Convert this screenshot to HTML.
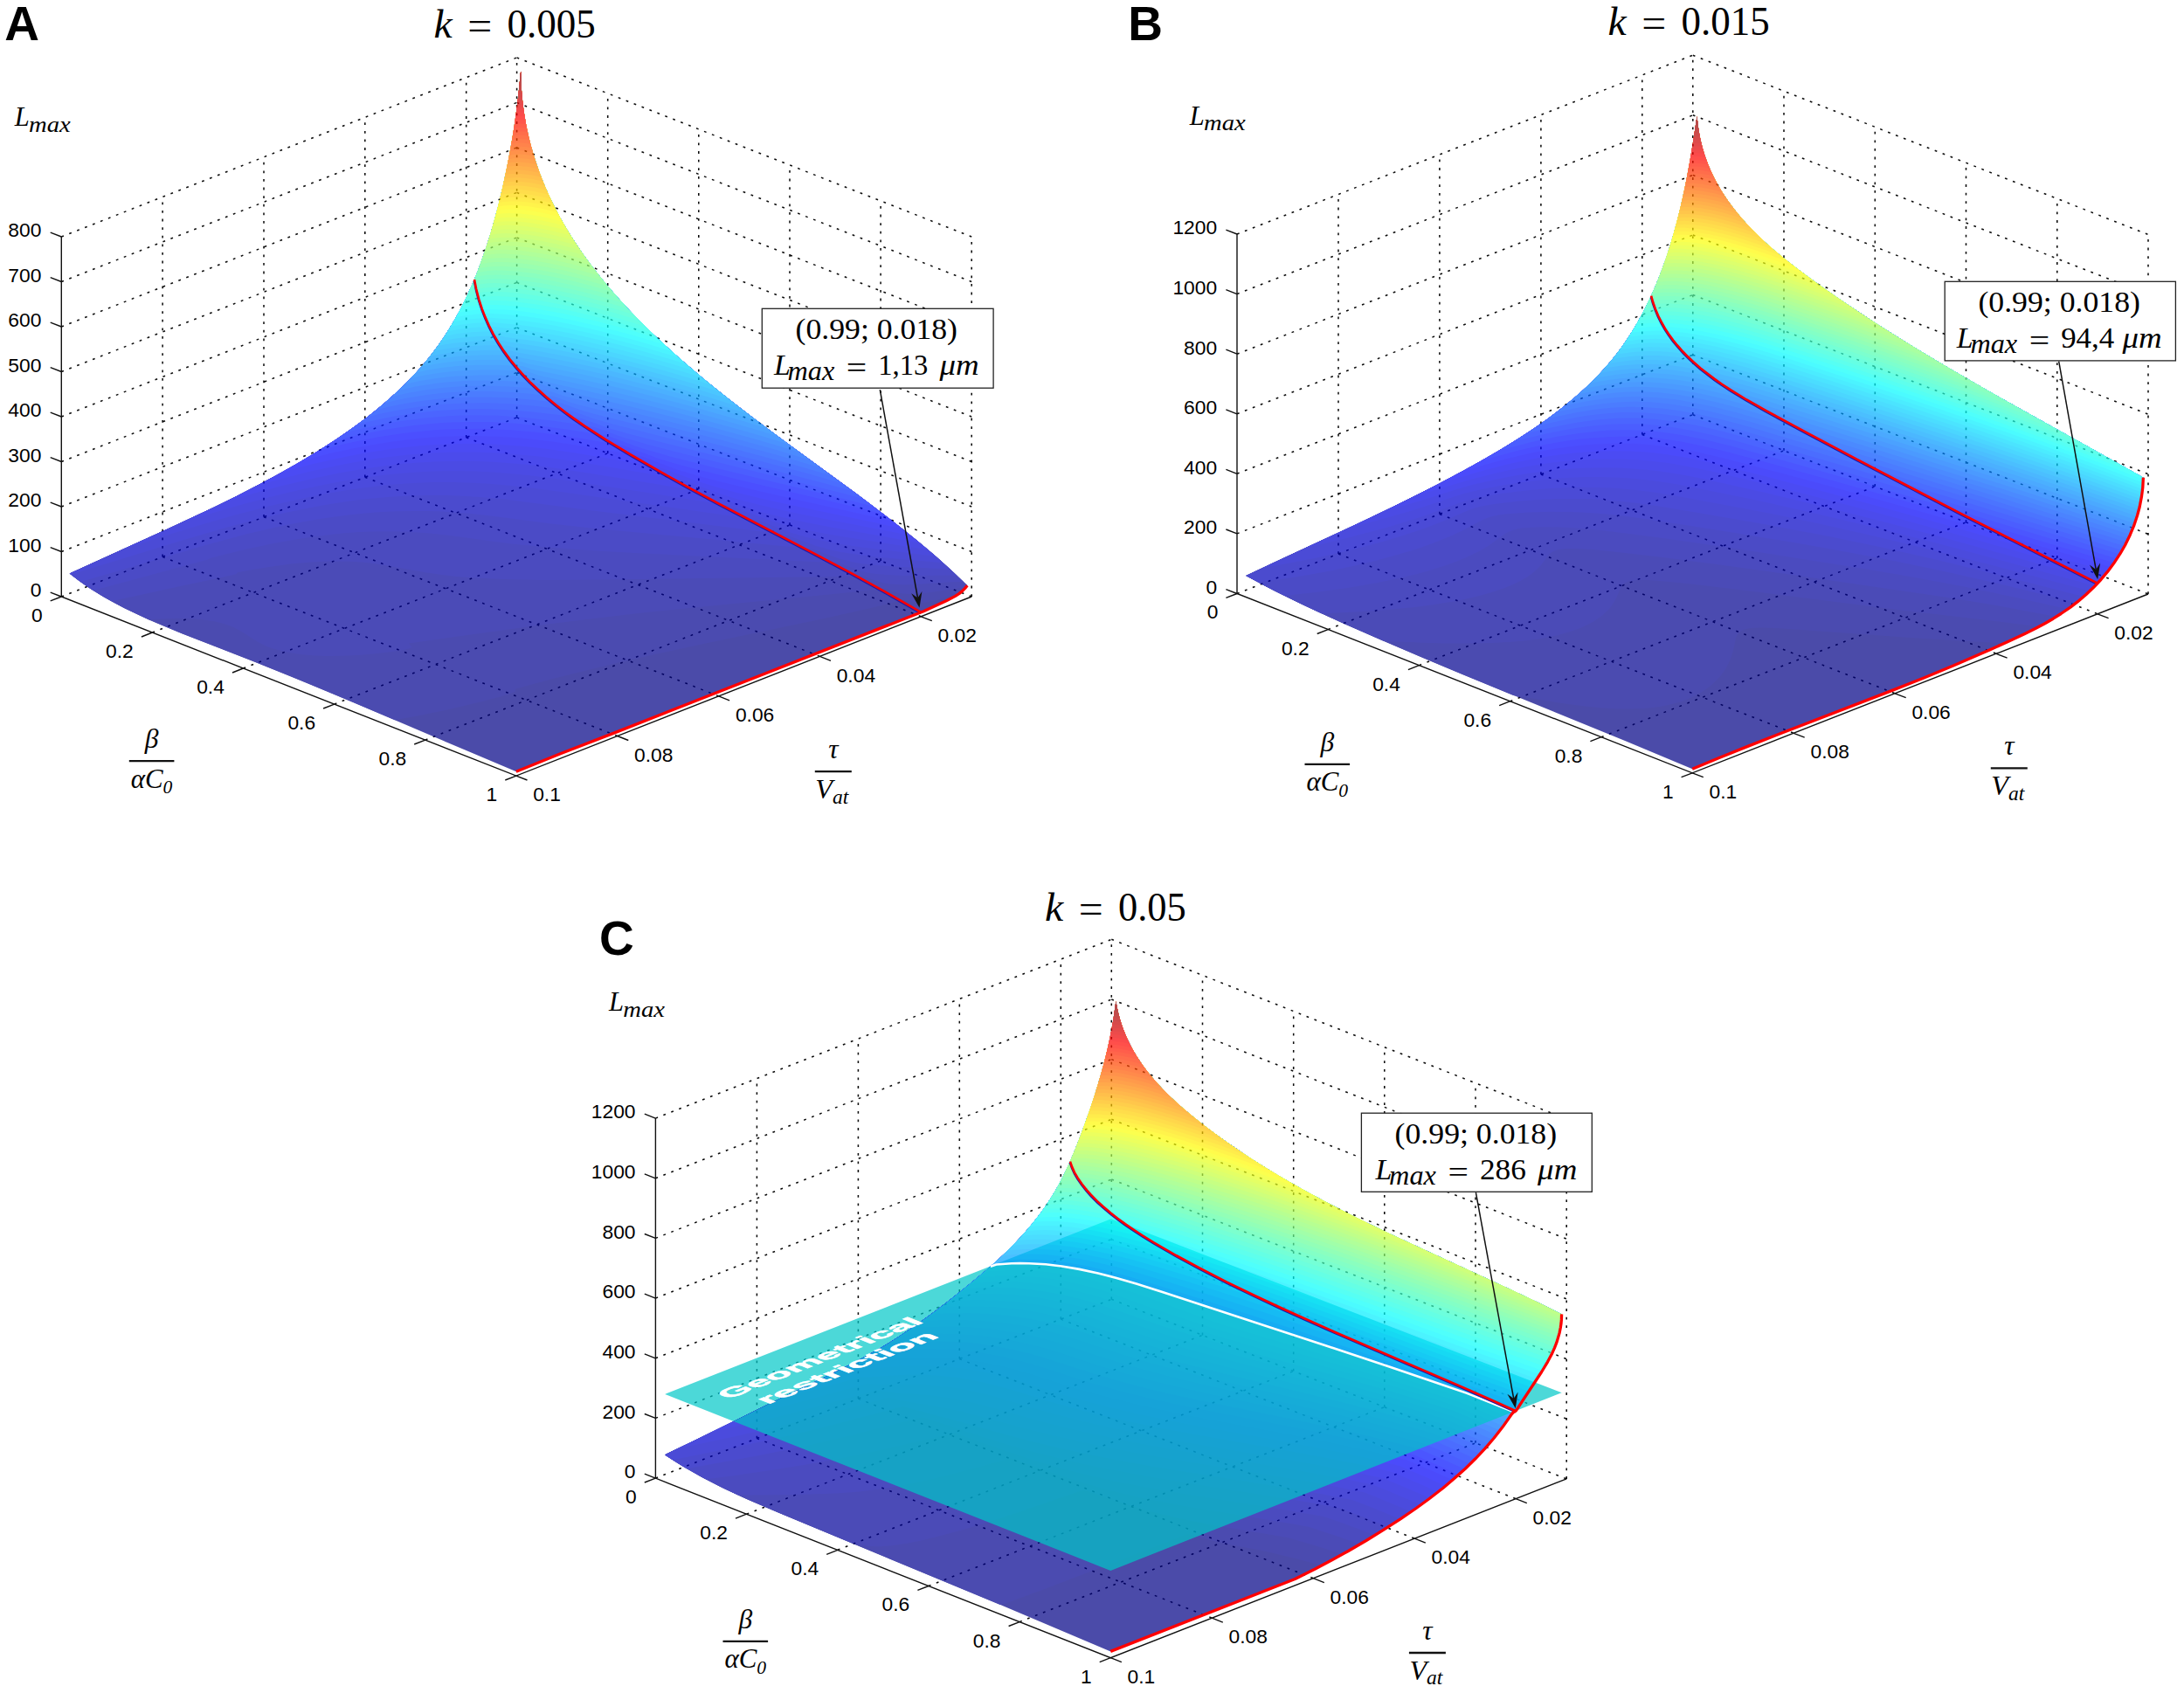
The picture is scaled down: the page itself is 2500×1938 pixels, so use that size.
<!DOCTYPE html>
<html><head><meta charset="utf-8"><title>Figure</title><style>html,body{margin:0;padding:0;background:#fff}svg{display:block}</style></head><body>
<svg width="2500" height="1938" viewBox="0 0 2500 1938">
<rect width="2500" height="1938" fill="#fff"/>
<path d="M186.1 637.4L186.1 225.4M302 591.8L302 179.8M417.8 546.3L417.8 134.3M533.7 500.7L533.7 88.7M591.6 477.9L591.6 65.9M695.7 518.9L695.7 106.9M799.8 559.9L799.8 147.9M904 601L904 189M1008.1 642L1008.1 230M1112.2 683L1112.2 271M70.3 683L591.6 477.9M591.6 477.9L1112.2 683M70.3 631.5L591.6 426.4M591.6 426.4L1112.2 631.5M70.3 580L591.6 374.9M591.6 374.9L1112.2 580M70.3 528.5L591.6 323.4M591.6 323.4L1112.2 528.5M70.3 477L591.6 271.9M591.6 271.9L1112.2 477M70.3 425.5L591.6 220.4M591.6 220.4L1112.2 425.5M70.3 374L591.6 168.9M591.6 168.9L1112.2 374M70.3 322.5L591.6 117.4M591.6 117.4L1112.2 322.5M70.3 271L591.6 65.9M591.6 65.9L1112.2 271M174.4 724L695.7 518.9M278.5 765L799.8 559.9M382.7 806.1L904 601M486.8 847.1L1008.1 642M186.1 637.4L706.7 842.5M302 591.8L822.6 796.9M417.8 546.3L938.4 751.4M533.7 500.7L1054.3 705.8" fill="none" stroke="#000" stroke-opacity="0.95" stroke-width="1.55" stroke-dasharray="2.8 6.8"/>

<g opacity="0.70">
<path fill="#000085" d="M79.7 656.4L88.9 663.6L98.4 670.4L108.1 676.8L119 683.4L130.8 690L143 696.4L156.7 703L171.7 709.9L208.3 725.2L291.7 757.7L353.3 782.7L404.4 804.1L532.4 858.6L590.9 883.2L642.4 862.5L705.2 838.2L1057.9 699.5L1084.2 687.3L1093.4 682.5L1097.5 679.8L1101.2 676.9L1104.5 673.7L1107.3 670.2L1091.3 654.9L1071.7 637.3L1048.8 618L1026.4 600.2L1004.7 583.5L980.2 565.1L899.2 506L866.8 482L833.8 456.6L805.6 433.9L774.7 407.5L748.6 383.5L734.4 369.6L722.8 357.7L711.8 345.9L701.3 334.2L689.7 320.5L677.4 304.8L666.1 289.2L655.6 273.6L646.1 258.1L637.5 242.5L629.7 226.9L622.8 211.3L616.8 195.8L611 178.5L606.7 163.2L602.8 146.3L599.9 129.7L597.8 113.6L596.6 98.2L596.1 81.8L593.7 106.5L590.4 133.5L586.3 159.8L581 188.6L575.1 216L569 240.9L562.1 265.8L555.3 287.1L546.7 311L540.8 325.1L532.1 344.2L522.6 362.4L512.4 379.6L503.1 393.5L491.5 408.9L479.2 423.5L466.2 437.3L452.3 450.6L437.8 463.5L420.2 477.7L403.9 489.7L384.4 503.2L363.9 516.4L342.3 529.4L319.7 542.3L296 555L271.2 567.8L245.4 580.5L194 604.6Z"/>
<path fill="#00008f" d="M79.7 656.4L88.5 663.3L97.7 669.9L107.3 676.3L118.1 682.8L128.6 688.8L140.5 695.1L167.1 707.8L186.6 716.3L208.3 725.2L284.3 754.8L333.6 774.6L385.8 796.3L452 824.3L479.6 819.3L500.4 815.1L525.1 809.6L553.1 802.8L575.1 796.9L587 793.1L590.2 791.6L589.9 788.7L631.2 777.6L671.3 767.5L710.2 758.1L751.5 748.8L801 738.1L941.4 708.4L995 696.4L1035.8 686.6L1046.6 690L1049.6 690.3L1057.3 689.9L1068.6 687.9L1088.8 681.9L1097.6 679.7L1102.9 675.3L1107.3 670.2L1091.3 654.9L1071.7 637.3L1048.8 618L1026.4 600.2L1004.7 583.5L980.2 565.1L899.2 506L866.8 482L833.8 456.6L805.6 433.9L774.7 407.5L748.6 383.5L734.4 369.6L722.8 357.7L711.8 345.9L701.3 334.2L689.7 320.5L677.4 304.8L666.1 289.2L655.6 273.6L646.1 258.1L637.5 242.5L629.7 226.9L622.8 211.3L616.8 195.8L611 178.5L606.7 163.2L602.8 146.3L599.9 129.7L597.8 113.6L596.6 98.2L596.1 81.8L593.7 106.5L590.4 133.5L586.3 159.8L581 188.6L575.1 216L569 240.9L562.1 265.8L555.3 287.1L546.7 311L540.8 325.1L532.1 344.2L522.6 362.4L512.4 379.6L503.1 393.5L491.5 408.9L479.2 423.5L466.2 437.3L452.3 450.6L437.8 463.5L420.2 477.7L403.9 489.7L384.4 503.2L363.9 516.4L342.3 529.4L319.7 542.3L296 555L271.2 567.8L245.4 580.5L194 604.6Z"/>
<path fill="#00009a" d="M79.7 656.4L88.9 663.6L98.4 670.4L108.1 676.8L119 683.4L130.8 690L143 696.4L170.7 709.4L177.5 708.8L191.9 708.2L212.6 708.1L222.3 708.5L231.3 709.2L245.1 711.2L257.1 714.2L267.4 718.1L276.4 722.9L291.5 732.6L297.1 735.9L305.7 740L313.4 742.7L322 745.1L328.4 746.6L342.9 748.9L359.9 750.5L374.7 751L391.4 750.8L410.4 749.9L432.1 748.1L448.7 746L464.2 743.4L468.5 742.3L471.7 740.8L467.7 736.4L609.4 716.7L667.6 709.4L730.7 702.1L796.8 695.2L954.3 680L985.2 676.7L1012.8 673.4L1028.5 678.7L1035.5 679.8L1044.4 679.9L1053 679.4L1061.8 678.5L1093.8 673.9L1099.9 672.8L1105.6 672.4L1107.3 670.2L1091.3 654.9L1071.7 637.3L1048.8 618L1026.4 600.2L1004.7 583.5L980.2 565.1L899.2 506L866.8 482L833.8 456.6L805.6 433.9L774.7 407.5L748.6 383.5L734.4 369.6L722.8 357.7L711.8 345.9L701.3 334.2L689.7 320.5L677.4 304.8L666.1 289.2L655.6 273.6L646.1 258.1L637.5 242.5L629.7 226.9L622.8 211.3L616.8 195.8L611 178.5L606.7 163.2L602.8 146.3L599.9 129.7L597.8 113.6L596.6 98.2L596.1 81.8L593.7 106.5L590.4 133.5L586.3 159.8L581 188.6L575.1 216L569 240.9L562.1 265.8L555.3 287.1L546.7 311L540.8 325.1L532.1 344.2L522.6 362.4L512.4 379.6L503.1 393.5L491.5 408.9L479.2 423.5L466.2 437.3L452.3 450.6L437.8 463.5L420.2 477.7L403.9 489.7L384.4 503.2L363.9 516.4L342.3 529.4L319.7 542.3L296 555L271.2 567.8L245.4 580.5L194 604.6Z"/>
<path fill="#0000a5" d="M79.7 656.4L90.3 664.7L101.8 672.7L114.2 680.6L127.7 688.3L204 671.4L265.8 658.3L270 657.2L272.1 655.2L284.8 652.7L311.1 648.4L334.9 645.3L356.4 643.4L376 642.5L387.7 642.4L400.9 642.8L414.1 643.6L423.6 644.5L443.9 647.4L487.1 655.2L507.9 658.2L523.2 659.9L539.8 661.2L576.8 663.1L618.6 663.9L670.7 663.8L942.2 660.3L987.3 659.3L1007.9 666.5L1016.7 668.2L1025 669L1035.8 669.2L1048.1 668.9L1088.7 666.3L1102.9 665.9L1087.4 651.3L1067.9 634L1048.8 618L1026.4 600.2L1004.7 583.5L980.2 565.1L899.2 506L866.8 482L833.8 456.6L805.6 433.9L774.7 407.5L748.6 383.5L734.4 369.6L722.8 357.7L711.8 345.9L701.3 334.2L689.7 320.5L677.4 304.8L666.1 289.2L655.6 273.6L646.1 258.1L637.5 242.5L629.7 226.9L622.8 211.3L616.8 195.8L611 178.5L606.7 163.2L602.8 146.3L599.9 129.7L597.8 113.6L596.6 98.2L596.1 81.8L593.7 106.5L590.4 133.5L586.3 159.8L581 188.6L575.1 216L569 240.9L562.1 265.8L555.3 287.1L546.7 311L540.8 325.1L532.1 344.2L522.6 362.4L512.4 379.6L503.1 393.5L491.5 408.9L479.2 423.5L466.2 437.3L452.3 450.6L437.8 463.5L420.2 477.7L403.9 489.7L384.4 503.2L363.9 516.4L342.3 529.4L319.7 542.3L296 555L271.2 567.8L245.4 580.5L194 604.6Z"/>
<path fill="#0000af" d="M79.7 656.4L92.4 666.2L106.7 675.9L229.6 642.7L237.9 640.4L241.1 638.8L276.2 630.1L309.5 622.7L326.9 619.4L344.7 616.4L361.4 613.9L378.2 611.9L394.3 610.3L411 609.1L428 608.4L443 608.2L469.2 608.8L495.1 610.7L517.2 613.2L566 620L587.7 622.7L619.3 625.8L654.1 628.6L686.9 630.7L727 632.9L920.2 642.5L959.5 644.2L985.3 653.4L995.8 655.9L1002.8 656.9L1012.1 657.8L1025.1 658.6L1036.5 658.9L1082 658.6L1095.5 658.9L1079.5 644.2L1064 630.7L1045 615L1022.8 597.4L980.2 565.1L899.2 506L866.8 482L836.5 458.7L808.1 435.9L777 409.5L761.4 395.5L748.6 383.5L734.4 369.6L722.8 357.7L711.8 345.9L701.3 334.2L689.7 320.5L677.4 304.8L666.1 289.2L655.6 273.6L646.1 258.1L637.5 242.5L629.7 226.9L622.8 211.3L616.8 195.8L611 178.5L606.7 163.2L602.8 146.3L599.9 129.7L597.8 113.6L596.6 98.2L596.1 81.8L593.7 106.5L590.4 133.5L586.3 159.8L581 188.6L575.1 216L569 240.9L562.1 265.8L555.3 287.1L546.7 311L540.8 325.1L532.1 344.2L522.6 362.4L512.4 379.6L503.1 393.5L491.5 408.9L479.2 423.5L466.2 437.3L452.3 450.6L437.8 463.5L420.2 477.7L403.9 489.7L384.4 503.2L363.9 516.4L342.3 529.4L319.7 542.3L296 555L271.2 567.8L245.4 580.5L194 604.6Z"/>
<path fill="#0000ba" d="M79.7 656.4L92.2 666.1L138.1 652.8L215.2 630.1L222.8 627.5L239.2 622.9L283.7 611.1L320.3 602.6L340.8 598.5L361.6 594.8L379.5 592L399.1 589.5L417.9 587.5L436.1 586.1L455.1 585.2L474 584.9L490.5 585L506.7 585.6L537 587.8L563.7 590.8L631.2 599.5L673.9 604.3L929.5 628.2L960.6 639.6L973.2 642.8L984.9 644.9L999.8 646.8L1018.2 648.3L1075.8 650.9L1087.8 651.7L1071.7 637.3L1056.4 624.3L1037.5 608.9L1019.1 594.5L976.7 562.6L899.2 506L866.8 482L836.5 458.7L808.1 435.9L777 409.5L761.4 395.5L748.6 383.5L734.4 369.6L722.8 357.7L710 344L699.6 332.2L688.1 318.5L676 302.9L664.7 287.3L654.4 271.7L646.1 258.1L637.5 242.5L629.7 226.9L622.8 211.3L616.8 195.8L611 178.5L606.7 163.2L602.8 146.3L599.9 129.7L597.8 113.6L596.6 98.2L596.1 81.8L593.7 106.5L590.4 133.5L586.3 159.8L581 188.6L575.1 216L569 240.9L562.1 265.8L555.3 287.1L546.7 311L540.8 325.1L532.1 344.2L522.6 362.4L512.4 379.6L503.1 393.5L491.5 408.9L479.2 423.5L466.2 437.3L452.3 450.6L437.8 463.5L420.2 477.7L403.9 489.7L384.4 503.2L363.9 516.4L342.3 529.4L319.7 542.3L296 555L271.2 567.8L245.4 580.5L194 604.6Z"/>
<path fill="#0000c5" d="M79.7 656.4L81 657.5L121.8 645.3L209.8 618.2L253.5 605.5L292.6 595.1L327.7 586.8L351.2 581.9L371 578.3L391 575L412 572.1L432 569.9L450.3 568.4L470.3 567.4L489.5 566.9L512.1 567.1L534 567.9L555.7 569.5L577.4 571.6L602.5 574.7L678 584.6L788.7 598L898.1 611.7L934.4 625.1L948.9 629.1L962.5 631.9L982.2 635L1004.7 637.7L1065.3 642.9L1079.7 644.4L1064 630.7L1048.8 618L1015.5 591.7L976.7 562.6L899.2 506L869.7 484.1L836.5 458.7L808.1 435.9L777 409.5L761.4 395.5L748.6 383.5L734.4 369.6L722.8 357.7L710 344L699.6 332.2L688.1 318.5L676 302.9L664.7 287.3L654.4 271.7L646.1 258.1L637.5 242.5L629.7 226.9L622.8 211.3L616.8 195.8L611 178.5L606.7 163.2L602.8 146.3L599.9 129.7L597.8 113.6L596.6 98.2L596.1 81.8L593.7 106.5L590.4 133.5L586.3 159.8L581 188.6L575.1 216L569 240.9L562.1 265.8L555.3 287.1L546.7 311L540.8 325.1L532.1 344.2L522.6 362.4L512.4 379.6L503.1 393.5L491.5 408.9L479.2 423.5L466.2 437.3L452.3 450.6L437.8 463.5L420.2 477.7L403.9 489.7L384.4 503.2L363.9 516.4L342.3 529.4L319.7 542.3L296 555L271.2 567.8L245.4 580.5L194 604.6Z"/>
<path fill="#0000cf" d="M215 594.9L138.4 629.7L191.7 612.6L231.2 600.6L262 591.6L284.9 585.4L307.6 579.6L330.3 574.2L352.9 569.3L375.6 564.8L398 561L417.8 558.2L437.5 555.8L454.6 554.2L474.1 552.9L495.4 552.1L514 552L536.4 552.5L559.5 553.8L581.8 555.7L608.1 558.6L637.9 562.5L758 579.4L866.6 595.1L906.9 610.2L923.4 614.9L941.4 619L961.6 622.7L986.3 626.4L1071.2 636.9L1045 615L1011.9 589L973.3 560.1L899.2 506L869.7 484.1L836.5 458.7L808.1 435.9L791 421.7L774.7 407.5L759.2 393.5L746.5 381.5L732.4 367.6L720.9 355.8L708.2 342L697.9 330.2L686.6 316.5L674.5 300.9L663.4 285.3L653.2 269.7L645 256.1L636.4 240.5L628.8 224.9L622 209.4L616.1 193.9L611 178.5L606.7 163.2L602.8 146.3L599.9 129.7L597.8 113.6L596.6 98.2L596.1 81.8L593.7 106.5L590.7 131L586.7 157.1L582.1 182.6L576.5 209.8L570.6 234.7L563.9 259.6L557.3 281.1L551.1 299L543.2 319.5L534.6 338.8L526.7 354.7L516.8 372.3L507.8 386.6L498.2 400.2L486.3 415.2L475.6 427.5L462.3 441.2L448.3 454.3L433.5 467.1L417.9 479.4L399.2 493.1L381.9 504.9L361.3 518L339.5 531L316.8 543.9L292.9 556.6L268 569.4L242.1 582.1Z"/>
<path fill="#0000da" d="M238.7 583.7L207 598.6L229.6 591.4L257.3 583.1L283.4 575.7L306 569.7L328.1 564.2L350.5 559.1L371.4 554.7L393.3 550.6L414.8 547.1L433.6 544.5L452.2 542.5L470.4 540.9L488.5 539.8L508.9 539.2L526.9 539.2L544.5 539.6L565 540.6L585.7 542.2L606.2 544.3L632.2 547.6L664.7 552.3L731.6 562.5L836 579L879 595L897.2 600.4L917.7 605.4L940 610L968.9 615.1L1062.3 629.2L1037.5 608.9L1008.3 586.2L973.3 560.1L899.2 506L869.7 484.1L836.5 458.7L808.1 435.9L791 421.7L774.7 407.5L759.2 393.5L746.5 381.5L732.4 367.6L720.9 355.8L708.2 342L697.9 330.2L686.6 316.5L674.5 300.9L663.4 285.3L653.2 269.7L645 256.1L636.4 240.5L628.8 224.9L622 209.4L616.1 193.9L611 178.5L606.7 163.2L602.8 146.3L599.9 129.7L597.8 113.6L596.6 98.2L596.1 81.8L593.9 104.6L591 128.6L587.6 151.6L583.3 176.8L578.5 200.6L572.9 225.3L567.4 247.2L561.2 268.9L554.3 290.1L546.7 311L539.6 327.9L533.4 341.5L525.4 357.3L516.8 372.3L507.8 386.6L498.2 400.2L488.1 413.2L477.4 425.5L466.2 437.3L452.3 450.6L439.9 461.7L424.7 474.2L408.7 486.3L391.9 498.2L374.3 509.8L353.2 522.9L333.9 534.2L310.9 547.1L289.9 558.2L264.9 571Z"/>
<path fill="#0000e4" d="M283.7 561.4L257.3 574.7L276.5 568.8L301.5 561.8L323.1 556.1L346.8 550.4L366.4 546L386.9 541.8L407 538.2L426 535.2L444 532.8L462.3 530.8L479.6 529.4L496.7 528.4L513.7 527.9L532 527.8L548.7 528.1L567.5 529L584.5 530.2L604.5 532L622.3 534.1L645.5 537.2L714.2 548.1L807.3 563.5L851.2 579.9L870.6 585.9L894.3 591.8L920.4 597.6L949.5 603.3L1052.9 621.4L1026.4 600.2L994.1 575.5L893.2 501.5L861.2 477.7L833.8 456.6L808.1 435.9L791 421.7L774.7 407.5L759.2 393.5L746.5 381.5L732.4 367.6L719.1 353.8L706.5 340L696.2 328.3L685 314.6L673.1 299L663.4 285.3L653.2 269.7L645 256.1L636.4 240.5L628.8 224.9L622 209.4L616.1 193.9L611 178.5L606.7 163.2L602.8 146.3L599.9 129.7L597.8 113.6L596.6 98.2L596.1 81.8L593.9 104.6L591.4 126.2L588.1 149L584.3 171.1L579.8 194.5L574.4 219.1L569 240.9L563 262.7L557.3 281.1L551.1 299L545.5 313.9L537.2 333.4L529.4 349.5L521.2 364.9L512.4 379.6L504.7 391.3L496.5 402.4L486.3 415.2L475.6 427.5L464.2 439.3L452.3 450.6L439.9 461.7L426.9 472.4L411 484.6L396.8 494.8L379.4 506.5L363.9 516.4L345.1 527.8L325.4 539L305 550.3Z"/>
<path fill="#0000ef" d="M316.8 543.9L293.6 556.3L310.7 551.2L334.1 544.9L357 539.3L378.8 534.5L397.1 530.8L415.7 527.5L433.8 524.6L450.9 522.4L467.2 520.6L483.6 519.2L499.9 518.2L516.6 517.6L535.2 517.4L551.6 517.7L568.4 518.4L585.5 519.5L617 522.6L652 527.3L695.6 534.3L781 549L824.3 565.2L844.4 571.4L869.5 577.9L897.5 584.4L927.3 590.7L1023.4 609.3L1043.1 613.4L1019.1 594.5L990.6 572.9L893.2 501.5L861.2 477.7L831.2 454.5L805.6 433.9L788.6 419.6L772.5 405.5L757 391.5L744.4 379.5L730.5 365.6L717.2 351.8L704.7 338.1L694.6 326.3L683.5 312.6L671.6 297L662 283.4L651.9 267.8L643.9 254.2L635.4 238.6L627.9 223L621.3 207.4L615.4 192L610.4 176.6L606.2 161.3L602.4 144.4L599.9 129.7L597.8 113.6L596.6 98.2L596.1 81.8L594.1 102.7L591.7 123.8L588.5 146.3L584.8 168.2L580.4 191.5L575.8 212.9L570.6 234.7L565.7 253.4L560.2 271.9L554.3 290.1L546.7 311L542 322.3L534.6 338.8L528.1 352.1L519.7 367.4L512.4 379.6L503.1 393.5L494.9 404.6L486.3 415.2L475.6 427.5L466.2 437.3L454.4 448.8L442 459.8L429.1 470.6L415.6 481.2L401.6 491.4L386.9 501.5L371.7 511.5L355.9 521.3L336.7 532.6Z"/>
<path fill="#0000fa" d="M342.3 529.4L321.9 541L336.4 536.8L356.5 531.6L376.2 526.9L396.2 522.7L415.2 519L432.3 516.2L449.1 513.8L466.1 511.7L483.4 510.1L497.4 509.1L514.6 508.2L530.3 507.9L548.6 508L564.4 508.5L580.7 509.4L597.4 510.7L623.8 513.6L656.7 518.2L694.5 524.4L756.9 535.4L798.7 551L819.1 557.3L841.8 563.4L870.8 570.4L903.7 577.8L1009.8 600.1L1032.8 605.2L1011.9 589L983.6 567.7L896.2 503.7L864 479.8L833.8 456.6L805.6 433.9L788.6 419.6L772.5 405.5L757 391.5L742.4 377.5L728.5 363.7L715.4 349.9L703 336.1L693 324.4L681.9 310.7L670.2 295.1L660.7 281.4L650.7 265.8L642.8 252.2L634.5 236.6L627.9 223L621.3 207.4L615.4 192L610.4 176.6L606.2 161.3L602.4 144.4L599.9 129.7L597.8 113.6L596.6 98.2L596.1 81.8L594.1 102.7L591.7 123.8L588.9 143.7L585.3 165.4L581 188.6L576.5 209.8L571.4 231.6L566.5 250.3L561.2 268.9L556.3 284.1L551.1 299L544.4 316.7L537.2 333.4L530.8 346.9L524 359.8L516.8 372.3L509.3 384.3L501.5 395.8L493.2 406.8L484.6 417.3L475.6 427.5L464.2 439.3L454.4 448.8L442 459.8L431.3 468.9L417.9 479.4L403.9 489.7L389.4 499.9L374.3 509.8L358.6 519.7Z"/>
<path fill="#0005ff" d="M345.1 527.8L358.8 523.9L376.9 519.3L394.1 515.4L412.3 511.7L444.8 506.2L461.2 503.9L477.8 502.1L492.4 500.8L508.3 499.8L524.8 499.2L540.2 499L555 499.2L572.8 499.9L589.8 501.1L606.4 502.6L632 505.6L658.9 509.4L690.9 514.7L735 522.6L774.8 537.4L794.9 543.6L815.5 549.2L843.1 556.1L877.4 564.2L993.8 590.2L1022.2 596.9L980.2 565.1L899.2 506L866.8 482L833.8 456.6L803.1 431.9L786.3 417.6L770.2 403.5L754.9 389.5L740.4 375.5L726.6 361.7L713.6 347.9L701.3 334.2L691.3 322.4L680.4 308.7L668.8 293.1L659.4 279.5L649.6 263.9L641.7 250.3L633.5 234.7L627 221.1L620.5 205.5L614.8 190L609.9 174.7L605.8 159.4L602.4 144.4L599.9 129.7L597.8 113.6L596.6 98.2L596.1 81.8L594.3 100.9L592 121.5L589.3 141.1L585.8 162.6L582.1 182.6L577.9 203.6L572.9 225.3L568.2 244.1L563 262.7L558.3 278L553.2 293.1L546.7 311L540.8 325.1L534.6 338.8L528.1 352.1L521.2 364.9L515.4 374.7L507.8 386.6L499.8 398L491.5 408.9L482.8 419.4L473.7 429.5L464.2 439.3L452.3 450.6L442 459.8L429.1 470.6L417.9 479.4L403.9 489.7L391.9 498.2L376.9 508.2L361.3 518Z"/>
<path fill="#0010ff" d="M381.9 504.9L364.6 515.9L379 512L397.6 507.5L416.4 503.5L434.7 500.1L465.2 495.6L495.2 492.5L509.5 491.6L526.2 490.9L554.4 490.8L584.2 492.2L616 495.1L636.8 497.7L659.8 501.1L684.6 505.2L714.9 510.6L752.5 524.5L772.2 530.6L792.8 536.1L848.9 550L974.9 579.5L1011.2 588.4L976.7 562.6L899.2 506L864 479.8L831.2 454.5L800.7 429.8L783.9 415.6L768 401.5L752.8 387.5L738.4 373.6L724.7 359.7L711.8 345.9L699.6 332.2L689.7 320.5L678.9 306.8L668.8 293.1L659.4 279.5L649.6 263.9L641.7 250.3L633.5 234.7L627 221.1L620.5 205.5L614.8 190L609.9 174.7L605.8 159.4L602.4 144.4L599.9 129.7L597.8 113.6L596.6 98.2L596.1 81.8L594.3 100.9L592 121.5L589.3 141.1L586.3 159.8L582.7 179.7L578.5 200.6L574.4 219.1L569.8 237.8L564.8 256.5L559.3 275L553.2 293.1L546.7 311L537.2 333.4L526.7 354.7L519.7 367.4L512.4 379.6L504.7 391.3L498.2 400.2L491.5 408.9L482.8 419.4L473.7 429.5L464.2 439.3L454.4 448.8L444.1 458L433.5 467.1L420.2 477.7L408.7 486.3L394.3 496.5Z"/>
<path fill="#001bff" d="M396.8 494.8L381.4 505.2L394.9 501.6L411.8 497.6L427 494.4L442.4 491.6L457.7 489.2L473.2 487.1L488.9 485.4L504 484.2L517.8 483.4L533.8 482.9L561.9 483.1L591.2 484.7L622.7 487.9L658.8 492.9L696.8 499.3L731.8 512.3L742.7 515.6L765.1 521.9L818.5 535.4L958.7 569.3L999.9 579.8L966.5 555.1L893.2 501.5L864 479.8L828.5 452.4L798.2 427.8L781.6 413.6L765.8 399.5L750.7 385.5L736.4 371.6L722.8 357.7L710 344L697.9 330.2L688.1 318.5L677.4 304.8L667.4 291.2L658.1 277.5L648.4 261.9L640.6 248.3L632.5 232.7L626.2 219.1L619.7 203.6L614.1 188.1L609.3 172.7L605.3 157.6L602.1 142.6L599.6 127.9L597.6 111.8L596.5 96.5L596.1 81.8L594.5 99.2L592.5 117L590 136L587.2 154.4L583.8 173.9L579.8 194.5L575.8 212.9L571.4 231.6L566.5 250.3L562.1 265.8L557.3 281.1L552.2 296.1L546.7 311L542 322.3L535.9 336.1L529.4 349.5L524 359.8L516.8 372.3L509.3 384.3L503.1 393.5L496.5 402.4L488.1 413.2L481 421.4L471.8 431.5L462.3 441.2L452.3 450.6L442 459.8L431.3 468.9L420.2 477.7L408.7 486.3Z"/>
<path fill="#0025ff" d="M420.2 477.7L396.1 495.3L408 492.1L422.9 488.7L438.5 485.5L455.6 482.6L470.6 480.4L485.8 478.5L513.9 476.2L529.2 475.5L542.6 475.3L569.9 475.8L598.6 477.7L631.9 481.4L656.6 484.9L680.7 488.9L712.8 500.6L738.5 508.1L780.5 518.9L924.2 554.4L962.1 564L988.2 571.1L896.2 503.7L864 479.8L828.5 452.4L795.8 425.7L779.3 411.5L763.6 397.5L748.6 383.5L734.4 369.6L720.9 355.8L708.2 342L696.2 328.3L686.6 316.5L676 302.9L666.1 289.2L656.9 275.6L647.2 260L639.5 246.4L632.5 232.7L626.2 219.1L619.7 203.6L614.1 188.1L609.3 172.7L605.3 157.6L602.1 142.6L599.6 127.9L597.6 111.8L596.5 96.5L596.1 81.8L594.5 99.2L592.5 117L587.6 151.6L581 188.6L572.9 225.3L564.8 256.5L560.2 271.9L555.3 287.1L545.5 313.9L539.6 327.9L533.4 341.5L526.7 354.7L521.2 364.9L515.4 374.7L507.8 386.6L501.5 395.8L494.9 404.6L488.1 413.2L479.2 423.5L471.8 431.5L462.3 441.2L452.3 450.6L442 459.8L431.3 468.9Z"/>
<path fill="#0030ff" d="M422.4 475.9L409 486.1L422.5 482.6L439 479L454.8 476.1L471.6 473.4L498.3 470.3L525.8 468.5L551.3 468.1L579.2 469L609.1 471.4L639.8 475.1L666.6 479.2L695.6 489.7L720.1 496.8L751.5 504.8L893.5 540.2L942.7 553L976.3 562.3L896.2 503.7L858.4 475.5L823.3 448.3L791 421.7L774.7 407.5L759.2 393.5L744.4 379.5L732.4 367.6L719.1 353.8L706.5 340L696.2 328.3L685 314.6L674.5 300.9L664.7 287.3L655.6 273.6L646.1 258.1L638.5 244.4L631.6 230.8L625.3 217.2L619 201.6L614.1 188.1L609.3 172.7L605.3 157.6L602.1 142.6L599.6 127.9L597.6 111.8L596.5 96.5L596.1 81.8L594.5 99.2L592.5 117L587.6 151.6L581.6 185.6L573.7 222.2L565.7 253.4L557.3 281.1L546.7 311L537.2 333.4L530.8 346.9L525.4 357.3L519.7 367.4L513.9 377.2L507.8 386.6L501.5 395.8L494.9 404.6L486.3 415.2L479.2 423.5L470 433.4L462.3 441.2L452.3 450.6L433.5 467.1Z"/>
<path fill="#003aff" d="M433.5 467.1L420.5 477.4L433.6 474.1L449.6 470.7L464.8 468L481.5 465.5L507.7 462.7L531.8 461.4L556.8 461.2L583.3 462.3L612.6 464.7L643.5 468.6L654.3 470.2L680.2 479.5L703.3 486L867.3 527.1L924.3 542.1L964.2 553.4L893.2 501.5L855.6 473.4L818.2 444.2L786.3 417.6L770.2 403.5L754.9 389.5L740.4 375.5L728.5 363.7L715.4 349.9L703 336.1L693 324.4L681.9 310.7L671.6 297L662 283.4L653.2 269.7L645 256.1L637.5 242.5L630.6 228.8L624.5 215.2L618.2 199.7L613.5 186.2L608.8 170.8L604.9 155.7L601.7 140.7L599.3 126.1L597.6 111.8L596.5 96.5L596.1 81.8L592.8 114.8L588.1 149L582.1 182.6L575.1 216L567.4 247.2L559.3 275L553.2 293.1L546.7 311L539.6 327.9L529.4 349.5L518.3 369.8L512.4 379.6L506.2 389L499.8 398L493.2 406.8L479.2 423.5L471.8 431.5L462.3 441.2L444.1 458Z"/>
<path fill="#0045ff" d="M450.3 452.5L430.8 469.2L442.5 466.3L457.7 463.1L481.9 459.1L506.6 456.3L531.9 454.7L557.5 454.5L584.8 455.6L613.4 458L643.4 461.7L666.4 470L681.7 474.2L797.2 502.9L847.8 515.8L907.7 531.8L952 544.4L890.2 499.3L850 469.2L815.6 442.1L783.9 415.6L768 401.5L752.8 387.5L738.4 373.6L726.6 361.7L713.6 347.9L701.3 334.2L691.3 322.4L680.4 308.7L670.2 295.1L660.7 281.4L651.9 267.8L643.9 254.2L636.4 240.5L629.7 226.9L623.7 213.3L617.5 197.8L612.8 184.2L608.2 168.9L604.9 155.7L601.7 140.7L599.3 126.1L597.6 111.8L596.5 96.5L596.1 81.8L592.8 114.8L588.5 146.3L582.7 179.7L575.8 212.9L568.2 244.1L560.2 271.9L552.2 296.1L546.7 311L542 322.3L532.1 344.2L521.2 364.9L515.4 374.7L509.3 384.3L503.1 393.5L496.5 402.4L482.8 419.4L468.1 435.4L460.3 443.1Z"/>
<path fill="#0050ff" d="M458.4 445L440.2 461.4L450.1 459L462.4 456.3L486.6 452.3L510.2 449.6L535.4 448.1L559.3 448L581.7 448.8L606.9 450.7L633.7 453.8L654.3 461L662 463.2L768.4 489.3L825 503.6L888.4 520.6L939.6 535.4L884.2 494.9L844.6 465L808.1 435.9L777 409.5L761.4 395.5L746.5 381.5L732.4 367.6L720.9 355.8L708.2 342L697.9 330.2L688.1 318.5L677.4 304.8L667.4 291.2L658.1 277.5L649.6 263.9L641.7 250.3L634.5 236.6L627.9 223L622 209.4L616.8 195.8L612.2 182.3L607.7 167L604.4 153.8L601.4 138.9L599.1 124.3L597.5 110.1L596.5 96.5L596.1 81.8L593 112.7L588.9 143.7L583.3 176.8L576.5 209.8L569.8 237.8L562.1 265.8L554.3 290.1L544.4 316.7L534.6 338.8L524 359.8L518.3 369.8L512.4 379.6L501.5 395.8L494.9 404.6L488.1 413.2L473.7 429.5Z"/>
<path fill="#005aff" d="M466.2 437.3L448.7 453.9L468.4 449.5L490.8 445.7L513.7 443.2L536.1 441.8L556.9 441.6L578.6 442.2L601.3 443.8L625.1 446.3L643.4 452.6L650.5 454.5L749.1 478.2L790.9 488.7L828.1 498.3L882 513.1L927.2 526.4L875.5 488.4L836.5 458.7L803.1 431.9L772.5 405.5L757 391.5L742.4 377.5L728.5 363.7L717.2 351.8L704.7 338.1L694.6 326.3L685 314.6L674.5 300.9L666.1 289.2L656.9 275.6L648.4 261.9L640.6 248.3L633.5 234.7L627 221.1L621.3 207.4L616.1 193.9L611.6 180.4L607.7 167L604.4 153.8L601.4 138.9L599.1 124.3L597.5 110.1L596.5 96.5L596.1 81.8L593.3 110.6L589.3 141.1L584.3 171.1L577.9 203.6L571.4 231.6L563.9 259.6L556.3 284.1L546.7 311L537.2 333.4L528.1 352.1L516.8 372.3L506.2 389L494.9 404.6L481 421.4Z"/>
<path fill="#0065ff" d="M473.7 429.5L456.5 446.7L475.3 442.5L496.1 439.2L516.2 436.9L537.1 435.7L556.4 435.4L575.4 435.9L595.7 437.1L617.4 439.1L633.7 444.7L640.3 446.4L722.5 465.5L764.7 475.9L806.8 486.7L865.8 502.9L914.9 517.4L866.8 482L828.5 452.4L795.8 425.7L779.3 411.5L765.8 399.5L750.7 385.5L738.4 373.6L724.7 359.7L713.6 347.9L701.3 334.2L691.3 322.4L681.9 310.7L671.6 297L663.4 285.3L654.4 271.7L646.1 258.1L638.5 244.4L632.5 232.7L626.2 219.1L620.5 205.5L615.4 192L611 178.5L607.2 165.1L604 151.9L601.1 137L599.1 124.3L597.5 110.1L596.5 96.5L596.1 81.8L593.3 110.6L589.3 141.1L584.3 171.1L577.9 203.6L571.4 231.6L563.9 259.6L556.3 284.1L546.7 311L538.4 330.7L529.4 349.5L519.7 367.4L509.3 384.3L498.2 400.2L486.3 415.2Z"/>
<path fill="#0070ff" d="M477.4 425.5L463.7 439.8L481 436L499.5 433L516.9 431L533.2 429.9L552.1 429.4L570.4 429.6L589.6 430.5L610.4 432.2L625 437.1L631.1 438.6L674.1 448.1L705.2 455.2L747.2 465.4L786 475.3L849.9 492.7L877.6 500.8L902.6 508.4L858.4 475.5L823.3 448.3L791 421.7L774.7 407.5L761.4 395.5L746.5 381.5L734.4 369.6L720.9 355.8L710 344L699.6 332.2L689.7 320.5L680.4 308.7L670.2 295.1L662 283.4L653.2 269.7L646.1 258.1L638.5 244.4L632.5 232.7L626.2 219.1L620.5 205.5L615.4 192L611 178.5L607.2 165.1L604 151.9L601.1 137L599.1 124.3L597.5 110.1L596.5 96.5L596.1 81.8L593.3 110.6L589.3 141.1L584.3 171.1L577.9 203.6L571.4 231.6L563.9 259.6L556.3 284.1L546.7 311L538.4 330.7L529.4 349.5L519.7 367.4L510.9 381.9L501.5 395.8L489.8 411Z"/>
<path fill="#007aff" d="M484.6 417.3L470.3 433L486.1 429.6L502.5 426.9L519.4 425L537.1 423.9L553.2 423.4L569.8 423.6L586.8 424.3L604.2 425.6L617.2 429.9L667.2 440.6L693 446.4L726.5 454.4L765.7 464.2L800.9 473.5L831.4 481.9L863 491.1L890.5 499.5L847.3 467.1L813.1 440.1L781.6 413.6L754.9 389.5L740.4 375.5L728.5 363.7L717.2 351.8L706.5 340L696.2 328.3L686.6 316.5L677.4 304.8L667.4 291.2L659.4 279.5L650.7 265.8L643.9 254.2L636.4 240.5L630.6 228.8L624.5 215.2L619.7 203.6L614.8 190L610.4 176.6L606.7 163.2L603.6 150L601.1 137L599.1 124.3L597.5 110.1L596.5 96.5L596.1 81.8L593.3 110.6L589.6 138.5L585.3 165.4L579.8 194.5L573.7 222.2L567.4 247.2L560.2 271.9L552.2 296.1L545.5 313.9L535.9 336.1L526.7 354.7L516.8 372.3L507.8 386.6L496.5 402.4Z"/>
<path fill="#0085ff" d="M489.8 411L476.5 426.5L489.9 423.5L505.4 421L520.8 419.3L536.1 418.2L550.8 417.7L566.2 417.7L581.7 418.2L598.5 419.3L610 422.9L653.6 431.8L682.2 438L714.9 445.6L749.8 454.3L785.1 463.6L819 472.9L850.7 482.1L878.5 490.7L841.9 462.9L808.1 435.9L777 409.5L750.7 385.5L736.4 371.6L724.7 359.7L713.6 347.9L703 336.1L693 324.4L683.5 312.6L674.5 300.9L664.7 287.3L656.9 275.6L648.4 261.9L641.7 250.3L634.5 236.6L628.8 224.9L622.8 211.3L618.2 199.7L613.5 186.2L609.9 174.7L606.2 161.3L603.2 148.2L600.7 135.2L598.8 122.5L597.3 108.3L596.4 94.9L596.1 81.8L593.7 106.5L590.4 133.5L586.3 159.8L581 188.6L575.1 216L568.2 244.1L561.2 268.9L554.3 290.1L546.7 311L539.6 327.9L530.8 346.9L521.2 364.9L510.9 381.9L501.5 395.8Z"/>
<path fill="#008fff" d="M494.9 404.6L482.2 420.1L494.2 417.5L508 415.3L521.9 413.6L536.2 412.5L550.1 412L563.7 411.9L577.1 412.2L593.3 413.1L603.6 416.3L644 424L668.4 429.1L700.1 436.3L734.6 444.7L770 453.9L804.1 463.2L836.6 472.7L866.9 482L831.2 454.5L798.2 427.8L770.2 403.5L744.4 379.5L730.5 365.6L719.1 353.8L708.2 342L697.9 330.2L688.1 318.5L678.9 306.8L670.2 295.1L662 283.4L654.4 271.7L647.2 260L640.6 248.3L633.5 234.7L627.9 223L622 209.4L617.5 197.8L612.8 184.2L609.3 172.7L605.8 159.4L602.8 146.3L600.4 133.4L598.6 120.7L597.3 108.3L596.4 94.9L596.1 81.8L593.7 106.5L590.4 133.5L586.3 159.8L581.6 185.6L575.8 212.9L569.8 237.8L563 262.7L556.3 284.1L546.7 311L542 322.3L533.4 341.5L524 359.8L513.9 377.2L504.7 391.3Z"/>
<path fill="#009aff" d="M498.2 400.2L487.4 413.9L498.5 411.5L510.8 409.5L523.7 408L537.2 406.9L549.7 406.4L562.4 406.3L575.4 406.5L588.5 407.1L597.7 409.8L636.8 416.9L667.2 423.1L693.9 429.1L720.1 435.4L755.4 444.5L792.7 454.6L825.1 464L855.5 473.4L820.7 446.2L791 421.7L763.6 397.5L738.4 373.6L726.6 361.7L715.4 349.9L704.7 338.1L694.6 326.3L685 314.6L676 302.9L667.4 291.2L659.4 279.5L651.9 267.8L645 256.1L638.5 244.4L631.6 230.8L626.2 219.1L621.3 207.4L616.8 195.8L612.2 182.3L608.8 170.8L605.3 157.6L602.4 144.4L600.1 131.5L598.4 118.9L597.2 106.6L596.4 94.9L596.1 81.8L593.7 106.5L590.7 131L586.7 157.1L582.1 182.6L576.5 209.8L570.6 234.7L563.9 259.6L557.3 281.1L551.1 299L543.2 319.5L534.6 338.8L526.7 354.7L516.8 372.3L507.8 386.6Z"/>
<path fill="#00a5ff" d="M503.1 393.5L492.4 407.8L502.4 405.7L514.8 403.7L526.6 402.4L539.2 401.4L561.3 400.7L584.2 401.2L592.4 403.6L627.9 409.6L655.4 414.9L681.1 420.5L710.1 427.3L744.8 436.1L781.7 446.1L814 455.4L844.4 464.9L813.1 440.1L783.9 415.6L757 391.5L732.4 367.6L720.9 355.8L710 344L691.3 322.4L681.9 310.7L673.1 299L664.7 287.3L656.9 275.6L649.6 263.9L642.8 252.2L636.4 240.5L630.6 228.8L625.3 217.2L620.5 205.5L616.1 193.9L611.6 180.4L608.2 168.9L604.9 155.7L602.4 144.4L600.1 131.5L598.4 118.9L597.2 106.6L596.4 94.9L596.1 81.8L593.7 106.5L590.7 131L587.2 154.4L582.7 179.7L577.2 206.7L571.4 231.6L565.7 253.4L559.3 275L553.2 293.1L546.7 311L538.4 330.7L530.8 346.9L521.2 364.9L512.4 379.6Z"/>
<path fill="#00afff" d="M507.8 386.6L497 401.9L505.9 400L515.7 398.4L535.6 396.3L558 395.3L580.3 395.5L587.5 397.5L619.5 402.6L647.2 407.7L672.5 413L700.7 419.5L734.7 428L769.1 437.3L803.2 447.1L833.7 456.5L803.1 431.9L774.7 407.5L748.6 383.5L726.6 361.7L715.4 349.9L704.7 338.1L686.6 316.5L670.2 295.1L662 283.4L654.4 271.7L647.2 260L640.6 248.3L634.5 236.6L628.8 224.9L623.7 213.3L619 201.6L614.8 190L611 178.5L607.7 167L604.4 153.8L602.1 142.6L599.9 129.7L598.4 118.9L597.2 106.6L596.4 94.9L596.1 81.8L593.9 104.6L591 128.6L587.6 151.6L583.3 176.8L578.5 200.6L572.9 225.3L567.4 247.2L561.2 268.9L554.3 290.1L546.7 311L539.6 327.9L533.4 341.5L525.4 357.3L516.8 372.3Z"/>
<path fill="#00baff" d="M510.9 381.9L501.3 396.1L509.9 394.3L519.7 392.7L536.6 390.9L555.6 389.9L576.6 390L583 391.6L613.2 396L638.5 400.4L664.3 405.7L691.9 411.9L725.2 420.1L758.3 429L793 438.9L823.3 448.3L793.4 423.7L768 401.5L742.4 377.5L720.9 355.8L701.3 334.2L683.5 312.6L667.4 291.2L659.4 279.5L651.9 267.8L646.1 258.1L639.5 246.4L633.5 234.7L627.9 223L622.8 211.3L618.2 199.7L614.1 188.1L610.4 176.6L607.2 165.1L604.4 153.8L602.1 142.6L599.9 129.7L598.4 118.9L597.2 106.6L596.4 94.9L596.1 81.8L593.9 104.6L591.4 126.2L588.1 149L583.8 173.9L579.1 197.5L573.7 222.2L568.2 244.1L562.1 265.8L555.3 287.1L546.7 311L540.8 325.1L535.9 336.1L528.1 352.1L519.7 367.4Z"/>
<path fill="#00c5ff" d="M513.9 377.2L505.3 390.3L519.6 387.7L536.4 385.7L554.5 384.7L573.3 384.5L578.9 385.9L602.4 388.9L620.4 391.7L640.8 395.4L663.6 400L687 405.3L710.3 411L737.4 418L764.5 425.5L789.1 432.7L813.3 440.2L783.9 415.6L759.2 393.5L736.4 371.6L715.4 349.9L696.2 328.3L678.9 306.8L663.4 285.3L649.6 263.9L643.9 254.2L637.5 242.5L631.6 230.8L626.2 219.1L617.5 197.8L613.5 186.2L609.9 174.7L606.7 163.2L604 151.9L601.7 140.7L599.6 127.9L598.2 117.1L597 104.9L596.3 93.3L596.1 81.8L593.9 104.6L591.4 126.2L588.1 149L584.3 171.1L579.8 194.5L574.4 219.1L569 240.9L563 262.7L557.3 281.1L551.1 299L545.5 313.9L538.4 330.7L530.8 346.9L522.6 362.4Z"/>
<path fill="#00cfff" d="M516.8 372.3L509.1 384.7L523.7 382.1L539.7 380.3L554.3 379.4L570.2 379.2L575.2 380.3L598.4 383L617.9 385.9L637.5 389.3L659.8 393.8L682.5 398.9L704.6 404.2L728.6 410.4L755.4 417.7L779.6 424.8L803.6 432.2L777 409.5L752.8 387.5L730.5 365.6L710 344L693 324.4L676 302.9L660.7 281.4L647.2 260L641.7 250.3L635.4 238.6L630.6 228.8L625.3 217.2L616.8 195.8L612.8 184.2L609.3 172.7L606.2 161.3L603.6 150L601.4 138.9L599.6 127.9L598.2 117.1L597 104.9L596.3 93.3L596.1 81.8L594.1 102.7L591.7 123.8L588.5 146.3L584.8 168.2L580.4 191.5L575.1 216L569.8 237.8L564.8 256.5L559.3 275L553.2 293.1L546.7 311L540.8 325.1L533.4 341.5L525.4 357.3Z"/>
<path fill="#00daff" d="M521.2 364.9L512.6 379.2L524.7 377L538.3 375.3L552.6 374.3L567.4 374L571.8 374.8L600.6 377.9L621.8 381.1L640.5 384.5L659.4 388.3L680.9 393.2L702.6 398.4L725.6 404.4L748.9 410.8L772.3 417.6L794.3 424.4L770.2 403.5L746.5 381.5L724.7 359.7L706.5 340L689.7 320.5L673.1 299L658.1 277.5L651.9 267.8L645 256.1L639.5 246.4L633.5 234.7L628.8 224.9L623.7 213.3L615.4 192L608.8 170.8L605.8 159.4L603.2 148.2L601.1 137L599.3 126.1L598 115.3L596.9 103.2L596.1 81.8L594.1 102.7L591.7 123.8L588.5 146.3L584.8 168.2L580.4 191.5L575.8 212.9L570.6 234.7L565.7 253.4L560.2 271.9L555.3 287.1L546.7 311L543.2 319.5L535.9 336.1L529.4 349.5Z"/>
<path fill="#00e4ff" d="M524 359.8L516 373.7L526.9 371.7L539.2 370.2L551.7 369.3L564.8 368.8L568.6 369.4L595.4 371.9L619.5 375.4L637.6 378.6L655.9 382.3L676.5 386.9L697.9 392L720.2 397.8L742.8 404L765.2 410.5L785.3 416.8L761.4 395.5L740.4 375.5L719.1 353.8L701.3 334.2L685 314.6L670.2 295.1L656.9 275.6L650.7 265.8L643.9 254.2L638.5 244.4L632.5 232.7L627.9 223L622.8 211.3L614.8 190L608.2 168.9L603.2 148.2L601.1 137L599.3 126.1L598 115.3L596.9 103.2L596.1 81.8L594.1 102.7L591.7 123.8L588.9 143.7L585.3 165.4L581 188.6L576.5 209.8L571.4 231.6L566.5 250.3L561.2 268.9L556.3 284.1L551.1 299L544.4 316.7L537.2 333.4L530.8 346.9Z"/>
<path fill="#00efff" d="M526.7 354.7L519.2 368.3L529.4 366.5L539.6 365.2L550.9 364.3L562.5 363.7L591.8 366.2L617.8 369.8L635 372.8L652.8 376.4L673.4 380.9L693.4 385.7L735.5 396.9L776.7 409.2L752.8 387.5L732.4 367.6L713.6 347.9L696.2 328.3L680.4 308.7L666.1 289.2L653.2 269.7L641.7 250.3L631.6 230.8L627 221.1L622 209.4L614.1 188.1L607.7 167L602.8 146.3L600.7 135.2L599.1 124.3L596.9 103.2L596.1 81.8L594.3 100.9L592 121.5L589.3 141.1L585.8 162.6L582.1 182.6L577.9 203.6L572.9 225.3L568.2 244.1L563 262.7L558.3 278L553.2 293.1L546.7 311L539.6 327.9L533.4 341.5Z"/>
<path fill="#00faff" d="M528.1 352.1L522.2 363L530.2 361.5L540 360.2L550 359.3L560.3 358.8L576.6 359.7L588.4 360.7L602.7 362.3L618.2 364.6L635.4 367.7L652.7 371.1L689.2 379.5L729.1 390.1L768.4 401.8L746.5 381.5L726.6 361.7L708.2 342L693 324.4L677.4 304.8L663.4 285.3L650.7 265.8L639.5 246.4L629.7 226.9L620.5 205.5L613.5 186.2L607.2 165.1L602.4 144.4L599.1 124.3L596.9 103.2L596.1 81.8L594.3 100.9L592 121.5L589.3 141.1L586.3 159.8L582.7 179.7L578.5 200.6L573.7 222.2L569 240.9L563.9 259.6L559.3 275L553.2 293.1L546.7 311L540.8 325.1L534.6 338.8Z"/>
<path fill="#05fffa" d="M535.9 336.1L525.1 357.7L532.9 356.3L541.6 355.2L551.6 354.2L559.3 353.9L572.7 354.3L586.5 355.3L600.4 356.8L616.5 359.2L633.1 362L649 365.2L685.2 373.4L723.7 383.6L760.4 394.6L740.4 375.5L720.9 355.8L703 336.1L688.1 318.5L674.5 300.9L660.7 281.4L648.4 261.9L637.5 242.5L627.9 223L619.7 203.6L612.8 184.2L606.7 163.2L602.1 142.6L598.8 122.5L596.8 101.5L596.1 81.8L594.3 100.9L592 121.5L589.3 141.1L586.3 159.8L582.7 179.7L578.5 200.6L574.4 219.1L569.8 237.8L564.8 256.5L559.3 275L553.2 293.1L546.7 311L540.8 325.1Z"/>
<path fill="#10ffef" d="M534.6 338.8L527.9 352.5L539.2 350.6L550.6 349.4L557.3 348.9L565.7 348.9L576.8 349.4L588.6 350.4L601.7 351.9L614.8 353.7L630.9 356.5L647.1 359.6L681 367.3L716.6 376.6L752.7 387.4L732.4 367.6L715.4 349.9L697.9 330.2L683.5 312.6L670.2 295.1L656.9 275.6L646.1 258.1L635.4 238.6L626.2 219.1L618.2 199.7L611.6 180.4L606.2 161.3L602.1 142.6L598.8 122.5L596.8 101.5L596.1 81.8L594.3 100.9L592.2 119.2L589.6 138.5L586.7 157.1L583.3 176.8L579.1 197.5L575.1 216L570.6 234.7L565.7 253.4L561.2 268.9L556.3 284.1L551.1 299L546.7 311L540.8 325.1Z"/>
<path fill="#1bffe4" d="M537.2 333.4L530.5 347.4L542.4 345.4L556.5 344L567.9 344L578.6 344.4L590.6 345.4L615.9 348.8L645.3 354.1L677.8 361.5L711.8 370.4L745.3 380.4L726.6 361.7L710 344L694.6 326.3L678.9 306.8L666.1 289.2L654.4 271.7L643.9 254.2L633.5 234.7L625.3 217.2L617.5 197.8L611 178.5L605.8 159.4L601.7 140.7L598.6 120.7L596.8 101.5L596.1 81.8L594.5 99.2L592.5 117L590 136L587.2 154.4L583.8 173.9L579.8 194.5L575.8 212.9L571.4 231.6L563 262.7L558.3 278L553.2 293.1L546.7 311L543.2 319.5Z"/>
<path fill="#25ffda" d="M539.6 327.9L533 342.2L542.3 340.7L554.9 339.2L569.3 339L578.9 339.4L589.9 340.3L614.7 343.5L643.4 348.7L674.1 355.5L706 363.9L738.2 373.4L720.9 355.8L704.7 338.1L689.7 320.5L676 302.9L663.4 285.3L651.9 267.8L641.7 250.3L632.5 232.7L624.5 215.2L616.8 195.8L610.4 176.6L605.3 157.6L601.4 138.9L598.6 120.7L596.8 101.5L596.1 81.8L594.5 99.2L592.5 117L587.6 151.6L581 188.6L572.9 225.3L564.8 256.5L560.2 271.9L555.3 287.1L545.5 313.9Z"/>
<path fill="#30ffcf" d="M540.8 325.1L535.4 337.1L554.6 334.3L562.9 334L571.3 334.1L580.9 334.5L591.7 335.4L614.9 338.5L642.5 343.4L671.1 349.9L700.9 357.6L731.4 366.6L715.4 349.9L699.6 332.2L685 314.6L671.6 297L660.7 281.4L649.6 263.9L639.5 246.4L630.6 228.8L622.8 211.3L615.4 192L609.9 174.7L604.9 155.7L601.1 137L598.4 118.9L596.7 99.8L596.1 81.8L594.5 99.2L592.5 117L587.6 151.6L581.6 185.6L573.7 222.2L565.7 253.4L561.2 268.9L556.3 284.1L546.7 311Z"/>
<path fill="#3affc5" d="M546.7 311L537.8 332.1L555.1 329.4L564 329.1L573.9 329.2L593 330.6L615.1 333.5L640.3 338L668 344.2L696.7 351.6L724.9 359.9L710 344L694.6 326.3L681.9 310.7L668.8 293.1L658.1 277.5L647.2 260L637.5 242.5L628.8 224.9L621.3 207.4L614.8 190L609.3 172.7L604.4 153.8L600.7 135.2L598.2 117.1L596.7 99.8L596.1 81.8L592.8 114.8L588.1 149L582.1 182.6L574.4 219.1L566.5 250.3L558.3 278L553.2 293.1Z"/>
<path fill="#45ffba" d="M546.7 311L540 327.1L549.6 325.6L550.7 325.2L556.5 324.5L566 324.1L576.8 324.4L594.6 325.7L615.3 328.5L639.6 332.9L665.1 338.5L691.1 345.2L718.6 353.3L703 336.1L689.7 320.5L677.4 304.8L664.7 287.3L654.4 271.7L643.9 254.2L635.4 238.6L627 221.1L619.7 203.6L613.5 186.2L608.2 168.9L604 151.9L600.7 135.2L598.2 117.1L596.7 99.8L596.1 81.8L592.8 114.8L588.1 149L582.1 182.6L575.1 216L567.4 247.2L559.3 275L551.1 299Z"/>
<path fill="#50ffaf" d="M546.7 311L542.1 322.1L548.6 321.1L550.6 320.5L556.2 319.8L564.3 319.3L573 319.3L582.9 319.8L593.2 320.6L616.8 323.7L639.3 327.9L662.7 333.1L687.1 339.3L712.5 346.8L697.9 330.2L685 314.6L673.1 299L662 283.4L651.9 267.8L642.8 252.2L634.5 236.6L626.2 219.1L619.7 203.6L613.5 186.2L608.2 168.9L604 151.9L600.7 135.2L598.2 117.1L596.7 99.8L596.1 81.8L593 112.7L588.9 143.7L583.3 176.8L576.5 209.8L569 240.9L561.2 268.9L553.2 293.1Z"/>
<path fill="#5affa5" d="M554.3 290.1L544.2 317.2L550.9 315.7L558.4 314.8L572.4 314.4L590.2 315.4L610 317.8L632.3 321.5L655.5 326.5L681.7 333.1L706.7 340.4L693 324.4L680.4 308.7L668.8 293.1L658.1 277.5L648.4 261.9L639.5 246.4L631.6 230.8L624.5 215.2L618.2 199.7L612.2 182.3L607.7 167L603.6 150L600.4 133.4L598 115.3L596.6 98.2L596.1 81.8L593 112.7L588.9 143.7L583.3 176.8L576.5 209.8L569.8 237.8L562.1 265.8Z"/>
<path fill="#65ff9a" d="M556.3 284.1L546.2 312.3L552.5 310.9L559.4 310L567.5 309.6L576.9 309.7L592.9 310.8L611.6 313.1L632.7 316.7L654.8 321.5L678.4 327.4L701.2 334L688.1 318.5L676 302.9L666.1 289.2L655.6 273.6L646.1 258.1L637.5 242.5L629.7 226.9L622.8 211.3L616.8 195.8L611 178.5L606.7 163.2L602.8 146.3L599.9 129.7L597.8 113.6L596.6 98.2L596.1 81.8L593.3 110.6L589.3 141.1L584.3 171.1L577.9 203.6L571.4 231.6L563.9 259.6Z"/>
<path fill="#70ff8f" d="M557.3 281.1L548 307.4L552.9 306.2L559.4 305.3L566.4 304.9L575 304.8L593.3 305.9L614.7 308.7L634 312.1L654.3 316.5L675 321.8L695.8 327.8L683.5 312.6L673.1 299L663.4 285.3L653.2 269.7L645 256.1L636.4 240.5L628.8 224.9L622 209.4L616.1 193.9L611 178.5L606.7 163.2L602.8 146.3L599.9 129.7L597.8 113.6L596.6 98.2L596.1 81.8L593.3 110.6L589.3 141.1L584.3 171.1L578.5 200.6L572.2 228.4L564.8 256.5Z"/>
<path fill="#7aff85" d="M558.3 278L549.8 302.6L554.3 301.5L560.3 300.6L567.3 300.1L575.1 300L590.4 300.8L607.8 302.8L627.5 306L647.3 310.1L668.8 315.4L690.7 321.6L678.9 306.8L668.8 293.1L659.4 279.5L649.6 263.9L641.7 250.3L633.5 234.7L627 221.1L620.5 205.5L614.8 190L609.9 174.7L605.8 159.4L602.4 144.4L599.9 129.7L597.8 113.6L596.6 98.2L596.1 81.8L593.3 110.6L589.6 138.5L584.8 168.2L579.1 197.5L572.9 225.3L565.7 253.4Z"/>
<path fill="#85ff7a" d="M560.2 271.9L551.6 297.7L556.1 296.6L562 295.8L568.2 295.4L575.4 295.3L591.8 296.1L610.7 298.3L627.9 301.2L646.8 305.2L666.1 310L685.8 315.6L674.5 300.9L664.7 287.3L655.6 273.6L647.2 260L639.5 246.4L631.6 230.8L625.3 217.2L619 201.6L614.1 188.1L609.3 172.7L605.3 157.6L602.1 142.6L599.6 127.9L597.6 111.8L596.5 96.5L596.1 81.8L593.3 110.6L589.6 138.5L585.3 165.4L579.8 194.5L573.7 222.2L567.4 247.2Z"/>
<path fill="#8fff70" d="M561.2 268.9L553.3 292.9L557.3 291.9L563.1 291.1L569.8 290.6L577 290.5L594.3 291.5L613.5 293.9L630.1 296.8L645.9 300.2L663.6 304.6L681.1 309.6L670.2 295.1L660.7 281.4L651.9 267.8L643.9 254.2L636.4 240.5L629.7 226.9L623.7 213.3L618.2 199.7L613.5 186.2L608.8 170.8L604.9 155.7L601.7 140.7L599.3 126.1L597.6 111.8L596.5 96.5L596.1 81.8L593.7 106.5L590.4 133.5L586.3 159.8L581 188.6L575.1 216L568.2 244.1Z"/>
<path fill="#9aff65" d="M562.1 265.8L554.9 288.1L559.4 287L565.3 286.2L572.1 285.8L579.3 285.8L592.5 286.6L607.1 288.2L623.3 290.8L640.6 294.3L658.9 298.7L676.6 303.7L667.4 291.2L658.1 277.5L649.6 263.9L641.7 250.3L634.5 236.6L627.9 223L622 209.4L616.8 195.8L612.2 182.3L607.7 167L604.4 153.8L601.4 138.9L599.1 124.3L597.5 110.1L596.5 96.5L596.1 81.8L593.7 106.5L590.4 133.5L586.3 159.8L581 188.6L575.1 216L569 240.9Z"/>
<path fill="#a5ff5a" d="M563.9 259.6L556.5 283.4L560.6 282.3L565.7 281.6L578.2 281.1L592.8 281.8L610.5 283.9L625.5 286.4L640.3 289.5L656.2 293.4L672.2 297.8L663.4 285.3L654.4 271.7L647.2 260L639.5 246.4L632.5 232.7L626.2 219.1L620.5 205.5L615.4 192L611 178.5L607.2 165.1L604 151.9L601.1 137L599.1 124.3L597.5 110.1L596.5 96.5L596.1 81.8L593.7 106.5L590.7 131L586.7 157.1L582.1 182.6L576.5 209.8L570.6 234.7Z"/>
<path fill="#afff50" d="M564.8 256.5L558.1 278.6L561.7 277.7L566.6 277L578.8 276.4L591.1 276.9L604.7 278.3L619.2 280.5L635.4 283.7L651.2 287.4L668.1 292.1L659.4 279.5L651.9 267.8L645 256.1L637.5 242.5L631.6 230.8L625.3 217.2L619.7 203.6L614.8 190L610.4 176.6L606.7 163.2L603.6 150L601.1 137L599.1 124.3L597.5 110.1L596.5 96.5L596.1 81.8L593.7 106.5L590.7 131L586.7 157.1L582.1 182.6L576.5 209.8L570.6 234.7Z"/>
<path fill="#baff45" d="M566.5 250.3L559.6 273.9L563.2 273L567.6 272.3L579.3 271.7L592.4 272.3L608.1 274L621.3 276.2L635.2 278.9L649.8 282.4L664.1 286.3L655.6 273.6L648.4 261.9L641.7 250.3L634.5 236.6L628.8 224.9L622.8 211.3L618.2 199.7L613.5 186.2L609.9 174.7L606.2 161.3L603.2 148.2L600.7 135.2L598.8 122.5L597.3 108.3L596.4 94.9L596.1 81.8L593.9 104.6L591 128.6L587.6 151.6L583.3 176.8L577.9 203.6L572.2 228.4Z"/>
<path fill="#c5ff3a" d="M567.4 247.2L561.1 269.2L564.7 268.3L569.5 267.6L579.2 267.1L590.2 267.5L602.9 268.6L616.2 270.5L630.7 273.3L645.4 276.7L660.3 280.7L651.9 267.8L645 256.1L638.5 244.4L632.5 232.7L627 221.1L622 209.4L617.5 197.8L612.8 184.2L609.3 172.7L605.8 159.4L602.8 146.3L600.4 133.4L598.6 120.7L597.3 108.3L596.4 94.9L596.1 81.8L593.9 104.6L591 128.6L587.6 151.6L583.3 176.8L578.5 200.6L572.9 225.3Z"/>
<path fill="#cfff30" d="M569 240.9L562.5 264.5L565.7 263.7L570.1 263L580.4 262.5L592.9 263L607 264.4L618.4 266.2L630.8 268.6L643.2 271.5L656.6 275.1L649.6 263.9L642.8 252.2L636.4 240.5L630.6 228.8L625.3 217.2L620.5 205.5L616.1 193.9L611.6 180.4L608.2 168.9L604.9 155.7L602.4 144.4L600.1 131.5L598.4 118.9L597.2 106.6L596.4 94.9L596.1 81.8L593.9 104.6L591.4 126.2L588.1 149L584.3 171.1L579.8 194.5L574.4 219.1Z"/>
<path fill="#daff25" d="M569 240.9L563.8 259.8L567 259L571.1 258.4L579.9 257.8L590 258.1L601.8 259.1L613.7 260.7L626.4 263.1L639.4 266L653.1 269.6L640.6 248.3L634.5 236.6L628.8 224.9L623.7 213.3L619 201.6L614.8 190L611 178.5L607.7 167L604.4 153.8L602.1 142.6L599.9 129.7L598.4 118.9L597.2 106.6L596.4 94.9L596.1 81.8L593.9 104.6L591.4 126.2L588.1 149L584.3 171.1L579.8 194.5L574.4 219.1Z"/>
<path fill="#e4ff1b" d="M570.6 234.7L565.2 255.2L571.8 253.8L581.5 253.2L592.5 253.6L604.9 254.8L615.6 256.4L626.4 258.4L638 261.1L649.7 264.2L643.9 254.2L637.5 242.5L632.5 232.7L627 221.1L622 209.4L617.5 197.8L613.5 186.2L609.9 174.7L606.7 163.2L604 151.9L601.7 140.7L599.6 127.9L598.2 117.1L597 104.9L596.3 93.3L596.1 81.8L594.1 102.7L591.7 123.8L588.5 146.3L584.8 168.2L580.4 191.5L575.8 212.9Z"/>
<path fill="#efff10" d="M571.4 231.6L566.5 250.5L573.1 249.2L580.6 248.7L589.8 248.8L600 249.6L611.1 251L622.5 253L634.4 255.6L646.5 258.8L635.4 238.6L630.6 228.8L625.3 217.2L616.8 195.8L612.8 184.2L609.3 172.7L606.2 161.3L603.6 150L601.4 138.9L599.6 127.9L598.2 117.1L597 104.9L596.3 93.3L596.1 81.8L594.1 102.7L591.7 123.8L588.9 143.7L585.3 165.4L581 188.6L576.5 209.8Z"/>
<path fill="#faff05" d="M572.9 225.3L567.7 245.9L573.8 244.6L582.4 244.1L593 244.3L604.6 245.5L613.8 246.8L623.7 248.7L643.4 253.4L632.5 232.7L627.9 223L622.8 211.3L614.8 190L608.2 168.9L603.2 148.2L601.1 137L599.3 126.1L598 115.3L596.9 103.2L596.1 81.8L594.3 100.9L592 121.5L589.3 141.1L585.8 162.6L582.1 182.6L577.9 203.6Z"/>
<path fill="#fffa00" d="M573.7 222.2L568.9 241.3L575 240L582.9 239.5L591.1 239.6L600.2 240.3L609.2 241.5L619.3 243.2L629.7 245.4L640.5 248.1L630.6 228.8L626.2 219.1L621.3 207.4L614.1 188.1L607.7 167L602.8 146.3L600.7 135.2L599.1 124.3L596.9 103.2L596.1 81.8L594.3 100.9L592 121.5L589.3 141.1L586.3 159.8L582.7 179.7L578.5 200.6Z"/>
<path fill="#ffef00" d="M575.1 216L570.1 236.7L575.7 235.5L584 234.9L593.4 235.2L603.9 236.1L620.1 238.8L637.7 242.9L627.9 223L619.7 203.6L612.8 184.2L606.7 163.2L602.1 142.6L598.8 122.5L596.8 101.5L596.1 81.8L594.3 100.9L592.2 119.2L589.6 138.5L586.7 157.1L583.3 176.8L579.1 197.5Z"/>
<path fill="#ffe400" d="M575.8 212.9L571.3 232.1L576.8 230.9L584.4 230.4L591.3 230.5L599.4 231L607.8 232L616.6 233.5L635 237.7L626.2 219.1L618.2 199.7L611.6 180.4L606.2 161.3L602.1 142.6L598.8 122.5L596.8 101.5L596.1 81.8L594.5 99.2L592.5 117L590 136L587.2 154.4L583.8 173.9L579.8 194.5Z"/>
<path fill="#ffda00" d="M581 188.6L572.4 227.5L577 226.5L583 225.9L590.2 225.9L597.8 226.3L606.1 227.2L614.3 228.5L623.4 230.4L632.4 232.5L624.5 215.2L616.8 195.8L610.4 176.6L605.3 157.6L601.4 138.9L598.6 120.7L596.8 101.5L596.1 81.8L594.5 99.2L592.5 117L587.6 151.6Z"/>
<path fill="#ffcf00" d="M581.6 185.6L573.5 223L578.1 221.9L584.1 221.4L591.1 221.3L598.8 221.8L613.9 223.9L630 227.5L622 209.4L615.4 192L609.9 174.7L604.9 155.7L601.1 137L598.4 118.9L596.7 99.8L596.1 81.8L594.5 99.2L592.5 117L587.6 151.6Z"/>
<path fill="#ffc500" d="M582.1 182.6L574.6 218.4L578.3 217.5L583.6 216.9L589.9 216.8L596.5 217.1L611 218.9L627.6 222.4L620.5 205.5L614.1 188.1L608.8 170.8L604.4 153.8L600.7 135.2L598.2 117.1L596.7 99.8L596.1 81.8L592.8 114.8L588.1 149Z"/>
<path fill="#ffba00" d="M582.7 179.7L575.6 213.9L579.7 212.9L585.5 212.4L592 212.3L599.3 212.8L612.1 214.5L625.4 217.4L619 201.6L612.8 184.2L607.7 167L603.6 150L600.4 133.4L598 115.3L596.6 98.2L596.1 81.8L592.8 114.8L588.5 146.3Z"/>
<path fill="#ffaf00" d="M583.8 173.9L576.6 209.3L580 208.5L584.9 207.9L590 207.8L596 208L609.5 209.6L623.3 212.4L616.8 195.8L611.6 180.4L607.2 165.1L603.2 148.2L600.1 131.5L598 115.3L596.6 98.2L596.1 81.8L593 112.7L588.9 143.7Z"/>
<path fill="#ffa500" d="M584.3 171.1L577.6 204.8L581.3 203.9L586.3 203.4L592.1 203.3L599 203.7L609.6 205.1L621.3 207.5L615.4 192L610.4 176.6L606.2 161.3L602.4 144.4L599.9 129.7L597.8 113.6L596.6 98.2L596.1 81.8L593.3 110.6L589.3 141.1Z"/>
<path fill="#ff9a00" d="M584.8 168.2L578.6 200.3L581.5 199.5L585.7 199L595.7 199L607.2 200.2L619.3 202.6L614.1 188.1L609.3 172.7L605.3 157.6L602.1 142.6L599.6 127.9L597.6 111.8L596.5 96.5L596.1 81.8L593.3 110.6L589.6 138.5Z"/>
<path fill="#ff8f00" d="M585.3 165.4L579.5 195.8L582.8 195L587.6 194.5L593.1 194.4L599 194.7L608 195.9L617.5 197.7L612.8 184.2L608.2 168.9L604.9 155.7L601.7 140.7L599.3 126.1L597.6 111.8L596.5 96.5L596.1 81.8L593.3 110.6L589.6 138.5Z"/>
<path fill="#ff8500" d="M586.3 159.8L580.4 191.3L583 190.6L586.6 190.1L595.2 190L605.2 190.9L615.8 192.9L611 178.5L607.2 165.1L604 151.9L601.1 137L599.1 124.3L597.5 110.1L596.5 96.5L596.1 81.8L593.7 106.5L590.4 133.5Z"/>
<path fill="#ff7a00" d="M586.3 159.8L581.3 186.8L583.9 186.1L587.4 185.7L595.3 185.5L604.6 186.4L614.1 188.1L609.9 174.7L606.2 161.3L603.2 148.2L600.7 135.2L598.8 122.5L597.3 108.3L596.4 94.9L596.1 81.8L593.7 106.5L590.4 133.5Z"/>
<path fill="#ff7000" d="M587.2 154.4L582.2 182.4L587.6 181.3L594.8 181.1L603.3 181.8L612.5 183.4L608.8 170.8L605.3 157.6L602.8 146.3L600.4 133.4L598.6 120.7L597.3 108.3L596.4 94.9L596.1 81.8L593.7 106.5L590.7 131Z"/>
<path fill="#ff6500" d="M587.6 151.6L583.1 177.9L588.2 176.8L595 176.6L602.8 177.3L611.1 178.7L607.7 167L604.4 153.8L602.1 142.6L599.9 129.7L598.4 118.9L597.2 106.6L596.4 94.9L596.1 81.8L593.9 104.6L591 128.6Z"/>
<path fill="#ff5a00" d="M588.1 149L583.9 173.4L588.6 172.4L594.6 172.2L601.7 172.7L609.7 174L606.7 163.2L604 151.9L601.7 140.7L599.6 127.9L598.2 117.1L597 104.9L596.3 93.3L596.1 81.8L593.9 104.6L591.4 126.2Z"/>
<path fill="#ff5000" d="M588.5 146.3L584.7 169L589.7 168L596.3 167.8L602.2 168.3L608.3 169.3L603.2 148.2L601.1 137L599.3 126.1L598 115.3L596.9 103.2L596.1 81.8L594.1 102.7L591.7 123.8Z"/>
<path fill="#ff4500" d="M589.3 141.1L585.5 164.5L589.7 163.6L594.9 163.4L600.8 163.8L607.1 164.7L602.4 144.4L599.1 124.3L596.9 103.2L596.1 81.8L594.3 100.9L592 121.5Z"/>
<path fill="#ff3a00" d="M589.3 141.1L586.2 160.1L590.4 159.2L595.5 159L600.4 159.3L605.9 160.1L601.7 140.7L598.6 120.7L596.8 101.5L596.1 81.8L594.3 100.9L592 121.5Z"/>
<path fill="#ff3000" d="M590 136L587 155.7L590.4 154.9L594.7 154.6L599.6 154.8L604.8 155.5L601.1 137L598.4 118.9L596.7 99.8L596.1 81.8L594.5 99.2L592.5 117Z"/>
<path fill="#ff2500" d="M592.8 114.8L587.7 151.3L590.7 150.6L594.4 150.3L598.8 150.4L603.8 151L600.4 133.4L598.2 117.1L596.7 99.8L596.1 81.8Z"/>
<path fill="#ff1b00" d="M592.8 114.8L588.4 146.8L591 146.2L594.6 145.9L602.9 146.5L599.9 129.7L597.8 113.6L596.6 98.2L596.1 81.8Z"/>
<path fill="#ff1000" d="M593.3 110.6L589.1 142.5L591.7 141.8L594.7 141.6L602 142L599.3 126.1L597.6 111.8L596.5 96.5L596.1 81.8Z"/>
<path fill="#ff0500" d="M593.5 108.5L589.7 138.1L594.6 137.2L601.1 137.6L599.1 124.3L597.5 110.1L596.5 96.5L596.1 81.8Z"/>
<path fill="#fa0000" d="M593.7 106.5L590.3 133.7L595.1 132.9L600.4 133.1L598.6 120.7L597.3 108.3L596.4 94.9L596.1 81.8Z"/>
<path fill="#ef0000" d="M593.9 104.6L590.9 129.3L594.7 128.6L599.7 128.7L598.2 117.1L597 104.9L596.3 93.3L596.1 81.8Z"/>
<path fill="#e40000" d="M594.1 102.7L591.5 125L594.8 124.3L599.1 124.3L596.9 103.2L596.1 81.8Z"/>
<path fill="#da0000" d="M594.3 100.9L592.1 120.6L595 120L598.5 120L596.8 101.5L596.1 81.8Z"/>
<path fill="#cf0000" d="M596.1 81.8L592.6 116.3L595.1 115.7L598 115.7L596.6 98.2Z"/>
<path fill="#c50000" d="M596.1 81.8L593.1 111.9L595.1 111.5L597.6 111.4L596.5 96.5Z"/>
<path fill="#ba0000" d="M596.1 81.8L593.6 107.6L597.2 107.1L596.4 94.9Z"/>
<path fill="#af0000" d="M596.1 81.8L594.1 103.3L596.9 102.8Z"/>
<path fill="#a50000" d="M596.1 81.8L594.5 99L596.6 98.6Z"/>
<path fill="#9a0000" d="M596.1 81.8L594.9 94.7L596.4 94.4Z"/>
<path fill="#8f0000" d="M595.4 90.2L596.2 90.2L596.1 81.8L595.7 86Z"/>
<path fill="#850000" d="M595.7 86L596.1 86L596.1 81.8L595.9 83.7Z"/>
</g>

<path d="M543 319.9L545.2 331L548.2 342.6L551.8 353.6L555.5 363.1L559.8 372.8L564.7 382.4L570.4 392.1L576.6 401.6L583.5 411.1L591.1 420.4L597.6 427.7L606.3 436.9L615.7 445.8L625.7 454.7L636.3 463.5L647.6 472.2L657.1 479.1L669.6 487.8L693.6 503.3L722.8 520.9L757.9 541.1L788.9 558.3L822 576.1L933.9 634.6L975.4 656.6L1014 677.9L1054.3 700.9" transform="translate(-0.6,1.4)" fill="none" stroke="#1a1ab0" stroke-width="1.6"/>
<path d="M543 319.9L545.2 331L548.2 342.6L551.8 353.6L555.5 363.1L559.8 372.8L564.7 382.4L570.4 392.1L576.6 401.6L583.5 411.1L591.1 420.4L597.6 427.7L606.3 436.9L615.7 445.8L625.7 454.7L636.3 463.5L647.6 472.2L657.1 479.1L669.6 487.8L693.6 503.3L722.8 520.9L757.9 541.1L788.9 558.3L822 576.1L933.9 634.6L975.4 656.6L1014 677.9L1054.3 700.9" fill="none" stroke="#ff0000" stroke-width="2.6" stroke-linecap="butt"/>
<path d="M590.9 883.2L641.5 862.8L707.9 837.1L1057.2 699.7L1083.2 687.8L1093.1 682.6L1097.8 679.6L1101.5 676.6L1104.7 673.4L1107.3 670.2" fill="none" stroke="#ff0000" stroke-width="3.3" stroke-linejoin="round"/>
<path d="M70.3 271L70.3 683L590.9 888.1L1112.2 683" fill="none" stroke="#111" stroke-width="1.4" stroke-linejoin="miter"/>
<path d="M70.3 683L57.7 678.1M70.3 631.5L57.7 626.6M70.3 580L57.7 575.1M70.3 528.5L57.7 523.6M70.3 477L57.7 472.1M70.3 425.5L57.7 420.6M70.3 374L57.7 369.1M70.3 322.5L57.7 317.6M70.3 271L57.7 266.1M174.4 724L161.9 729M278.5 765L266 770M382.7 806.1L370.1 811M486.8 847.1L474.2 852M590.9 888.1L578.3 893M590.9 888.1L603.5 893M706.7 842.5L719.3 847.5M822.6 796.9L835.1 801.9M938.4 751.4L951 756.3M1054.3 705.8L1066.8 710.7M70.3 683L57.7 687.9" fill="none" stroke="#111" stroke-width="1.4"/>
<text x="47.4" y="683.3" text-anchor="end" font-family="Liberation Sans, Arial, sans-serif" font-size="22.8">0</text>
<text x="47.4" y="631.8" text-anchor="end" font-family="Liberation Sans, Arial, sans-serif" font-size="22.8">100</text>
<text x="47.4" y="580.3" text-anchor="end" font-family="Liberation Sans, Arial, sans-serif" font-size="22.8">200</text>
<text x="47.4" y="528.8" text-anchor="end" font-family="Liberation Sans, Arial, sans-serif" font-size="22.8">300</text>
<text x="47.4" y="477.3" text-anchor="end" font-family="Liberation Sans, Arial, sans-serif" font-size="22.8">400</text>
<text x="47.4" y="425.8" text-anchor="end" font-family="Liberation Sans, Arial, sans-serif" font-size="22.8">500</text>
<text x="47.4" y="374.3" text-anchor="end" font-family="Liberation Sans, Arial, sans-serif" font-size="22.8">600</text>
<text x="47.4" y="322.8" text-anchor="end" font-family="Liberation Sans, Arial, sans-serif" font-size="22.8">700</text>
<text x="47.4" y="271.3" text-anchor="end" font-family="Liberation Sans, Arial, sans-serif" font-size="22.8">800</text>
<text x="48.7" y="711.9" text-anchor="end" font-family="Liberation Sans, Arial, sans-serif" font-size="22.8">0</text>
<text x="152.8" y="752.9" text-anchor="end" font-family="Liberation Sans, Arial, sans-serif" font-size="22.8">0.2</text>
<text x="256.9" y="793.9" text-anchor="end" font-family="Liberation Sans, Arial, sans-serif" font-size="22.8">0.4</text>
<text x="361.1" y="835" text-anchor="end" font-family="Liberation Sans, Arial, sans-serif" font-size="22.8">0.6</text>
<text x="465.2" y="876" text-anchor="end" font-family="Liberation Sans, Arial, sans-serif" font-size="22.8">0.8</text>
<text x="569.3" y="917" text-anchor="end" font-family="Liberation Sans, Arial, sans-serif" font-size="22.8">1</text>
<text x="610.2" y="917.2" font-family="Liberation Sans, Arial, sans-serif" font-size="22.8">0.1</text>
<text x="726" y="871.6" font-family="Liberation Sans, Arial, sans-serif" font-size="22.8">0.08</text>
<text x="841.9" y="826" font-family="Liberation Sans, Arial, sans-serif" font-size="22.8">0.06</text>
<text x="957.7" y="780.5" font-family="Liberation Sans, Arial, sans-serif" font-size="22.8">0.04</text>
<text x="1073.6" y="734.9" font-family="Liberation Sans, Arial, sans-serif" font-size="22.8">0.02</text>
<text x="5.3" y="45.8" font-family="Liberation Sans, Arial, sans-serif" font-weight="bold" font-size="55">A</text>
<text x="496.4" y="43.1" font-family="Liberation Serif, Times New Roman, serif" font-size="46" font-style="italic" textLength="21.2" lengthAdjust="spacingAndGlyphs">k</text><text x="535.2" y="45.4" font-family="Liberation Serif, Times New Roman, serif" font-size="46" textLength="28" lengthAdjust="spacingAndGlyphs">=</text><text x="580.5" y="43.1" font-family="Liberation Serif, Times New Roman, serif" font-size="46" textLength="101.3" lengthAdjust="spacingAndGlyphs">0.005</text>
<text x="16.8" y="144.3" font-family="Liberation Serif, Times New Roman, serif" font-size="30.5" font-style="italic">L</text><text x="33.1" y="151.1" font-family="Liberation Serif, Times New Roman, serif" font-size="25" font-style="italic" textLength="47.7" lengthAdjust="spacingAndGlyphs">max</text>
<text x="173.6" y="856.2" font-family="Liberation Serif, Times New Roman, serif" font-size="31.5" font-style="italic" text-anchor="middle">β</text><path d="M147.8 871.2H199.4" stroke="#111" stroke-width="2.3"/><text x="149.8" y="901.7" font-family="Liberation Serif, Times New Roman, serif" font-size="31.5" font-style="italic" textLength="47.6" lengthAdjust="spacingAndGlyphs">αC<tspan font-size="22" dy="6.4">0</tspan></text>
<text x="953.8" y="868.1" font-family="Liberation Serif, Times New Roman, serif" font-size="31.5" font-style="italic" text-anchor="middle">τ</text><path d="M932.8 883.1H974.8" stroke="#111" stroke-width="2.3"/><text x="933.3" y="913.6" font-family="Liberation Serif, Times New Roman, serif" font-size="31.5" font-style="italic" textLength="38" lengthAdjust="spacingAndGlyphs">V<tspan font-size="23" dy="5.9">at</tspan></text>
<path d="M1007.3 446.2L1050.5 684.5" stroke="#111" stroke-width="1.5" fill="none"/>
<path d="M1052.5 695.8L1043.2 679.2L1050.5 684.5L1055.4 677Z" fill="#111"/>
<rect x="872.3" y="353.3" width="264.8" height="90.9" fill="#fff" stroke="#222" stroke-width="1.3"/>
<text x="910.5" y="388.2" font-family="Liberation Serif, Times New Roman, serif" font-size="34" textLength="185.5" lengthAdjust="spacingAndGlyphs">(0.99; 0.018)</text>
<text x="885.9" y="428.8" font-family="Liberation Serif, Times New Roman, serif" font-size="34" font-style="italic">L</text>
<text x="901.5" y="434.8" font-family="Liberation Serif, Times New Roman, serif" font-size="31" font-style="italic" textLength="53.8" lengthAdjust="spacingAndGlyphs">max</text>
<text x="968.8" y="432.4" font-family="Liberation Serif, Times New Roman, serif" font-size="34" textLength="23.5" lengthAdjust="spacingAndGlyphs">=</text>
<text x="1005.3" y="428.8" font-family="Liberation Serif, Times New Roman, serif" font-size="34" textLength="57" lengthAdjust="spacingAndGlyphs">1,13</text>
<text x="1075.5" y="428.8" font-family="Liberation Serif, Times New Roman, serif" font-size="34" font-style="italic" textLength="45.2" lengthAdjust="spacingAndGlyphs">μm</text>
<path d="M1532 634L1532 222.5M1647.9 588.5L1647.9 177M1763.9 543L1763.9 131.5M1879.8 497.5L1879.8 86M1937.8 474.7L1937.8 63.2M2042 515.8L2042 104.3M2146.3 556.8L2146.3 145.3M2250.5 597.9L2250.5 186.4M2354.8 638.9L2354.8 227.4M2459 680L2459 268.5M1416 679.5L1937.8 474.7M1937.8 474.7L2459 680M1416 610.9L1937.8 406.1M1937.8 406.1L2459 611.4M1416 542.3L1937.8 337.5M1937.8 337.5L2459 542.8M1416 473.8L1937.8 269M1937.8 269L2459 474.2M1416 405.2L1937.8 200.4M1937.8 200.4L2459 405.7M1416 336.6L1937.8 131.8M1937.8 131.8L2459 337.1M1416 268L1937.8 63.2M1937.8 63.2L2459 268.5M1520.2 720.6L2042 515.8M1624.5 761.6L2146.3 556.8M1728.7 802.7L2250.5 597.9M1833 843.7L2354.8 638.9M1532 634L2053.2 839.3M1647.9 588.5L2169.1 793.8M1763.9 543L2285.1 748.3M1879.8 497.5L2401 702.8" fill="none" stroke="#000" stroke-opacity="0.95" stroke-width="1.55" stroke-dasharray="2.8 6.8"/>

<g opacity="0.70">
<path fill="#000085" d="M1426.3 659L1458.1 675.9L1493.6 693.3L1533.2 711.5L1580.8 732.5L1625.9 751.8L1674.6 772.2L1860.1 848.1L1937.2 880.2L1969.2 866.9L2003.9 853L2165.4 790.6L2202.5 775.8L2236.8 761.7L2277.6 744L2315.8 726.4L2329.2 719.7L2340.2 713.9L2350.6 707.9L2358.8 702.8L2368.2 696.4L2378.5 688.5L2388.1 680.4L2397 671.9L2405.2 663.2L2413.7 653L2420.4 643.9L2427.2 633.4L2433.2 622.8L2438.3 612.2L2442.7 601.7L2446.2 591.2L2449.3 579.7L2451.5 568.4L2452.8 557.7L2453.4 546.7L2279.8 449.7L2233.5 423.1L2193.6 399.2L2149.4 371.6L2109.9 345.4L2090.8 332.2L2071.1 318L2056.4 307.1L2042.6 296.3L2029.9 285.7L2019.5 276.4L2008.5 265.9L1999.6 256.7L1991.4 247.4L1983.9 238.1L1977.1 228.8L1970.1 218.1L1964.7 208.8L1959.3 198L1955.2 188.6L1951.3 177.9L1948.2 167.3L1945.5 155.7L1943.8 145.1L1942.5 133.5L1938.1 162.9L1933.7 189.2L1929.2 212.6L1924.3 234.7L1918.7 257.4L1913 277.3L1906.7 296.9L1899.7 316L1892 334.5L1884.9 349.7L1875.9 366.7L1867.7 380.6L1857.4 396L1848 408.5L1838 420.4L1825.7 433.5L1814.6 444.4L1800.9 456.5L1786.4 468.3L1771.2 479.7L1755.2 490.9L1735.9 503.5L1715.7 515.9L1694.4 528.2L1672 540.6L1648.6 553L1624.1 565.6L1598.5 578.2L1554.7 599.2L1466.2 640.3Z"/>
<path fill="#00008f" d="M1426.3 659L1450.7 672.1L1477.5 685.5L1506.2 699.2L1538.4 713.9L1578.7 731.6L1623.5 750.8L1671.9 771.1L1732.2 795.9L1787.6 805L1811.7 808.2L1831.3 810.2L1851.1 811.4L1867.1 811.6L1881 811L1893.3 809.9L1904.2 808.2L1913.8 806.1L1922.5 803.7L1930.3 801L1937.3 798L1946.5 793.2L1951.9 789.7L1959.1 784.3L1965.3 778.6L1970.5 772.6L1974.9 766.4L1978.1 760.6L1980.4 755.7L1982.2 751L1984.1 744.5L1987 731L1988.6 726.8L1989.8 724.9L1991.5 723.2L1993.8 721.8L1996.6 720.6L2000.3 719.7L2004.5 719L2015 718.6L2027.1 718.8L2040.1 719.5L2186.3 729.9L2245.8 733.7L2294.5 736.4L2307.7 730.3L2327.3 720.7L2343.7 711.9L2357.2 703.8L2369.8 695.3L2381.4 686.2L2393.3 675.6L2402.9 665.7L2412.6 654.3L2422.1 641.3L2430.3 628.1L2437.1 614.9L2442.7 601.7L2447 588.6L2450.4 574.6L2452.5 561.2L2453.4 546.7L2279.8 449.7L2233.5 423.1L2193.6 399.2L2149.4 371.6L2109.9 345.4L2090.8 332.2L2071.1 318L2056.4 307.1L2042.6 296.3L2029.9 285.7L2019.5 276.4L2008.5 265.9L1999.6 256.7L1991.4 247.4L1983.9 238.1L1977.1 228.8L1970.1 218.1L1964.7 208.8L1959.3 198L1955.2 188.6L1951.3 177.9L1948.2 167.3L1945.5 155.7L1943.8 145.1L1942.5 133.5L1938.1 162.9L1933.7 189.2L1929.2 212.6L1924.3 234.7L1918.7 257.4L1913 277.3L1906.7 296.9L1899.7 316L1892 334.5L1884.9 349.7L1875.9 366.7L1867.7 380.6L1857.4 396L1848 408.5L1838 420.4L1825.7 433.5L1814.6 444.4L1800.9 456.5L1786.4 468.3L1771.2 479.7L1755.2 490.9L1735.9 503.5L1715.7 515.9L1694.4 528.2L1672 540.6L1648.6 553L1624.1 565.6L1598.5 578.2L1554.7 599.2L1466.2 640.3Z"/>
<path fill="#00009a" d="M1426.3 659L1458.1 675.9L1493.6 693.3L1533.2 711.5L1584.4 734.1L1629 735.8L1654.3 736.5L1685.8 736.6L1707.5 736.1L1727.5 735L1745.7 733.4L1762.2 731.2L1772.2 729.5L1781.5 727.5L1794.2 724.1L1801.9 721.6L1808.9 718.9L1818.4 714.5L1824.1 711.4L1829.2 708.1L1833.8 704.7L1837.9 701.1L1841.6 697.4L1844.7 693.6L1848.6 687.6L1850.7 683.5L1855.1 673.1L1857.6 669.3L1859.5 667.7L1862.1 666.3L1865.2 665.2L1874.1 664.1L1885.8 664.1L1899.5 665L1921.8 667.1L1952.7 670.5L2014.6 678L2176.4 698.6L2291.9 712L2333.7 717.4L2347.2 710L2360.4 701.7L2372.7 693L2382.7 685.1L2393.3 675.6L2402.9 665.7L2411.6 655.5L2420.4 643.9L2428 632.1L2434.5 620.2L2440.1 608.3L2444.5 596.4L2448.1 584.8L2450.9 572.1L2452.7 558.9L2453.4 546.7L2279.8 449.7L2233.5 423.1L2193.6 399.2L2149.4 371.6L2109.9 345.4L2090.8 332.2L2071.1 318L2056.4 307.1L2042.6 296.3L2029.9 285.7L2019.5 276.4L2008.5 265.9L1999.6 256.7L1991.4 247.4L1983.9 238.1L1977.1 228.8L1970.1 218.1L1964.7 208.8L1959.3 198L1955.2 188.6L1951.3 177.9L1948.2 167.3L1945.5 155.7L1943.8 145.1L1942.5 133.5L1938.1 162.9L1933.7 189.2L1929.2 212.6L1924.3 234.7L1918.7 257.4L1913 277.3L1906.7 296.9L1899.7 316L1892 334.5L1884.9 349.7L1875.9 366.7L1867.7 380.6L1857.4 396L1848 408.5L1838 420.4L1825.7 433.5L1814.6 444.4L1800.9 456.5L1786.4 468.3L1771.2 479.7L1755.2 490.9L1735.9 503.5L1715.7 515.9L1694.4 528.2L1672 540.6L1648.6 553L1624.1 565.6L1598.5 578.2L1554.7 599.2L1466.2 640.3Z"/>
<path fill="#0000a5" d="M1426.3 659L1445.7 669.4L1466.7 680.2L1489.6 691.4L1513.2 702.4L1555.9 700.3L1582.6 698.5L1619.6 694.9L1636.7 692.8L1652.8 690.3L1667.9 687.7L1682.1 684.7L1695.3 681.5L1707.5 678.1L1722.3 673L1732.2 669L1741.1 664.6L1749 659.9L1753.6 656.6L1759.6 651.4L1764.6 646L1773.1 634.8L1774.9 633.1L1777.1 631.6L1783 629.3L1791.6 628.1L1797 627.9L1809.3 628.2L1823.1 629.1L1845.4 631.2L1899.5 637.5L1969.1 646.4L2044.7 656.9L2204.4 680.2L2242.7 686L2294.5 694.7L2353.8 705.9L2365.2 698.5L2375.7 690.8L2385.5 682.7L2394.5 674.4L2402.9 665.7L2411.6 655.5L2418.5 646.5L2425.6 636L2431.8 625.5L2437.1 614.9L2441.7 604.3L2445.8 592.5L2449 580.9L2451.3 569.7L2452.8 557.7L2453.4 546.7L2279.8 449.7L2233.5 423.1L2193.6 399.2L2149.4 371.6L2109.9 345.4L2090.8 332.2L2071.1 318L2056.4 307.1L2042.6 296.3L2029.9 285.7L2019.5 276.4L2008.5 265.9L1999.6 256.7L1991.4 247.4L1983.9 238.1L1977.1 228.8L1970.1 218.1L1964.7 208.8L1959.3 198L1955.2 188.6L1951.3 177.9L1948.2 167.3L1945.5 155.7L1943.8 145.1L1942.5 133.5L1938.1 162.9L1933.7 189.2L1929.2 212.6L1924.3 234.7L1918.7 257.4L1913 277.3L1906.7 296.9L1899.7 316L1892 334.5L1884.9 349.7L1875.9 366.7L1867.7 380.6L1857.4 396L1848 408.5L1838 420.4L1825.7 433.5L1814.6 444.4L1800.9 456.5L1786.4 468.3L1771.2 479.7L1755.2 490.9L1735.9 503.5L1715.7 515.9L1694.4 528.2L1672 540.6L1648.6 553L1624.1 565.6L1598.5 578.2L1554.7 599.2L1466.2 640.3Z"/>
<path fill="#0000af" d="M1426.3 659L1447.7 670.5L1470.4 682L1507.9 677.8L1542.6 673L1574.4 667.6L1603.5 661.6L1621.3 657.2L1633.9 653.8L1657.1 646.5L1667.7 642.6L1677.5 638.6L1692.3 631.4L1705 623.9L1720.2 612.8L1724.8 609.8L1727.4 608.5L1733.5 606.2L1741.1 604.6L1755.5 603.4L1772 603.2L1789.1 603.6L1810.2 604.9L1834.1 607.2L1861 610.4L1907.5 616.6L2006.7 631L2136.6 651.5L2191.7 660.9L2248.3 671.6L2306.5 683.7L2367.1 697.2L2377.1 689.7L2385.5 682.7L2393.3 675.6L2401.8 666.9L2409.5 658.1L2416.6 649.1L2423 640L2429.5 629.4L2434.5 620.2L2439.5 609.6L2443.6 599L2447 588.6L2449.6 578.4L2451.7 567.2L2452.9 556.6L2453.4 546.7L2279.8 449.7L2233.5 423.1L2193.6 399.2L2149.4 371.6L2109.9 345.4L2090.8 332.2L2071.1 318L2056.4 307.1L2042.6 296.3L2029.9 285.7L2019.5 276.4L2008.5 265.9L1999.6 256.7L1991.4 247.4L1983.9 238.1L1977.1 228.8L1970.1 218.1L1964.7 208.8L1959.3 198L1955.2 188.6L1951.3 177.9L1948.2 167.3L1945.5 155.7L1943.8 145.1L1942.5 133.5L1938.1 162.9L1933.7 189.2L1929.2 212.6L1924.3 234.7L1918.7 257.4L1913 277.3L1906.7 296.9L1899.7 316L1892 334.5L1884.9 349.7L1875.9 366.7L1867.7 380.6L1857.4 396L1848 408.5L1838 420.4L1825.7 433.5L1814.6 444.4L1800.9 456.5L1786.4 468.3L1771.2 479.7L1755.2 490.9L1735.9 503.5L1715.7 515.9L1694.4 528.2L1672 540.6L1648.6 553L1624.1 565.6L1598.5 578.2L1554.7 599.2L1466.2 640.3Z"/>
<path fill="#0000ba" d="M1426.3 659L1440.4 666.6L1481.5 660.8L1503.5 657.1L1524.2 653.2L1548.8 648L1576.2 641.5L1601.4 634.6L1624.6 627.4L1642.4 621.1L1658.6 614.6L1673.2 607.8L1696.8 595.2L1702.7 592.8L1709.5 590.8L1717.3 589.3L1723.1 588.5L1745.4 586.7L1772.4 585.8L1798.8 586L1819.1 587L1839.2 588.6L1861.8 591.1L1884.5 594.2L1938.7 602.5L1992.2 611L2058.9 622.1L2109.3 630.9L2167.8 642L2228.6 654.7L2291.2 668.9L2377.1 689.7L2385.5 682.7L2393.3 675.6L2400.6 668.2L2408.5 659.4L2414.7 651.7L2421.3 642.6L2427.2 633.4L2432.5 624.1L2437.1 614.9L2441.1 605.6L2444.5 596.4L2447.7 586.1L2450.1 575.9L2451.9 566L2452.9 556.6L2453.4 546.7L2279.8 449.7L2233.5 423.1L2193.6 399.2L2149.4 371.6L2109.9 345.4L2090.8 332.2L2071.1 318L2056.4 307.1L2042.6 296.3L2029.9 285.7L2019.5 276.4L2008.5 265.9L1999.6 256.7L1991.4 247.4L1983.9 238.1L1977.1 228.8L1970.1 218.1L1964.7 208.8L1959.3 198L1955.2 188.6L1951.3 177.9L1948.2 167.3L1945.5 155.7L1943.8 145.1L1942.5 133.5L1938.1 162.9L1933.7 189.2L1929.2 212.6L1924.3 234.7L1918.7 257.4L1913 277.3L1906.7 296.9L1899.7 316L1892 334.5L1884.9 349.7L1875.9 366.7L1867.7 380.6L1857.4 396L1848 408.5L1838 420.4L1825.7 433.5L1814.6 444.4L1800.9 456.5L1786.4 468.3L1771.2 479.7L1755.2 490.9L1735.9 503.5L1715.7 515.9L1694.4 528.2L1672 540.6L1648.6 553L1624.1 565.6L1598.5 578.2L1554.7 599.2L1466.2 640.3Z"/>
<path fill="#0000c5" d="M1554.7 599.2L1444.8 650.3L1479.6 644.1L1509.8 638L1547.1 629.4L1581.3 620.4L1608.6 612.2L1630.2 605L1653 596.2L1682.3 583.6L1688.7 581.4L1695.8 579.6L1707.7 577.4L1720.4 575.7L1738 573.8L1757.8 572.3L1774.8 571.4L1789.8 571L1804.6 570.9L1820.6 571.3L1837.7 572.2L1857 573.9L1876.4 576.2L1898.4 579.4L1945 587.2L2006.2 597.8L2051 605.9L2088.5 613.1L2150.3 625.8L2214.6 640.3L2289 658.4L2385.3 682.9L2393.3 675.6L2400.6 668.2L2407.4 660.7L2413.7 653L2419.4 645.2L2425.6 636L2430.3 628.1L2435.2 618.8L2438.9 610.9L2442.7 601.7L2445.8 592.5L2448.4 583.5L2450.4 574.6L2452 564.8L2453 555.5L2453.4 546.7L2279.8 449.7L2233.5 423.1L2193.6 399.2L2149.4 371.6L2109.9 345.4L2090.8 332.2L2071.1 318L2056.4 307.1L2042.6 296.3L2029.9 285.7L2019.5 276.4L2008.5 265.9L1999.6 256.7L1991.4 247.4L1983.9 238.1L1977.1 228.8L1970.1 218.1L1964.7 208.8L1959.3 198L1955.2 188.6L1951.3 177.9L1948.2 167.3L1945.5 155.7L1943.8 145.1L1942.5 133.5L1938.1 162.9L1933.7 189.2L1929.2 212.6L1924.3 234.7L1918.7 257.4L1913 277.3L1906.7 296.9L1900.7 313.3L1893.2 331.9L1886.1 347.2L1877.2 364.3L1869.1 378.4L1860.4 391.7L1851.2 404.4L1841.4 416.5L1829.3 429.8L1818.3 440.8L1804.9 453.1L1790.6 465L1775.6 476.5L1759.8 487.8L1743.3 498.8L1723.4 511.2L1702.5 523.6L1680.5 535.9L1657.5 548.3L1630.3 562.4L1605 575Z"/>
<path fill="#0000cf" d="M1575.3 589.4L1493 627.8L1545.5 615.1L1588.8 603.5L1611.5 596.6L1629.3 590.9L1642.7 586.1L1674.1 574.4L1684.3 571.5L1695.5 569L1712.1 566.1L1732.4 563.2L1752.5 560.9L1772.4 559.2L1791.4 558.2L1808.8 557.8L1825.3 557.9L1844.2 558.6L1862.9 560L1878.8 561.7L1897.4 564.3L1917.2 567.5L2002.6 583.3L2041.5 591L2081.1 599.2L2146.4 613.9L2214.1 630.2L2291.4 649.9L2392.2 676.6L2398.2 670.7L2405.2 663.2L2411.6 655.5L2417.6 647.8L2423 640L2428 632.1L2432.5 624.1L2437.1 614.9L2440.6 606.9L2444.1 597.7L2446.6 589.9L2449 580.9L2450.9 572.1L2452.2 563.6L2453 555.5L2453.4 546.7L2279.8 449.7L2233.5 423.1L2193.6 399.2L2149.4 371.6L2109.9 345.4L2090.8 332.2L2071.1 318L2056.4 307.1L2042.6 296.3L2029.9 285.7L2019.5 276.4L2008.5 265.9L1999.6 256.7L1991.4 247.4L1983.9 238.1L1977.1 228.8L1970.1 218.1L1964.7 208.8L1959.3 198L1955.2 188.6L1951.3 177.9L1948.2 167.3L1945.5 155.7L1943.8 145.1L1942.5 133.5L1938.4 161L1934.1 186.8L1929.7 209.9L1925 231.9L1920.2 251.7L1914.7 271.7L1908.6 291.4L1902.8 307.9L1895.4 326.6L1888.5 342.1L1881.1 357.1L1873.2 371.4L1864.8 385.1L1855.8 398.2L1846.3 410.5L1836.3 422.3L1825.7 433.5L1812.7 446.1L1800.9 456.5L1786.4 468.3L1771.2 479.7L1755.2 490.9L1738.4 501.9L1720.8 512.8L1699.8 525.1L1677.7 537.5L1651.6 551.4L1627.2 564Z"/>
<path fill="#0000da" d="M1605 575L1543.3 604.5L1573.7 596.6L1608.5 586.7L1630.1 580.1L1663.1 568.9L1676.5 564.8L1696.5 560.1L1719.8 555.6L1739.7 552.4L1759.1 549.9L1778.7 547.9L1796 546.7L1813.9 546.1L1831.7 546L1848.2 546.4L1866.3 547.6L1884.3 549.3L1899.7 551.3L1917.4 554.1L1936.1 557.4L2004.5 571.3L2079.1 587.9L2147.7 604.2L2218.1 622.1L2297.5 643.2L2398.2 670.7L2404 664.4L2410.6 656.8L2415.6 650.4L2421.3 642.6L2425.6 636L2430.3 628.1L2434.5 620.2L2438.3 612.2L2441.7 604.3L2444.5 596.4L2447 588.6L2449.3 579.7L2450.9 572.1L2452.2 563.6L2453 555.5L2453.4 546.7L2279.8 449.7L2233.5 423.1L2193.6 399.2L2149.4 371.6L2109.9 345.4L2090.8 332.2L2071.1 318L2056.4 307.1L2042.6 296.3L2029.9 285.7L2019.5 276.4L2008.5 265.9L1999.6 256.7L1991.4 247.4L1983.9 238.1L1977.1 228.8L1970.1 218.1L1964.7 208.8L1959.3 198L1955.2 188.6L1951.3 177.9L1948.2 167.3L1945.5 155.7L1943.8 145.1L1942.5 133.5L1938.4 161L1934.5 184.4L1930.3 207.2L1925.6 229.1L1920.9 248.9L1915.5 268.8L1910.4 285.8L1904.8 302.4L1898.6 318.7L1892 334.5L1884.9 349.7L1877.2 364.3L1869.1 378.4L1860.4 391.7L1852.7 402.4L1843 414.5L1832.8 426.1L1822.1 437.2L1810.7 447.9L1798.9 458.2L1786.4 468.3L1771.2 479.7L1755.2 490.9L1738.4 501.9L1720.8 512.8L1699.8 525.1L1677.7 537.5L1654.5 549.9L1630.3 562.4Z"/>
<path fill="#0000e4" d="M1636.5 559.3L1587.6 583.5L1595.2 581.9L1615.6 576.2L1634 570.7L1667.5 560L1685.3 555.1L1700.2 551.5L1717.4 547.8L1734.2 544.5L1750.8 541.8L1767.1 539.5L1785.7 537.5L1802.2 536.2L1819.6 535.4L1835.9 535.2L1852.8 535.5L1869.1 536.4L1884.9 537.7L1900.3 539.5L1915.2 541.7L1930.1 544.3L1950.3 548.3L2020.7 564.1L2090.7 580.8L2153.3 596.6L2225.8 615.8L2306.4 637.8L2403.5 665L2414.7 651.7L2419.4 645.2L2424.7 637.3L2433.2 622.8L2440.1 608.3L2443.2 600.4L2445.8 592.5L2448.1 584.8L2449.9 577.1L2452.3 562.4L2453.1 554.4L2453.4 546.7L2279.8 449.7L2233.5 423.1L2193.6 399.2L2149.4 371.6L2109.9 345.4L2090.8 332.2L2071.1 318L2056.4 307.1L2042.6 296.3L2029.9 285.7L2019.5 276.4L2008.5 265.9L1999.6 256.7L1991.4 247.4L1983.9 238.1L1977.1 228.8L1970.1 218.1L1964.7 208.8L1959.3 198L1955.2 188.6L1951.3 177.9L1948.2 167.3L1945.5 155.7L1943.8 145.1L1942.5 133.5L1938.7 159.2L1934.9 182L1930.8 204.5L1926.9 223.5L1922.3 243.2L1917.1 263.1L1912.1 280.1L1906.7 296.9L1900.7 313.3L1894.3 329.3L1887.3 344.7L1881.1 357.1L1873.2 371.4L1866.2 382.9L1857.4 396L1849.6 406.5L1841.4 416.5L1831.1 428L1820.2 439L1808.8 449.6L1796.8 459.9L1784.3 470L1771.2 479.7L1755.2 490.9L1740.9 500.4L1723.4 511.2L1705.1 522L1683.3 534.4L1660.4 546.8Z"/>
<path fill="#0000ef" d="M1669.1 542.1L1623.1 566.3L1626.9 565.6L1636 563.1L1683.2 549L1711.6 541.7L1728.1 538L1744.1 534.8L1758 532.4L1773.1 530.1L1790.4 528L1805.5 526.7L1821.2 525.8L1837.4 525.4L1853.3 525.4L1868.3 526L1883 527L1899 528.7L1911.2 530.3L1925.5 532.7L1956.9 539.1L2016 553.1L2088.7 571.3L2153.2 588.2L2227.1 608.3L2308.6 631.1L2408.3 659.6L2418.5 646.5L2427.2 633.4L2434.5 620.2L2441.1 605.6L2446.2 591.2L2448.4 583.5L2450.1 575.9L2452.5 561.2L2453.4 546.7L2279.8 449.7L2233.5 423.1L2193.6 399.2L2149.4 371.6L2109.9 345.4L2090.8 332.2L2071.1 318L2056.4 307.1L2042.6 296.3L2029.9 285.7L2019.5 276.4L2008.5 265.9L1999.6 256.7L1991.4 247.4L1983.9 238.1L1977.1 228.8L1970.1 218.1L1964.7 208.8L1959.3 198L1955.2 188.6L1951.3 177.9L1948.2 167.3L1945.5 155.7L1943.8 145.1L1942.5 133.5L1935.3 179.7L1931.3 201.9L1927.5 220.8L1923 240.4L1918.7 257.4L1913.9 274.5L1908.6 291.4L1902.8 307.9L1897.6 321.3L1890.9 337L1884.9 349.7L1877.2 364.3L1870.5 376.1L1861.9 389.6L1854.3 400.3L1846.3 410.5L1836.3 422.3L1827.5 431.7L1816.5 442.6L1806.8 451.4L1794.8 461.6L1782.2 471.6L1769 481.4L1755.2 490.9L1740.9 500.4L1725.9 509.7L1707.8 520.5L1688.9 531.3Z"/>
<path fill="#0000fa" d="M1691.6 529.7L1651 551.9L1652.5 551.7L1657.4 550.5L1701 537.8L1729.8 530.5L1745.3 527.2L1760.5 524.3L1774.6 521.9L1788.4 520L1802.7 518.5L1817.3 517.3L1832.5 516.5L1848.4 516.2L1864.6 516.4L1878.7 517.1L1892.5 518.3L1906.3 520L1931.5 524.1L1961.8 530.6L2024 546.1L2089.7 563.2L2155.6 581L2230.5 601.8L2312.4 625.2L2412.6 654.3L2421.3 642.6L2429.5 629.4L2436.5 616.2L2442.7 601.7L2447 588.6L2450.4 574.6L2452.5 561.2L2453.4 546.7L2279.8 449.7L2233.5 423.1L2193.6 399.2L2149.4 371.6L2109.9 345.4L2090.8 332.2L2071.1 318L2056.4 307.1L2042.6 296.3L2029.9 285.7L2019.5 276.4L2008.5 265.9L1999.6 256.7L1991.4 247.4L1983.9 238.1L1977.1 228.8L1970.1 218.1L1964.7 208.8L1959.3 198L1955.2 188.6L1951.3 177.9L1948.2 167.3L1945.5 155.7L1943.8 145.1L1942.5 133.5L1935.3 179.7L1931.8 199.3L1928 218L1923.7 237.5L1919.4 254.6L1914.7 271.7L1910.4 285.8L1904.8 302.4L1899.7 316L1893.2 331.9L1887.3 344.7L1879.9 359.5L1873.2 371.4L1866.2 382.9L1858.9 393.9L1851.2 404.4L1843 414.5L1834.6 424.2L1825.7 433.5L1816.5 442.6L1804.9 453.1L1794.8 461.6L1782.2 471.6L1769 481.4L1755.2 490.9L1740.9 500.4L1725.9 509.7Z"/>
<path fill="#0005ff" d="M1713.1 517.4L1676.5 538.3L1681 537.4L1723.4 525.6L1750.8 519.1L1777.7 514.1L1791.3 512L1805.3 510.3L1819.2 509.1L1833.1 508.2L1846.9 507.7L1860.5 507.7L1872.6 508.1L1886.2 509L1900.7 510.4L1913.9 512.2L1938.3 516.5L1968.8 523.4L2025.9 538.2L2093.2 556.3L2160.2 574.8L2235.7 596.2L2317.5 620L2416.5 649.2L2424.7 637.3L2432.5 624.1L2438.3 612.2L2443.6 599L2447.7 586.1L2450.6 573.4L2452.6 560.1L2453.4 546.7L2279.8 449.7L2233.5 423.1L2193.6 399.2L2149.4 371.6L2109.9 345.4L2090.8 332.2L2071.1 318L2056.4 307.1L2042.6 296.3L2029.9 285.7L2019.5 276.4L2008.5 265.9L1999.6 256.7L1991.4 247.4L1983.9 238.1L1977.1 228.8L1970.1 218.1L1964.7 208.8L1959.3 198L1955.2 188.6L1951.3 177.9L1948.2 167.3L1945.5 155.7L1943.8 145.1L1942.5 133.5L1935.7 177.4L1928.6 215.3L1925 231.9L1920.9 248.9L1916.3 266L1912.1 280.1L1906.7 296.9L1901.8 310.6L1896.5 324L1890.9 337L1884.9 349.7L1878.6 361.9L1871.9 373.8L1864.8 385.1L1857.4 396L1849.6 406.5L1841.4 416.5L1832.8 426.1L1823.9 435.4L1814.6 444.4L1804.9 453.1L1792.7 463.3L1782.2 471.6L1769 481.4L1757.5 489.3L1743.3 498.8L1728.5 508.1Z"/>
<path fill="#0010ff" d="M1731 506.6L1698.8 525.9L1703.6 524.9L1742.6 514.6L1769.3 508.8L1794.2 504.5L1807.3 502.8L1820.7 501.4L1845.3 499.9L1858.2 499.7L1871.2 500L1881.9 500.5L1894.9 501.6L1907.5 503.1L1921.4 505.1L1947.8 510.2L1975.1 516.7L2030.5 531.5L2098.9 550.4L2166.5 569.5L2242.2 591.4L2420.1 644.2L2427.2 633.4L2433.9 621.5L2439.5 609.6L2444.1 597.7L2447.7 586.1L2450.6 573.4L2452.5 561.2L2453.4 548.5L2453.4 546.7L2276.6 447.9L2227.6 419.6L2185.5 394.2L2144.6 368.4L2105.6 342.4L2069.2 316.6L2054.6 305.7L2041 295L2028.3 284.4L2018 275.1L2008.5 265.9L1999.6 256.7L1991.4 247.4L1983.9 238.1L1977.1 228.8L1970.1 218.1L1964.7 208.8L1959.3 198L1955.2 188.6L1951.3 177.9L1948.2 167.3L1945.5 155.7L1943.8 145.1L1942.5 133.5L1936.1 175.2L1929.2 212.6L1925.6 229.1L1921.6 246L1917.1 263.1L1913 277.3L1908.6 291.4L1903.8 305.2L1898.6 318.7L1893.2 331.9L1887.3 344.7L1881.1 357.1L1874.6 369.1L1869.1 378.4L1861.9 389.6L1855.8 398.2L1849.6 406.5L1841.4 416.5L1832.8 426.1L1823.9 435.4L1814.6 444.4L1804.9 453.1L1794.8 461.6L1782.2 471.6L1771.2 479.7L1757.5 489.3Z"/>
<path fill="#001bff" d="M1745.7 497.2L1717.8 514.7L1722 514L1758.4 504.8L1782.5 499.8L1807.4 495.9L1832.3 493.3L1843.7 492.6L1855.4 492.3L1865.8 492.3L1878.2 492.7L1890.6 493.6L1902.9 494.8L1915.2 496.4L1927.6 498.5L1952.9 503.6L1981.5 510.6L2037.3 525.9L2106.4 545.4L2174.2 564.9L2249.7 587.1L2423.4 639.4L2429.5 629.4L2435.2 618.8L2440.1 608.3L2444.5 596.4L2448.1 584.8L2450.6 573.4L2452.3 562.4L2453.3 551.2L2453.4 546.7L2312.7 468.3L2270.2 444.3L2218.9 414.4L2174.8 387.7L2135 362.2L2099.1 338L2065.4 313.9L2051.1 303L2039.4 293.6L2026.8 283L2016.6 273.8L2007.2 264.6L1998.4 255.3L1990.3 246.1L1982.9 236.8L1976.2 227.5L1969.3 216.8L1964 207.4L1958.7 196.7L1954.7 187.2L1950.9 176.5L1947.8 166L1945.5 155.7L1943.8 145.1L1942.5 133.5L1936.1 175.2L1929.7 209.9L1922.3 243.2L1914.7 271.7L1910.4 285.8L1905.7 299.7L1900.7 313.3L1895.4 326.6L1889.7 339.6L1883.7 352.2L1877.2 364.3L1871.9 373.8L1864.8 385.1L1858.9 393.9L1852.7 402.4L1846.3 410.5L1839.7 418.4L1831.1 428L1822.1 437.2L1812.7 446.1L1802.9 454.8L1792.7 463.3L1782.2 471.6L1771.2 479.7L1759.8 487.8Z"/>
<path fill="#0025ff" d="M1759.8 487.8L1734.3 504.6L1737.9 504.1L1774.3 495.4L1799 490.7L1822.1 487.5L1843 485.7L1864.4 485.2L1875.5 485.4L1887.8 486.1L1910.9 488.6L1934.2 492.4L1959 497.7L1987.2 504.8L2045.9 521.3L2115.3 541.2L2183.1 561L2258.1 583.3L2426.5 634.6L2431.8 625.5L2437.1 614.9L2441.1 605.6L2445 595.1L2448.1 584.8L2450.4 574.6L2452 564.8L2453.1 554.4L2453.4 546.7L2312.7 468.3L2263.9 440.7L2210.3 409.3L2164.5 381.2L2127.9 357.5L2092.9 333.6L2061.8 311.1L2037.7 292.3L2025.3 281.7L2015.2 272.5L2005.9 263.3L1997.2 254L1989.2 244.8L1981.9 235.5L1975.3 226.2L1969.3 216.8L1964 207.4L1958.7 196.7L1954.7 187.2L1950.9 176.5L1947.8 166L1945.5 155.7L1943.8 145.1L1942.5 133.5L1936.5 173L1930.3 207.2L1923 240.4L1915.5 268.8L1911.3 283L1906.7 296.9L1897.6 321.3L1892 334.5L1887.3 344.7L1881.1 357.1L1875.9 366.7L1869.1 378.4L1863.3 387.4L1857.4 396L1851.2 404.4L1844.7 412.5L1836.3 422.3L1829.3 429.8L1820.2 439L1802.9 454.8L1792.7 463.3L1782.2 471.6Z"/>
<path fill="#0030ff" d="M1773.4 478.1L1748.6 495.4L1752.4 494.8L1784.8 487.4L1806.3 483.4L1830 480.2L1851.2 478.7L1872.2 478.5L1894.4 479.8L1916.3 482.4L1940 486.5L1964.5 492L1992.4 499.2L2115.6 534.7L2183.4 554.7L2258.1 577.2L2429.2 629.9L2433.9 621.5L2438.3 612.2L2442.2 603L2445.4 593.8L2448.1 584.8L2450.1 575.9L2451.7 567.2L2452.8 557.7L2453.4 546.7L2276.6 447.9L2230.5 421.3L2188.2 395.9L2144.6 368.4L2103.4 340.9L2082.7 326.4L2065.4 313.9L2049.4 301.7L2036.1 291L2023.8 280.4L2013.9 271.2L2004.6 261.9L1996 252.7L1988.1 243.4L1980.9 234.2L1974.4 224.8L1968.5 215.5L1963.3 206.1L1958.7 196.7L1954.7 187.2L1950.9 176.5L1947.8 166L1945.5 155.7L1943.8 145.1L1942.5 133.5L1936.8 170.9L1930.8 204.5L1924.3 234.7L1917.1 263.1L1913 277.3L1908.6 291.4L1899.7 316L1894.3 329.3L1889.7 339.6L1879.9 359.5L1869.1 378.4L1857.4 396L1851.2 404.4L1844.7 412.5L1838 420.4L1829.3 429.8L1822.1 437.2L1812.7 446.1L1794.8 461.6L1784.3 470Z"/>
<path fill="#003aff" d="M1784.3 470L1761.2 486.8L1764.5 486.4L1795.7 479.5L1816.8 475.8L1836.9 473.4L1856.4 472.1L1877.4 472.2L1897.6 473.5L1920.1 476.3L1943.3 480.5L1969.4 486.4L1997 493.8L2126.7 531.6L2267.8 574.2L2431.8 625.3L2435.9 617.5L2439.5 609.6L2442.7 601.7L2445.4 593.8L2447.7 586.1L2449.9 577.1L2451.5 568.4L2452.6 560.1L2453.4 546.7L2276.6 447.9L2230.5 421.3L2188.2 395.9L2142.1 366.9L2101.3 339.5L2080.7 325L2063.6 312.5L2047.7 300.3L2034.6 289.7L2023.8 280.4L2013.9 271.2L2004.6 261.9L1996 252.7L1988.1 243.4L1980.9 234.2L1974.4 224.8L1968.5 215.5L1963.3 206.1L1958.7 196.7L1954.7 187.2L1950.9 176.5L1947.8 166L1945.5 155.7L1943.8 145.1L1942.5 133.5L1936.8 170.9L1931.3 201.9L1925 231.9L1917.9 260.3L1910.4 285.8L1901.8 310.6L1896.5 324L1892 334.5L1882.4 354.6L1871.9 373.8L1860.4 391.7L1854.3 400.3L1848 408.5L1834.6 424.2L1820.2 439L1802.9 454.8Z"/>
<path fill="#0045ff" d="M1792.7 463.3L1772.5 478.8L1775.8 478.3L1804.5 472.3L1825.6 468.8L1844.8 466.7L1864.2 465.8L1884.6 466.2L1904.9 467.8L1927.1 471L1950 475.4L1974 481.1L2003.7 489.1L2138.5 529L2277.8 571.6L2434.2 620.8L2440.6 606.9L2445.8 592.5L2449.6 578.4L2452.2 563.6L2453 555.5L2453.4 546.7L2276.6 447.9L2227.6 419.6L2185.5 394.2L2139.7 365.3L2099.1 338L2078.8 323.6L2061.8 311.1L2046 299L2033 288.3L2022.4 279.1L2012.5 269.8L2003.3 260.6L1994.8 251.4L1987 242.1L1979.9 232.8L1973.5 223.5L1967.7 214.1L1962.6 204.7L1958.1 195.3L1954.2 185.9L1950.5 175.2L1947.5 164.7L1945.3 154.5L1943.6 144L1942.5 133.5L1936.8 170.9L1931.3 201.9L1925 231.9L1918.7 257.4L1911.3 283L1902.8 307.9L1894.3 329.3L1884.9 349.7L1874.6 369.1L1863.3 387.4L1852.7 402.4L1846.3 410.5L1839.7 418.4L1825.7 433.5L1810.7 447.9Z"/>
<path fill="#0050ff" d="M1802.9 454.8L1782.6 471.3L1786 470.8L1812.2 465.4L1831.4 462.4L1851.7 460.4L1870.7 459.8L1889.3 460.3L1910.2 462.3L1932.5 465.7L1955.9 470.4L1980.2 476.4L2007.7 484L2141.2 523.8L2279.3 566.4L2436.4 616.4L2441.7 604.3L2446.2 591.2L2449.6 578.4L2451.9 566L2452.9 556.6L2453.4 546.7L2276.6 447.9L2227.6 419.6L2185.5 394.2L2139.7 365.3L2099.1 338L2078.8 323.6L2061.8 311.1L2046 299L2033 288.3L2022.4 279.1L2012.5 269.8L2003.3 260.6L1994.8 251.4L1987 242.1L1979.9 232.8L1973.5 223.5L1967.7 214.1L1962.6 204.7L1958.1 195.3L1954.2 185.9L1950.5 175.2L1947.5 164.7L1945.3 154.5L1943.6 144L1942.5 133.5L1937.5 166.8L1932.3 196.7L1926.2 226.3L1920.2 251.7L1913 277.3L1905.7 299.7L1897.6 321.3L1888.5 342.1L1878.6 361.9L1869.1 378.4L1857.4 396L1846.3 410.5L1832.8 426.1L1818.3 440.8Z"/>
<path fill="#005aff" d="M1808.8 449.6L1791.7 464.1L1820.9 458.6L1840.7 455.7L1859.1 454.2L1876.2 453.9L1896.1 454.9L1916.6 457.1L1936.7 460.4L1960.1 465.3L1986.2 471.8L2015.9 480.2L2154 521.9L2289.8 564.3L2438.4 612.1L2442.7 601.7L2446.6 589.9L2449.3 579.7L2451.5 568.4L2452.8 557.7L2453.4 546.7L2276.6 447.9L2227.6 419.6L2185.5 394.2L2139.7 365.3L2118.8 351.4L2097 336.5L2076.8 322.2L2060 309.8L2044.3 297.6L2031.4 287L2020.9 277.7L2011.1 268.5L2002 259.3L1994.8 251.4L1987 242.1L1979.9 232.8L1973.5 223.5L1967.7 214.1L1962.6 204.7L1958.1 195.3L1954.2 185.9L1950.5 175.2L1947.5 164.7L1945.3 154.5L1943.6 144L1942.5 133.5L1937.5 166.8L1932.3 196.7L1926.9 223.5L1920.9 248.9L1913.9 274.5L1906.7 296.9L1898.6 318.7L1890.9 337L1881.1 357.1L1871.9 373.8L1860.4 391.7L1849.6 406.5L1838 420.4L1823.9 435.4Z"/>
<path fill="#0065ff" d="M1816.5 442.6L1799.9 457.3L1827.5 452.2L1846.3 449.7L1863.5 448.5L1879.8 448.3L1899.1 449.3L1919.2 451.6L1941.2 455.3L1964.2 460.3L1989.8 466.8L2019.4 475.3L2157.7 517.4L2300.4 562.3L2440.3 607.8L2443.6 599L2446.6 589.9L2449 580.9L2451.1 570.9L2452.7 558.9L2453.4 546.7L2276.6 447.9L2227.6 419.6L2185.5 394.2L2161.9 379.6L2137.3 363.7L2116.5 349.9L2094.9 335.1L2074.9 320.8L2058.2 308.4L2042.6 296.3L2029.9 285.7L2019.5 276.4L2009.8 267.2L2000.8 258L1993.7 250.1L1986 240.8L1979 231.5L1972.6 222.2L1966.9 212.8L1961.9 203.4L1957.5 194L1953.7 184.6L1950.1 173.9L1947.5 164.7L1945.3 154.5L1943.6 144L1942.5 133.5L1937.5 166.8L1932.8 194.2L1927.5 220.8L1921.6 246L1915.5 268.8L1908.6 291.4L1900.7 313.3L1893.2 331.9L1883.7 352.2L1874.6 369.1L1864.8 385.1L1854.3 400.3L1843 414.5L1829.3 429.8Z"/>
<path fill="#0070ff" d="M1823.9 435.4L1807.5 450.8L1834.9 446L1853.8 443.7L1870.9 442.8L1887.1 442.9L1905.2 444.2L1926.2 446.9L1946 450.5L1969.7 455.8L1995.2 462.5L2027.1 471.7L2095.8 492.7L2171 516L2310.8 560.4L2442 603.5L2447 588.6L2450.4 574.6L2452.5 561.2L2453.4 546.7L2316.1 470.2L2273.4 446.1L2224.7 417.9L2182.8 392.6L2159.4 378L2135 362.2L2114.3 348.4L2092.9 333.6L2073 319.4L2056.4 307.1L2041 295L2028.3 284.4L2018 275.1L2008.5 265.9L1999.6 256.7L1992.5 248.7L1986 240.8L1979 231.5L1972.6 222.2L1966.9 212.8L1961.9 203.4L1957.5 194L1953.7 184.6L1950.1 173.9L1947.5 164.7L1945.3 154.5L1943.6 144L1942.5 133.5L1937.5 166.8L1932.8 194.2L1927.5 220.8L1922.3 243.2L1916.3 266L1909.5 288.6L1902.8 307.9L1895.4 326.6L1887.3 344.7L1878.6 361.9L1869.1 378.4L1858.9 393.9L1848 408.5L1836.3 422.3Z"/>
<path fill="#007aff" d="M1827.5 431.7L1814.4 444.5L1837.5 440.5L1850.4 438.8L1865.5 437.6L1880.1 437.3L1896.6 438L1913.9 439.6L1931.1 442.1L1949.3 445.5L1975.4 451.5L2006.6 460L2043.2 470.9L2129.2 497.5L2211.3 523.3L2288.5 548.1L2367.4 573.9L2443.5 599.3L2447.4 587.3L2450.1 575.9L2452.5 561.2L2453.4 546.7L2316.1 470.2L2273.4 446.1L2224.7 417.9L2182.8 392.6L2159.4 378L2135 362.2L2114.3 348.4L2092.9 333.6L2073 319.4L2056.4 307.1L2041 295L2028.3 284.4L2018 275.1L2008.5 265.9L1999.6 256.7L1992.5 248.7L1986 240.8L1979 231.5L1972.6 222.2L1966.9 212.8L1961.9 203.4L1957.5 194L1953.7 184.6L1950.1 173.9L1947.5 164.7L1945.3 154.5L1943.6 144L1942.5 133.5L1937.8 164.8L1933.2 191.7L1928 218L1923 240.4L1917.1 263.1L1910.4 285.8L1903.8 305.2L1896.5 324L1888.5 342.1L1879.9 359.5L1870.5 376.1L1860.4 391.7L1851.2 404.4L1839.7 418.4Z"/>
<path fill="#0085ff" d="M1834.6 424.2L1820.8 438.4L1842.5 434.8L1857.9 433L1874.4 432.1L1890 432.2L1906.7 433.4L1923 435.3L1941 438.3L1961.5 442.6L1988.3 449.3L2020 458.3L2078.3 476.2L2152.7 499.4L2232.6 524.9L2307.4 549.2L2376.2 572L2445 595.2L2447.4 587.3L2449.3 579.7L2450.9 572.1L2452.2 563.6L2453 555.5L2453.4 546.7L2316.1 470.2L2273.4 446.1L2224.7 417.9L2182.8 392.6L2159.4 378L2135 362.2L2114.3 348.4L2092.9 333.6L2071.1 318L2054.6 305.7L2039.4 293.6L2026.8 283L2016.6 273.8L2007.2 264.6L1998.4 255.3L1991.4 247.4L1984.9 239.5L1978 230.2L1971.8 220.8L1966.2 211.4L1961.2 202L1956.9 192.6L1953.2 183.2L1950.1 173.9L1947.5 164.7L1945.3 154.5L1943.6 144L1942.5 133.5L1938.1 162.9L1933.7 189.2L1928.6 215.3L1923.7 237.5L1917.9 260.3L1912.1 280.1L1905.7 299.7L1898.6 318.7L1890.9 337L1882.4 354.6L1873.2 371.4L1864.8 385.1L1855.8 398.2L1844.7 412.5Z"/>
<path fill="#008fff" d="M1839.7 418.4L1826.7 432.5L1849.4 428.9L1865.4 427.3L1879.4 426.8L1894.8 427.2L1911.8 428.5L1929 430.8L1947.1 434.1L1968.1 438.7L1994.6 445.5L2027.1 455L2093.8 475.6L2166.8 498.6L2236.4 521L2310 545.1L2384.7 570.1L2446.3 591.1L2449 580.9L2450.9 572.1L2452.2 563.6L2453 555.5L2453.4 546.7L2316.1 470.2L2273.4 446.1L2224.7 417.9L2180.1 390.9L2156.9 376.4L2132.6 360.6L2109.9 345.4L2088.8 330.7L2069.2 316.6L2052.8 304.4L2037.7 292.3L2025.3 281.7L2015.2 272.5L2007.2 264.6L1998.4 255.3L1991.4 247.4L1984.9 239.5L1978 230.2L1971.8 220.8L1966.2 211.4L1961.2 202L1956.9 192.6L1953.2 183.2L1950.1 173.9L1947.5 164.7L1945.3 154.5L1943.6 144L1942.5 133.5L1938.1 162.9L1933.7 189.2L1929.2 212.6L1924.3 234.7L1918.7 257.4L1913 277.3L1906.7 296.9L1900.7 313.3L1893.2 331.9L1886.1 347.2L1877.2 364.3L1869.1 378.4L1858.9 393.9L1849.6 406.5Z"/>
<path fill="#009aff" d="M1844.7 412.5L1832.1 426.8L1853.1 423.6L1870.3 422L1885.3 421.7L1900.6 422.3L1918.2 424L1937.9 427L1957.1 430.8L1980.1 436.2L2006.9 443.6L2038.4 453L2118.3 478L2189.3 500.7L2256.8 522.7L2327.8 546.2L2392.9 568.2L2447.4 587.1L2448.4 583.5L2450.4 574.6L2452 564.8L2453 555.5L2453.4 546.7L2316.1 470.2L2273.4 446.1L2224.7 417.9L2180.1 390.9L2156.9 376.4L2132.6 360.6L2109.9 345.4L2088.8 330.7L2069.2 316.6L2052.8 304.4L2037.7 292.3L2023.8 280.4L2013.9 271.2L2005.9 263.3L1997.2 254L1990.3 246.1L1983.9 238.1L1977.1 228.8L1970.9 219.5L1965.4 210.1L1960.6 200.7L1956.3 191.3L1952.7 181.9L1949.7 172.6L1947.2 163.4L1945.1 153.3L1943.6 144L1942.5 133.5L1938.4 161L1934.1 186.8L1929.7 209.9L1925 231.9L1919.4 254.6L1913.9 274.5L1907.6 294.1L1901.8 310.6L1894.3 329.3L1887.3 344.7L1879.9 359.5L1871.9 373.8L1863.3 387.4L1854.3 400.3Z"/>
<path fill="#00a5ff" d="M1848 408.5L1837.2 421.3L1857.6 418.3L1874.9 416.9L1889.2 416.7L1905.4 417.5L1922.8 419.4L1943.1 422.7L1963.1 426.8L1986.7 432.7L2015.5 440.8L2051.5 451.8L2124.4 474.8L2202.7 500L2268.4 521.6L2329.9 542.2L2394 564L2448.5 583.1L2450.6 573.4L2452 564.8L2453 555.5L2453.4 546.7L2316.1 470.2L2273.4 446.1L2224.7 417.9L2180.1 390.9L2156.9 376.4L2132.6 360.6L2109.9 345.4L2088.8 330.7L2069.2 316.6L2052.8 304.4L2037.7 292.3L2025.3 281.7L2015.2 272.5L2007.2 264.6L1998.4 255.3L1991.4 247.4L1984.9 239.5L1978 230.2L1971.8 220.8L1966.2 211.4L1961.2 202L1956.9 192.6L1953.2 183.2L1950.1 173.9L1947.5 164.7L1945.3 154.5L1943.6 144L1942.5 133.5L1938.4 161L1934.5 184.4L1930.3 207.2L1925.6 229.1L1920.9 248.9L1915.5 268.8L1909.5 288.6L1903.8 305.2L1896.5 324L1889.7 339.6L1882.4 354.6L1874.6 369.1L1866.2 382.9L1857.4 396Z"/>
<path fill="#00afff" d="M1852.7 402.4L1841.9 415.8L1862.9 412.9L1872.3 412.1L1881.1 411.8L1896.4 411.9L1911.3 412.9L1928.8 415.1L1949 418.6L1969.2 423.1L1992.6 429L2023.4 437.9L2068 451.8L2139.3 474.5L2215.6 499.3L2279.5 520.5L2339.3 540.7L2394.9 559.9L2449.4 579.2L2451.1 570.9L2452.3 562.4L2453.1 554.4L2453.4 546.7L2316.1 470.2L2273.4 446.1L2224.7 417.9L2182.8 392.6L2159.4 378L2135 362.2L2114.3 348.4L2092.9 333.6L2071.1 318L2054.6 305.7L2039.4 293.6L2026.8 283L2016.6 273.8L2007.2 264.6L1998.4 255.3L1991.4 247.4L1984.9 239.5L1978 230.2L1971.8 220.8L1966.2 211.4L1961.2 202L1956.9 192.6L1953.2 183.2L1950.1 173.9L1947.5 164.7L1945.3 154.5L1943.6 144L1942.5 133.5L1938.4 161L1934.5 184.4L1930.3 207.2L1925.6 229.1L1920.9 248.9L1915.5 268.8L1910.4 285.8L1904.8 302.4L1898.6 318.7L1892 334.5L1884.9 349.7L1877.2 364.3L1869.1 378.4L1860.4 391.7Z"/>
<path fill="#00baff" d="M1855.8 398.2L1846.3 410.5L1865.8 407.9L1882.2 406.9L1899.2 407.1L1917.1 408.5L1934.5 410.9L1954.9 414.7L1975.2 419.4L1996.9 425.1L2028.4 434.3L2075.3 449L2145.3 471.4L2220 495.9L2282.6 516.8L2341.1 536.8L2395.8 555.8L2450.3 575.3L2452.5 561.2L2453.4 546.7L2316.1 470.2L2273.4 446.1L2224.7 417.9L2182.8 392.6L2159.4 378L2135 362.2L2114.3 348.4L2092.9 333.6L2073 319.4L2056.4 307.1L2041 295L2028.3 284.4L2018 275.1L2008.5 265.9L1999.6 256.7L1992.5 248.7L1986 240.8L1979 231.5L1972.6 222.2L1966.9 212.8L1961.9 203.4L1957.5 194L1953.7 184.6L1950.1 173.9L1947.5 164.7L1945.3 154.5L1943.6 144L1942.5 133.5L1938.7 159.2L1934.9 182L1930.8 204.5L1926.9 223.5L1922.3 243.2L1917.1 263.1L1912.1 280.1L1906.7 296.9L1900.7 313.3L1894.3 329.3L1887.3 344.7L1881.1 357.1L1873.2 371.4L1864.8 385.1Z"/>
<path fill="#00c5ff" d="M1860.4 391.7L1850.4 405.4L1869.9 402.9L1886.7 402L1901.3 402.3L1917.1 403.5L1935.7 406.1L1955.8 409.8L1976.2 414.5L1999.1 420.6L2030.6 429.9L2082.6 446.3L2151.2 468.4L2224.3 492.5L2285.4 513.1L2342.7 532.8L2396.5 551.7L2451 571.4L2452.7 558.9L2453.4 546.7L2276.6 447.9L2227.6 419.6L2185.5 394.2L2161.9 379.6L2137.3 363.7L2116.5 349.9L2094.9 335.1L2074.9 320.8L2058.2 308.4L2042.6 296.3L2029.9 285.7L2019.5 276.4L2009.8 267.2L2000.8 258L1993.7 250.1L1986 240.8L1979 231.5L1972.6 222.2L1966.9 212.8L1961.9 203.4L1957.5 194L1953.7 184.6L1950.1 173.9L1947.5 164.7L1945.3 154.5L1943.6 144L1942.5 133.5L1938.7 159.2L1934.9 182L1930.8 204.5L1926.9 223.5L1922.3 243.2L1917.9 260.3L1913 277.3L1907.6 294.1L1901.8 310.6L1895.4 326.6L1888.5 342.1L1882.4 354.6L1874.6 369.1L1867.7 380.6Z"/>
<path fill="#00cfff" d="M1863.3 387.4L1854.3 400.3L1872.4 398L1888.6 397.2L1906.4 397.7L1923.9 399.4L1941.1 402L1961.3 406L1981.5 410.9L2003.2 416.7L2038.1 427.2L2098.4 446.4L2165.1 468.2L2236.1 491.8L2295.3 511.9L2350.8 531.2L2403.3 549.9L2451.6 567.6L2452.9 556.6L2453.4 546.7L2276.6 447.9L2227.6 419.6L2185.5 394.2L2139.7 365.3L2118.8 351.4L2097 336.5L2076.8 322.2L2060 309.8L2044.3 297.6L2031.4 287L2020.9 277.7L2011.1 268.5L2002 259.3L1994.8 251.4L1987 242.1L1979.9 232.8L1973.5 223.5L1967.7 214.1L1962.6 204.7L1958.1 195.3L1954.2 185.9L1950.5 175.2L1947.5 164.7L1945.3 154.5L1943.6 144L1942.5 133.5L1935.3 179.7L1931.3 201.9L1927.5 220.8L1923 240.4L1918.7 257.4L1913.9 274.5L1909.5 288.6L1903.8 305.2L1898.6 318.7L1892 334.5L1886.1 347.2L1878.6 361.9L1871.9 373.8Z"/>
<path fill="#00daff" d="M1866.2 382.9L1857.9 395.3L1877.1 393L1886.1 392.6L1894.6 392.5L1908.5 393L1924.2 394.6L1942.2 397.3L1962 401.2L1983.6 406.5L2005.2 412.3L2038.7 422.4L2097 441.1L2170.5 465.2L2239.8 488.4L2297.5 508.2L2351.8 527.2L2403.5 545.8L2452.1 563.8L2453 555.5L2453.4 546.7L2276.6 447.9L2227.6 419.6L2185.5 394.2L2139.7 365.3L2099.1 338L2078.8 323.6L2061.8 311.1L2046 299L2033 288.3L2022.4 279.1L2012.5 269.8L2003.3 260.6L1994.8 251.4L1987 242.1L1979.9 232.8L1973.5 223.5L1967.7 214.1L1962.6 204.7L1958.1 195.3L1954.2 185.9L1950.5 175.2L1947.5 164.7L1945.3 154.5L1943.6 144L1942.5 133.5L1935.3 179.7L1931.8 199.3L1928 218L1923.7 237.5L1919.4 254.6L1914.7 271.7L1910.4 285.8L1904.8 302.4L1899.7 316L1893.2 331.9L1887.3 344.7L1879.9 359.5L1873.2 371.4Z"/>
<path fill="#00e4ff" d="M1869.1 378.4L1861.3 390.4L1879.3 388.3L1895.5 387.8L1910.6 388.4L1926.1 390L1944.3 392.8L1964.1 396.8L1984.8 401.8L2008.6 408.4L2044.8 419.5L2103.9 438.5L2175.7 462.2L2243.1 485L2299.3 504.4L2352.4 523.2L2403.3 541.7L2452.6 560.1L2453.4 546.7L2276.6 447.9L2230.5 421.3L2188.2 395.9L2142.1 366.9L2101.3 339.5L2080.7 325L2063.6 312.5L2047.7 300.3L2034.6 289.7L2023.8 280.4L2013.9 271.2L2004.6 261.9L1996 252.7L1988.1 243.4L1980.9 234.2L1974.4 224.8L1968.5 215.5L1963.3 206.1L1958.7 196.7L1954.7 187.2L1950.9 176.5L1947.8 166L1945.5 155.7L1943.8 145.1L1942.5 133.5L1935.7 177.4L1928.6 215.3L1924.3 234.7L1920.2 251.7L1915.5 268.8L1911.3 283L1905.7 299.7L1900.7 313.3L1895.4 326.6L1889.7 339.6L1882.4 354.6L1875.9 366.7Z"/>
<path fill="#00efff" d="M1871.9 373.8L1864.5 385.6L1880.4 383.7L1896 383.2L1910.8 383.7L1927.1 385.3L1945 388.1L1964.6 392.1L1985.9 397.3L2009.3 403.8L2045.4 414.8L2110.7 436L2180.6 459.2L2246.2 481.5L2300.8 500.5L2352.7 519.1L2402.8 537.5L2452.9 556.4L2453.4 546.7L2279.8 449.7L2233.5 423.1L2190.9 397.6L2147 370L2105.6 342.4L2084.7 327.9L2067.3 315.3L2051.1 303L2037.7 292.3L2025.3 281.7L2015.2 272.5L2005.9 263.3L1997.2 254L1989.2 244.8L1981.9 235.5L1975.3 226.2L1969.3 216.8L1964 207.4L1958.7 196.7L1954.7 187.2L1950.9 176.5L1947.8 166L1945.5 155.7L1943.8 145.1L1942.5 133.5L1935.7 177.4L1928.6 215.3L1925 231.9L1920.9 248.9L1916.3 266L1912.1 280.1L1906.7 296.9L1901.8 310.6L1896.5 324L1890.9 337L1884.9 349.7L1878.6 361.9Z"/>
<path fill="#00faff" d="M1867.7 380.6L1884.1 379L1897.5 378.6L1912.2 379.1L1929.3 380.9L1947.1 383.7L1966.5 387.8L1987.2 392.9L2010.8 399.4L2046.1 410.3L2109.3 430.9L2177.8 453.7L2243.6 476.2L2301.9 496.6L2352.5 514.9L2401.8 533.1L2453.2 552.7L2453.4 546.7L2312.7 468.3L2270.2 444.3L2218.9 414.4L2172.2 386L2132.6 360.6L2097 336.5L2065.4 313.9L2051.1 303L2039.4 293.6L2026.8 283L2016.6 273.8L2007.2 264.6L1998.4 255.3L1990.3 246.1L1982.9 236.8L1976.2 227.5L1969.3 216.8L1964 207.4L1958.7 196.7L1954.7 187.2L1950.9 176.5L1947.8 166L1945.5 155.7L1943.8 145.1L1942.5 133.5L1936.1 175.2L1929.2 212.6L1925.6 229.1L1921.6 246L1917.1 263.1L1913 277.3L1908.6 291.4L1903.8 305.2L1898.6 318.7L1893.2 331.9L1887.3 344.7L1881.1 357.1L1874.6 369.1Z"/>
<path fill="#05fffa" d="M1870.5 376.1L1885.1 374.5L1899 374L1914.4 374.6L1931.4 376.5L1949.4 379.4L1969.5 383.7L1991.2 389.2L2014.4 395.7L2053.1 407.8L2123.3 430.9L2189.3 453.1L2251 474.3L2302.4 492.6L2351.8 510.5L2400.2 528.6L2453.4 549L2453.4 546.7L2276.6 447.9L2227.6 419.6L2185.5 394.2L2144.6 368.4L2105.6 342.4L2069.2 316.6L2054.6 305.7L2041 295L2028.3 284.4L2018 275.1L2008.5 265.9L1999.6 256.7L1991.4 247.4L1983.9 238.1L1977.1 228.8L1970.1 218.1L1964.7 208.8L1959.3 198L1955.2 188.6L1951.3 177.9L1948.2 167.3L1945.5 155.7L1943.8 145.1L1942.5 133.5L1936.1 175.2L1929.7 209.9L1922.3 243.2L1917.9 260.3L1913.9 274.5L1909.5 288.6L1904.8 302.4L1899.7 316L1894.3 329.3L1888.5 342.1L1882.4 354.6L1875.9 366.7Z"/>
<path fill="#10ffef" d="M1879.9 359.5L1873.2 371.4L1889.3 369.8L1905.5 369.6L1922.3 370.7L1940.8 373.2L1958.9 376.6L1978.1 381.1L1999.8 386.8L2021.6 393.2L2060.7 405.6L2129.1 428.2L2193.1 449.9L2249.1 469.3L2296.3 486.2L2345.8 504.3L2392 521.6L2446.2 542.6L2279.8 449.7L2233.5 423.1L2190.9 397.6L2147 370L2107.7 343.9L2088.8 330.7L2069.2 316.6L2054.6 305.7L2041 295L2028.3 284.4L2018 275.1L2008.5 265.9L1999.6 256.7L1991.4 247.4L1983.9 238.1L1977.1 228.8L1970.1 218.1L1964.7 208.8L1959.3 198L1955.2 188.6L1951.3 177.9L1948.2 167.3L1945.5 155.7L1943.8 145.1L1942.5 133.5L1936.5 173L1930.3 207.2L1923 240.4L1915.5 268.8L1911.3 283L1906.7 296.9L1901.8 310.6L1896.5 324L1890.9 337L1886.1 347.2Z"/>
<path fill="#1bffe4" d="M1875.9 366.7L1890.2 365.4L1903.7 365.1L1918.6 365.8L1934.2 367.6L1952.8 370.8L1971.9 374.9L1992.9 380.3L2015.7 386.8L2052.8 398.4L2112.9 418.2L2176.2 439.7L2235 460.1L2284 477.5L2331.1 494.8L2377.3 512.2L2425 530.7L2319.5 472.1L2273.4 446.1L2227.6 419.6L2185.5 394.2L2142.1 366.9L2103.4 340.9L2082.7 326.4L2065.4 313.9L2051.1 303L2037.7 292.3L2025.3 281.7L2015.2 272.5L2005.9 263.3L1997.2 254L1989.2 244.8L1981.9 235.5L1975.3 226.2L1969.3 216.8L1964 207.4L1958.7 196.7L1954.7 187.2L1950.9 176.5L1947.8 166L1945.5 155.7L1943.8 145.1L1942.5 133.5L1936.5 173L1930.3 207.2L1923 240.4L1915.5 268.8L1911.3 283L1906.7 296.9L1897.6 321.3L1892 334.5L1887.3 344.7L1881.1 357.1Z"/>
<path fill="#25ffda" d="M1883.7 352.2L1878.4 362.3L1886.8 361.3L1894.8 360.8L1906.8 360.7L1921.1 361.5L1936 363.3L1951.8 366L1970.6 370L1991.1 375.2L2013.9 381.7L2046 391.6L2097.1 408.5L2159.8 429.6L2217.8 449.7L2266 466.9L2311.9 483.7L2356.8 500.6L2403.2 518.5L2316.1 470.2L2267.1 442.5L2221.7 416.1L2180.1 390.9L2137.3 363.7L2099.1 338L2063.6 312.5L2049.4 301.7L2036.1 291L2023.8 280.4L2013.9 271.2L2004.6 261.9L1996 252.7L1988.1 243.4L1980.9 234.2L1974.4 224.8L1968.5 215.5L1963.3 206.1L1958.7 196.7L1954.7 187.2L1950.9 176.5L1947.8 166L1945.5 155.7L1943.8 145.1L1942.5 133.5L1936.5 173L1930.3 207.2L1923.7 237.5L1916.3 266L1908.6 291.4L1899.7 316L1894.3 329.3L1889.7 339.6Z"/>
<path fill="#30ffcf" d="M1890.9 337L1880.8 357.7L1895.2 356.4L1909.9 356.3L1923.3 357.2L1937.9 359L1953.5 361.7L1972.2 365.8L1992.6 371L2014.9 377.4L2047.4 387.5L2096 403.6L2151 422.2L2207.1 441.7L2251.7 457.6L2293 472.6L2336.3 488.9L2381 506.2L2306 464.5L2257.7 437.1L2213.1 411L2172.2 386L2130.3 359.1L2092.9 333.6L2060 309.8L2046 299L2033 288.3L2022.4 279.1L2012.5 269.8L2003.3 260.6L1994.8 251.4L1987 242.1L1979.9 232.8L1973.5 223.5L1967.7 214.1L1962.6 204.7L1958.1 195.3L1954.2 185.9L1950.5 175.2L1947.5 164.7L1945.3 154.5L1943.6 144L1942.5 133.5L1936.8 170.9L1930.8 204.5L1924.3 234.7L1917.1 263.1L1909.5 288.6L1900.7 313.3L1895.4 326.6Z"/>
<path fill="#3affc5" d="M1893.2 331.9L1883.1 353.3L1897.7 352L1906.2 351.8L1913.8 352L1926.6 353L1940.8 354.9L1956.5 357.8L1973.8 361.6L1992.5 366.4L2014.6 372.8L2046.4 382.7L2088 396.5L2141.4 414.6L2196.6 433.7L2239.8 449.1L2279.7 463.7L2316.1 477.4L2358.7 493.9L2292.8 457.1L2245.5 430.1L2201.9 404.2L2161.9 379.6L2121.1 352.9L2082.7 326.4L2052.8 304.4L2039.4 293.6L2028.3 284.4L2018 275.1L2008.5 265.9L1999.6 256.7L1992.5 248.7L1986 240.8L1979 231.5L1972.6 222.2L1966.9 212.8L1961.9 203.4L1957.5 194L1953.7 184.6L1950.1 173.9L1947.5 164.7L1945.3 154.5L1943.6 144L1942.5 133.5L1936.8 170.9L1931.3 201.9L1925 231.9L1918.7 257.4L1911.3 283L1902.8 307.9L1897.6 321.3Z"/>
<path fill="#45ffba" d="M1895.4 326.6L1885.3 348.8L1898.3 347.6L1911.8 347.6L1926.2 348.5L1942.5 350.7L1958.1 353.6L1975.2 357.5L1992.2 361.9L2012.4 367.6L2040.1 376.2L2073.3 387.1L2127 405.3L2180.8 423.9L2222 438.5L2261.4 452.9L2296.2 466L2336.5 481.5L2279.8 449.7L2233.5 423.1L2190.9 397.6L2151.9 373.2L2112.1 346.9L2076.8 322.2L2061.8 311.1L2047.7 300.3L2036.1 291L2025.3 281.7L2015.2 272.5L2007.2 264.6L1998.4 255.3L1991.4 247.4L1984.9 239.5L1978 230.2L1971.8 220.8L1966.2 211.4L1961.2 202L1956.9 192.6L1953.2 183.2L1950.1 173.9L1947.5 164.7L1945.3 154.5L1943.6 144L1942.5 133.5L1937.2 168.8L1931.8 199.3L1925.6 229.1L1919.4 254.6L1912.1 280.1L1903.8 305.2Z"/>
<path fill="#50ffaf" d="M1897.6 321.3L1887.5 344.4L1900.4 343.3L1914.6 343.3L1929.8 344.5L1945.3 346.7L1959.6 349.4L1976.6 353.3L1993.7 357.8L2012.6 363.2L2039.4 371.5L2071.9 382.3L2123.7 399.8L2170.6 416.1L2243.5 442.3L2314.6 469.3L2263.9 440.7L2218.9 414.4L2180.1 390.9L2142.1 366.9L2103.4 340.9L2069.2 316.6L2044.3 297.6L2033 288.3L2022.4 279.1L2012.5 269.8L2004.6 261.9L1996 252.7L1989.2 244.8L1982.9 236.8L1976.2 227.5L1970.9 219.5L1965.4 210.1L1960.6 200.7L1956.3 191.3L1952.7 181.9L1949.7 172.6L1947.2 163.4L1945.1 153.3L1943.6 144L1942.5 133.5L1937.5 166.8L1932.3 196.7L1926.2 226.3L1920.2 251.7L1913 277.3L1905.7 299.7Z"/>
<path fill="#5affa5" d="M1897.6 321.3L1889.5 340L1901.5 339L1914.6 339L1926.9 339.8L1939.7 341.4L1954.5 343.9L1970.7 347.5L1987.1 351.5L2006.4 356.9L2029.3 363.9L2059.1 373.6L2109.2 390.5L2155 406.4L2226.2 431.9L2293.2 457.4L2245.5 430.1L2204.7 405.9L2167.1 382.8L2130.3 359.1L2094.9 335.1L2063.6 312.5L2039.4 293.6L2028.3 284.4L2019.5 276.4L2009.8 267.2L2002 259.3L1994.8 251.4L1988.1 243.4L1981.9 235.5L1975.3 226.2L1970.1 218.1L1964.7 208.8L1960.6 200.7L1956.3 191.3L1952.7 181.9L1949.7 172.6L1947.2 163.4L1945.1 153.3L1943.6 144L1942.5 133.5L1937.5 166.8L1932.3 196.7L1926.2 226.3L1920.2 251.7L1913 277.3L1905.7 299.7Z"/>
<path fill="#65ff9a" d="M1899.7 316L1891.5 335.7L1903.2 334.7L1915.4 334.7L1929 335.6L1942.4 337.4L1956.5 339.9L1972.1 343.4L1988.3 347.5L2005.9 352.4L2028.6 359.3L2055.4 368L2140.6 397.1L2209.5 421.8L2272.6 445.6L2227.6 419.6L2188.2 395.9L2151.9 373.2L2118.8 351.4L2084.7 327.9L2056.4 307.1L2034.6 289.7L2023.8 280.4L2015.2 272.5L2005.9 263.3L1998.4 255.3L1991.4 247.4L1984.9 239.5L1979 231.5L1973.5 223.5L1968.5 215.5L1963.3 206.1L1959.3 198L1955.2 188.6L1952.2 180.5L1949.3 171.2L1946.9 162.1L1945.1 153.3L1943.6 144L1942.5 133.5L1937.5 166.8L1932.8 194.2L1927.5 220.8L1921.6 246L1914.7 271.7L1907.6 294.1Z"/>
<path fill="#70ff8f" d="M1901.8 310.6L1893.4 331.4L1905.2 330.4L1917.6 330.5L1931.2 331.5L1946.2 333.6L1959.9 336.2L1974.7 339.6L1989.6 343.4L2006.2 348.1L2027.9 354.7L2052.5 362.7L2130.8 389.5L2197.6 413.4L2252.7 434.3L2213.1 411L2174.8 387.7L2139.7 365.3L2107.7 343.9L2076.8 322.2L2051.1 303L2029.9 285.7L2012.5 269.8L2004.6 261.9L1997.2 254L1990.3 246.1L1983.9 238.1L1978 230.2L1972.6 222.2L1967.7 214.1L1962.6 204.7L1958.7 196.7L1954.7 187.2L1951.8 179.2L1948.9 169.9L1946.6 160.8L1944.9 152.1L1943.5 143L1942.5 133.5L1937.5 166.8L1932.8 194.2L1927.5 220.8L1922.3 243.2L1916.3 266L1909.5 288.6Z"/>
<path fill="#7aff85" d="M1902.8 307.9L1895.2 327.1L1906 326.2L1917.8 326.2L1928.6 326.9L1940.7 328.4L1953.6 330.6L1966.4 333.3L1981.8 337L1998.8 341.6L2018.4 347.4L2041.9 354.9L2107.2 377.1L2176.2 401.6L2233.7 423.2L2196.3 400.9L2159.4 378L2125.6 356L2094.9 335.1L2067.3 315.3L2044.3 297.6L2025.3 281.7L2008.5 265.9L2000.8 258L1993.7 250.1L1981.9 235.5L1976.2 227.5L1970.9 219.5L1966.2 211.4L1961.9 203.4L1958.1 195.3L1954.7 187.2L1951.8 179.2L1948.9 169.9L1946.6 160.8L1944.9 152.1L1943.5 143L1942.5 133.5L1937.5 166.8L1932.8 194.2L1927.5 220.8L1922.3 243.2L1916.3 266L1909.5 288.6Z"/>
<path fill="#85ff7a" d="M1904.8 302.4L1897 322.8L1907.3 322L1918.5 322L1930.8 322.9L1944.3 324.6L1956.2 326.8L1970.4 329.9L1984.4 333.4L1999.9 337.6L2019.4 343.4L2040.6 350.2L2099 370L2162.7 392.7L2215.6 412.5L2180.1 390.9L2147 370L2114.3 348.4L2084.7 327.9L2060 309.8L2039.4 293.6L2020.9 277.7L2005.9 263.3L1992.5 248.7L1986 240.8L1979.9 232.8L1970.1 218.1L1965.4 210.1L1961.2 202L1957.5 194L1954.2 185.9L1951.3 177.9L1948.5 168.6L1946.3 159.5L1944.6 150.9L1943.4 141.9L1942.5 133.5L1937.8 164.8L1933.2 191.7L1928 218L1923 240.4L1917.1 263.1L1911.3 283Z"/>
<path fill="#8fff70" d="M1906.7 296.9L1898.7 318.6L1909.5 317.7L1921.7 317.9L1934.9 319L1949.1 321.1L1960.8 323.4L1972.9 326.1L2000.7 333.5L2018.7 338.9L2040.1 345.8L2090.8 363L2150.8 384.3L2198.4 402.1L2164.5 381.2L2132.6 360.6L2103.4 340.9L2074.9 320.8L2052.8 304.4L2034.6 289.7L2018 275.1L2003.3 260.6L1990.3 246.1L1983.9 238.1L1978 230.2L1968.5 215.5L1964 207.4L1959.9 199.3L1956.3 191.3L1953.2 183.2L1950.5 175.2L1948.2 167.3L1946.3 159.5L1944.6 150.9L1943.4 141.9L1942.5 133.5L1938.1 162.9L1933.7 189.2L1929.2 212.6L1924.3 234.7L1918.7 257.4L1913 277.3Z"/>
<path fill="#9aff65" d="M1906.7 296.9L1900.3 314.4L1909.2 313.6L1919.9 313.6L1930.5 314.3L1942.5 315.8L1953.8 317.7L1966.1 320.3L1979.5 323.5L1994.4 327.5L2028.3 337.7L2072.3 352.4L2134.4 374.3L2182 392.1L2151.9 373.2L2121.1 352.9L2092.9 333.6L2065.4 313.9L2046 299L2028.3 284.4L2012.5 269.8L1999.6 256.7L1987 242.1L1976.2 227.5L1966.9 212.8L1959.3 198L1955.8 189.9L1952.7 181.9L1950.1 173.9L1947.8 166L1946 158.3L1944.4 149.7L1942.5 133.5L1938.1 162.9L1933.7 189.2L1929.2 212.6L1924.3 234.7L1918.7 257.4L1913 277.3Z"/>
<path fill="#a5ff5a" d="M1908.6 291.4L1901.9 310.2L1912 309.4L1922.9 309.5L1934.6 310.5L1948.2 312.4L1969.9 316.8L1995.4 323.5L2026 332.8L2066.4 346.2L2121 365.5L2166.5 382.4L2137.3 363.7L2109.9 345.4L2082.7 326.4L2058.2 308.4L2039.4 293.6L2023.8 280.4L2009.8 267.2L1997.2 254L1986 240.8L1975.3 226.2L1966.2 211.4L1958.7 196.7L1952.7 181.9L1950.1 173.9L1947.8 166L1946 158.3L1944.4 149.7L1942.5 133.5L1938.4 161L1934.1 186.8L1929.7 209.9L1925 231.9L1920.2 251.7L1914.7 271.7Z"/>
<path fill="#afff50" d="M1909.5 288.6L1903.5 306L1913.5 305.3L1924.5 305.4L1933.1 306.1L1942.9 307.3L1952.7 309L1964.6 311.4L1989.6 317.6L2019.8 326.6L2055.9 338.5L2108.1 356.9L2151.7 373L2123.3 354.5L2097 336.5L2071.1 318L2051.1 303L2034.6 289.7L2019.5 276.4L2005.9 263.3L1993.7 250.1L1982.9 236.8L1972.6 222.2L1964.7 208.8L1957.5 194L1951.8 179.2L1947.5 164.7L1944.4 149.7L1942.5 133.5L1938.4 161L1934.5 184.4L1930.3 207.2L1925.6 229.1L1920.9 248.9L1915.5 268.8Z"/>
<path fill="#baff45" d="M1911.3 283L1905 301.8L1914.3 301.1L1924.6 301.3L1935.3 302.1L1947.4 303.8L1967.2 307.8L1990.5 313.7L2019 322.2L2052.8 333.3L2099.1 349.6L2137.7 363.9L2112.1 346.9L2086.7 329.3L2063.6 312.5L2046 299L2029.9 285.7L2015.2 272.5L2002 259.3L1991.4 247.4L1980.9 234.2L1971.8 220.8L1964 207.4L1956.9 192.6L1951.3 177.9L1947.2 163.4L1944.3 148.5L1942.5 133.5L1938.4 161L1934.5 184.4L1930.3 207.2L1926.2 226.3L1921.6 246L1916.3 266Z"/>
<path fill="#c5ff3a" d="M1912.1 280.1L1906.4 297.7L1914.5 297.1L1923 297.1L1932.3 297.7L1942.3 298.8L1961.9 302.4L1985 308L2011.7 315.7L2043.2 326L2087.1 341.3L2124.3 355.1L2099.1 338L2074.9 320.8L2056.4 307.1L2039.4 293.6L2023.8 280.4L2011.1 268.5L1999.6 256.7L1989.2 244.8L1979 231.5L1970.1 218.1L1962.6 204.7L1956.3 191.3L1951.3 177.9L1947.2 163.4L1944.3 148.5L1942.5 133.5L1938.7 159.2L1934.9 182L1930.8 204.5L1926.9 223.5L1922.3 243.2L1917.1 263.1Z"/>
<path fill="#cfff30" d="M1913.9 274.5L1907.8 293.6L1915 293L1923.3 293L1932.3 293.5L1941.4 294.5L1951.6 296.2L1962.4 298.3L1986.2 304.1L2011 311.3L2041.2 321.2L2078.7 334.3L2111.5 346.5L2088.8 330.7L2067.3 315.3L2049.4 301.7L2034.6 289.7L2019.5 276.4L2007.2 264.6L1996 252.7L1986 240.8L1977.1 228.8L1968.5 215.5L1961.9 203.4L1955.8 189.9L1950.9 176.5L1946.9 162.1L1944.3 148.5L1942.5 133.5L1935.3 179.7L1931.3 201.9L1927.5 220.8L1923 240.4L1918.7 257.4Z"/>
<path fill="#daff25" d="M1913.9 274.5L1909.2 289.5L1916.1 288.9L1924.1 288.9L1932.6 289.4L1941.9 290.4L1959.3 293.4L1980.1 298.3L2004.2 305.1L2032.5 314.2L2067.6 326.4L2099.3 338.1L2076.8 322.2L2058.2 308.4L2042.6 296.3L2028.3 284.4L2015.2 272.5L2003.3 260.6L1993.7 250.1L1983.9 238.1L1975.3 226.2L1967.7 214.1L1961.2 202L1955.2 188.6L1950.5 175.2L1946.9 162.1L1944.3 148.5L1942.5 133.5L1935.3 179.7L1931.3 201.9L1927.5 220.8L1923 240.4L1918.7 257.4Z"/>
<path fill="#e4ff1b" d="M1915.5 268.8L1910.5 285.4L1917.4 284.8L1924.6 284.8L1933 285.3L1941.7 286.3L1960.5 289.5L1982.3 294.8L2004.8 301.2L2030.4 309.4L2060 319.7L2087.7 330L2067.3 315.3L2051.1 303L2036.1 291L2023.8 280.4L2011.1 268.5L1999.6 256.7L1990.3 246.1L1980.9 234.2L1972.6 222.2L1965.4 210.1L1959.3 198L1954.2 185.9L1950.1 173.9L1946.6 160.8L1944.1 147.3L1942.5 133.5L1935.7 177.4L1928.6 215.3L1924.3 234.7L1920.2 251.7Z"/>
<path fill="#efff10" d="M1916.3 266L1911.8 281.3L1918.1 280.8L1925.8 280.8L1934.2 281.3L1943.4 282.4L1959 285.1L1976.7 289.2L1998.3 295.1L2021.1 302.3L2048.5 311.7L2076.6 322L2060 309.8L2044.3 297.6L2029.9 285.7L2018 275.1L2005.9 263.3L1996 252.7L1987 242.1L1978 230.2L1970.9 219.5L1964 207.4L1958.1 195.3L1953.2 183.2L1949.3 171.2L1946.3 159.5L1943.9 146.2L1942.5 133.5L1935.7 177.4L1928.6 215.3L1925 231.9L1920.9 248.9Z"/>
<path fill="#faff05" d="M1917.9 260.3L1913 277.2L1919.3 276.8L1926 276.7L1933.6 277.2L1941.1 278L1958.9 280.9L1978.8 285.6L1997.6 290.9L2018.6 297.4L2043.5 306L2066 314.3L2049.4 301.7L2036.1 291L2023.8 280.4L2012.5 269.8L2002 259.3L1992.5 248.7L1983.9 238.1L1976.2 227.5L1969.3 216.8L1962.6 204.7L1957.5 194L1952.7 181.9L1948.9 169.9L1946 158.3L1943.9 146.2L1942.5 133.5L1936.1 175.2L1929.7 209.9L1922.3 243.2Z"/>
<path fill="#fffa00" d="M1922.3 243.2L1914.2 273.2L1920.5 272.7L1928.1 272.8L1936.2 273.3L1944.8 274.4L1958.1 276.7L1973.4 280.1L1991.4 285L2012 291.3L2035.1 299.1L2056 306.8L2042.6 296.3L2029.9 285.7L2018 275.1L2007.2 264.6L1997.2 254L1989.2 244.8L1980.9 234.2L1973.5 223.5L1966.9 212.8L1961.2 202L1956.3 191.3L1952.2 180.5L1948.5 168.6L1945.8 157L1943.8 145.1L1942.5 133.5L1936.1 175.2L1929.7 209.9Z"/>
<path fill="#ffef00" d="M1923 240.4L1915.4 269.2L1921.1 268.7L1928.1 268.7L1939.7 269.6L1953.4 271.7L1968.4 274.8L1985.5 279.2L2004.7 284.9L2025.3 291.8L2046.7 299.5L2034.6 289.7L2022.4 279.1L2011.1 268.5L2002 259.3L1993.7 250.1L1984.9 239.5L1978 230.2L1970.9 219.5L1965.4 210.1L1959.9 199.3L1955.2 188.6L1951.3 177.9L1948.2 167.3L1945.5 155.7L1943.8 145.1L1942.5 133.5L1936.5 173L1930.3 207.2Z"/>
<path fill="#ffe400" d="M1924.3 234.7L1916.5 265.1L1921.8 264.7L1927.6 264.7L1940.7 265.7L1955.3 267.9L1971.5 271.5L1987.5 275.7L2003.9 280.7L2021.7 286.6L2038.1 292.6L2026.8 283L2016.6 273.8L2007.2 264.6L1998.4 255.3L1990.3 246.1L1982.9 236.8L1976.2 227.5L1969.3 216.8L1964 207.4L1958.7 196.7L1954.7 187.2L1950.9 176.5L1947.8 166L1945.5 155.7L1943.8 145.1L1942.5 133.5L1936.8 170.9L1930.8 204.5Z"/>
<path fill="#ffda00" d="M1925 231.9L1917.7 261.1L1922.9 260.8L1928.6 260.7L1941.6 261.7L1953.2 263.5L1965.5 266L1980.1 269.6L1996.1 274.3L2013.7 280L2030.1 285.9L2020.9 277.7L2011.1 268.5L2002 259.3L1993.7 250.1L1986 240.8L1979 231.5L1972.6 222.2L1966.9 212.8L1961.9 203.4L1957.5 194L1953.7 184.6L1950.1 173.9L1947.5 164.7L1945.3 154.5L1943.6 144L1942.5 133.5L1936.8 170.9L1931.3 201.9Z"/>
<path fill="#ffcf00" d="M1925.6 229.1L1918.7 257.1L1928.9 256.7L1940.6 257.6L1954.1 259.6L1969.2 262.8L1981.8 266.1L1995.4 270L2009.2 274.5L2022.7 279.4L2013.9 271.2L2004.6 261.9L1996 252.7L1989.2 244.8L1982.9 236.8L1976.2 227.5L1970.9 219.5L1965.4 210.1L1960.6 200.7L1956.3 191.3L1952.7 181.9L1949.7 172.6L1947.2 163.4L1945.1 153.3L1943.6 144L1942.5 133.5L1937.2 168.8L1931.8 199.3Z"/>
<path fill="#ffc500" d="M1926.2 226.3L1919.8 253.2L1928.4 252.8L1939 253.4L1951.2 255L1963.9 257.5L1976.4 260.6L1989.8 264.4L2003.6 268.8L2015.9 273.1L2007.2 264.6L1999.6 256.7L1992.5 248.7L1984.9 239.5L1979 231.5L1973.5 223.5L1968.5 215.5L1963.3 206.1L1959.3 198L1955.2 188.6L1952.2 180.5L1949.3 171.2L1946.9 162.1L1945.1 153.3L1943.6 144L1942.5 133.5L1937.5 166.8L1932.3 196.7Z"/>
<path fill="#ffba00" d="M1926.9 223.5L1920.8 249.2L1929.3 248.8L1938.9 249.3L1948.5 250.5L1959.6 252.6L1971.5 255.3L1984.1 258.7L1997.1 262.7L2009.7 267.1L2002 259.3L1994.8 251.4L1988.1 243.4L1981.9 235.5L1976.2 227.5L1970.9 219.5L1966.2 211.4L1961.9 203.4L1958.1 195.3L1954.7 187.2L1951.8 179.2L1948.9 169.9L1946.6 160.8L1944.9 152.1L1943.5 143L1942.5 133.5L1937.5 166.8L1932.3 196.7Z"/>
<path fill="#ffaf00" d="M1927.5 220.8L1921.8 245.2L1930.3 244.9L1940.4 245.5L1951 246.9L1963.3 249.3L1974 251.9L1984.4 254.8L2003.9 261.3L1990.3 246.1L1979 231.5L1969.3 216.8L1964.7 208.8L1960.6 200.7L1956.9 192.6L1953.7 184.6L1950.9 176.5L1948.5 168.6L1946.3 159.5L1944.6 150.9L1943.4 141.9L1942.5 133.5L1937.5 166.8L1932.8 194.2Z"/>
<path fill="#ffa500" d="M1928 218L1922.8 241.3L1930 240.9L1938.5 241.3L1947.6 242.4L1958.2 244.2L1968.5 246.5L1979.1 249.3L1989.2 252.4L1998.6 255.6L1986 240.8L1975.3 226.2L1966.2 211.4L1958.7 196.7L1952.7 181.9L1950.1 173.9L1947.8 166L1946 158.3L1944.4 149.7L1942.5 133.5L1937.8 164.8L1933.2 191.7Z"/>
<path fill="#ff9a00" d="M1929.2 212.6L1923.7 237.3L1930.1 237L1937.4 237.3L1945.5 238.1L1954.3 239.5L1963.7 241.4L1974.1 244L1984.2 246.9L1993.7 250.1L1982.9 236.8L1972.6 222.2L1964.7 208.8L1957.5 194L1951.8 179.2L1947.5 164.7L1944.4 149.7L1942.5 133.5L1938.1 162.9L1933.7 189.2Z"/>
<path fill="#ff8f00" d="M1929.7 209.9L1924.6 233.4L1931.4 233.1L1939.5 233.5L1948.3 234.5L1957.8 236.2L1974 240L1989.2 244.7L1979 231.5L1970.1 218.1L1962.6 204.7L1956.3 191.3L1951.3 177.9L1947.2 163.4L1944.3 148.5L1942.5 133.5L1938.4 161L1934.1 186.8Z"/>
<path fill="#ff8500" d="M1930.3 207.2L1925.5 229.5L1932 229.2L1939.7 229.5L1953.2 231.3L1970 235L1985 239.5L1976.2 227.5L1967.7 214.1L1961.2 202L1955.2 188.6L1950.5 175.2L1946.9 162.1L1944.3 148.5L1942.5 133.5L1938.4 161L1934.5 184.4Z"/>
<path fill="#ff7a00" d="M1930.8 204.5L1926.4 225.6L1931.3 225.3L1937.4 225.4L1950.6 226.9L1966.6 230.2L1981.1 234.4L1972.6 222.2L1965.4 210.1L1959.3 198L1954.2 185.9L1950.1 173.9L1946.6 160.8L1944.1 147.3L1942.5 133.5L1938.7 159.2L1934.9 182Z"/>
<path fill="#ff7000" d="M1931.3 201.9L1927.3 221.7L1932.6 221.4L1938.8 221.6L1945.6 222.2L1952.9 223.3L1966.2 226.1L1977.5 229.4L1970.1 218.1L1963.3 206.1L1958.1 195.3L1953.2 183.2L1949.3 171.2L1946.3 159.5L1943.9 146.2L1942.5 133.5L1935.3 179.7Z"/>
<path fill="#ff6500" d="M1935.7 177.4L1928.1 217.8L1937.3 217.6L1948.9 218.7L1962.2 221.2L1974.2 224.6L1967.7 214.1L1961.9 203.4L1956.9 192.6L1952.2 180.5L1948.5 168.6L1945.8 157L1943.8 145.1L1942.5 133.5Z"/>
<path fill="#ff5a00" d="M1936.1 175.2L1928.9 213.9L1937.5 213.7L1948.2 214.7L1960.2 216.9L1971.1 219.8L1965.4 210.1L1959.9 199.3L1955.2 188.6L1951.3 177.9L1948.2 167.3L1945.5 155.7L1943.8 145.1L1942.5 133.5Z"/>
<path fill="#ff5000" d="M1929.7 209.9L1938.8 209.8L1948.1 210.7L1959 212.7L1968.3 215.1L1962.6 204.7L1958.1 195.3L1954.2 185.9L1950.5 175.2L1947.5 164.7L1945.3 154.5L1943.6 144L1942.5 133.5L1936.1 175.2Z"/>
<path fill="#ff4500" d="M1936.8 170.9L1930.5 206.1L1938 205.9L1946.7 206.6L1957.1 208.3L1965.6 210.5L1961.2 202L1956.9 192.6L1953.2 183.2L1950.1 173.9L1947.5 164.7L1945.3 154.5L1943.6 144L1942.5 133.5Z"/>
<path fill="#ff3a00" d="M1936.8 170.9L1931.2 202.2L1938.7 202.1L1947.4 202.8L1956.1 204.2L1963.2 205.9L1958.7 196.7L1955.2 188.6L1952.2 180.5L1949.3 171.2L1946.9 162.1L1945.1 153.3L1943.6 144L1942.5 133.5Z"/>
<path fill="#ff3000" d="M1937.5 166.8L1932 198.4L1938 198.2L1945.5 198.7L1953.7 199.8L1960.9 201.5L1957.5 194L1954.2 185.9L1951.3 177.9L1948.5 168.6L1946.3 159.5L1944.6 150.9L1943.4 141.9L1942.5 133.5Z"/>
<path fill="#ff2500" d="M1937.5 166.8L1932.7 194.5L1938.7 194.3L1946.2 194.8L1953.3 195.9L1958.9 197.1L1955.8 189.9L1952.7 181.9L1950.1 173.9L1947.8 166L1946 158.3L1944.4 149.7L1942.5 133.5Z"/>
<path fill="#ff1b00" d="M1938.1 162.9L1933.4 190.7L1938.6 190.5L1944.5 190.8L1951.3 191.6L1957 192.8L1951.3 177.9L1947.2 163.4L1944.3 148.5L1942.5 133.5Z"/>
<path fill="#ff1000" d="M1934.1 186.8L1939.2 186.6L1944.5 186.9L1950.4 187.6L1955.2 188.5L1950.5 175.2L1946.9 162.1L1944.3 148.5L1942.5 133.5L1938.4 161Z"/>
<path fill="#ff0500" d="M1938.7 159.2L1934.8 183L1943.6 183L1953.6 184.3L1949.7 172.6L1946.3 159.5L1943.9 146.2L1942.5 133.5Z"/>
<path fill="#fa0000" d="M1942.5 133.5L1935.4 179.2L1943.2 179.1L1952.1 180.1L1948.5 168.6L1945.8 157L1943.8 145.1Z"/>
<path fill="#ef0000" d="M1936.1 175.2L1943.8 175.3L1950.7 176L1947.8 166L1945.5 155.7L1943.8 145.1L1942.5 133.5Z"/>
<path fill="#e40000" d="M1942.5 133.5L1936.7 171.5L1942.6 171.4L1949.5 172L1946.9 162.1L1945.1 153.3L1943.6 144Z"/>
<path fill="#da0000" d="M1942.5 133.5L1937.4 167.7L1942.4 167.5L1948.4 168L1946.3 159.5L1944.6 150.9L1943.4 141.9Z"/>
<path fill="#cf0000" d="M1942.5 133.5L1938 163.9L1942.2 163.7L1947.3 164L1944.3 148.5Z"/>
<path fill="#c50000" d="M1942.5 133.5L1938.6 160.1L1946.4 160.1L1944.1 147.3Z"/>
<path fill="#ba0000" d="M1942.5 133.5L1939.2 156.3L1945.6 156.2L1943.8 145.1Z"/>
<path fill="#af0000" d="M1939.7 152.5L1944.9 152.3L1943.5 143L1942.5 133.5Z"/>
<path fill="#a50000" d="M1942.5 133.5L1940.3 148.7L1944.3 148.5Z"/>
<path fill="#9a0000" d="M1942.5 133.5L1940.9 144.9L1943.7 144.7Z"/>
<path fill="#8f0000" d="M1942.5 133.5L1941.4 141.1L1943.2 141Z"/>
<path fill="#850000" d="M1942.5 133.5L1942 137.3L1942.9 137.2Z"/>
</g>

<path d="M1890.1 338.6L1892.3 346.3L1894.8 353.4L1898.2 361.5L1901.8 368.7L1905.9 376L1909.8 381.9L1915.1 389.3L1919.9 395.2L1926.4 402.5L1932.1 408.3L1938.1 414L1946.3 421.2L1953.4 426.8L1962.7 433.9L1970.7 439.5L1981.2 446.4L1999.3 457.5L2021.7 470.2L2069.8 496.1L2125.3 525.6L2184.3 556.5L2245.6 588.3L2401 667.7" transform="translate(-0.6,1.4)" fill="none" stroke="#1a1ab0" stroke-width="1.6"/>
<path d="M1890.1 338.6L1892.3 346.3L1894.8 353.4L1898.2 361.5L1901.8 368.7L1905.9 376L1909.8 381.9L1915.1 389.3L1919.9 395.2L1926.4 402.5L1932.1 408.3L1938.1 414L1946.3 421.2L1953.4 426.8L1962.7 433.9L1970.7 439.5L1981.2 446.4L1999.3 457.5L2021.7 470.2L2069.8 496.1L2125.3 525.6L2184.3 556.5L2245.6 588.3L2401 667.7" fill="none" stroke="#ff0000" stroke-width="2.6" stroke-linecap="butt"/>
<path d="M1937.2 880.2L1967.9 867.5L2002.4 853.6L2040.4 838.7L2164 791.1L2201.6 776.2L2236.5 761.8L2278 743.8L2298.5 734.5L2317.8 725.4L2330.8 719L2340.7 713.7L2350.2 708.2L2359.2 702.5L2370 695.1L2378.1 688.9L2387.7 680.8L2396.6 672.3L2404.9 663.5L2412.5 654.4L2419.5 645.1L2427 633.7L2432.6 624L2438.3 612.2L2442.5 602.2L2446.5 590.2L2449.2 580.2L2451.5 568.1L2452.8 558.1L2453.4 546.7" fill="none" stroke="#ff0000" stroke-width="3.3" stroke-linejoin="round"/>
<path d="M1416 268L1416 679.5L1937.2 884.8L2459 680" fill="none" stroke="#111" stroke-width="1.4" stroke-linejoin="miter"/>
<path d="M1416 679.5L1403.4 674.6M1416 610.9L1403.4 606M1416 542.3L1403.4 537.4M1416 473.8L1403.4 468.8M1416 405.2L1403.4 400.2M1416 336.6L1403.4 331.6M1416 268L1403.4 263.1M1520.2 720.6L1507.7 725.5M1624.5 761.6L1611.9 766.6M1728.7 802.7L1716.2 807.6M1833 843.7L1820.4 848.7M1937.2 884.8L1924.6 889.7M1937.2 884.8L1949.8 889.7M2053.2 839.3L2065.7 844.2M2169.1 793.8L2181.7 798.7M2285.1 748.3L2297.6 753.2M2401 702.8L2413.6 707.7M1416 679.5L1403.4 684.4" fill="none" stroke="#111" stroke-width="1.4"/>
<text x="1393.1" y="679.8" text-anchor="end" font-family="Liberation Sans, Arial, sans-serif" font-size="22.8">0</text>
<text x="1393.1" y="611.2" text-anchor="end" font-family="Liberation Sans, Arial, sans-serif" font-size="22.8">200</text>
<text x="1393.1" y="542.6" text-anchor="end" font-family="Liberation Sans, Arial, sans-serif" font-size="22.8">400</text>
<text x="1393.1" y="474.1" text-anchor="end" font-family="Liberation Sans, Arial, sans-serif" font-size="22.8">600</text>
<text x="1393.1" y="405.5" text-anchor="end" font-family="Liberation Sans, Arial, sans-serif" font-size="22.8">800</text>
<text x="1393.1" y="336.9" text-anchor="end" font-family="Liberation Sans, Arial, sans-serif" font-size="22.8">1000</text>
<text x="1393.1" y="268.3" text-anchor="end" font-family="Liberation Sans, Arial, sans-serif" font-size="22.8">1200</text>
<text x="1394.4" y="708.4" text-anchor="end" font-family="Liberation Sans, Arial, sans-serif" font-size="22.8">0</text>
<text x="1498.6" y="749.5" text-anchor="end" font-family="Liberation Sans, Arial, sans-serif" font-size="22.8">0.2</text>
<text x="1602.9" y="790.5" text-anchor="end" font-family="Liberation Sans, Arial, sans-serif" font-size="22.8">0.4</text>
<text x="1707.1" y="831.6" text-anchor="end" font-family="Liberation Sans, Arial, sans-serif" font-size="22.8">0.6</text>
<text x="1811.4" y="872.6" text-anchor="end" font-family="Liberation Sans, Arial, sans-serif" font-size="22.8">0.8</text>
<text x="1915.6" y="913.7" text-anchor="end" font-family="Liberation Sans, Arial, sans-serif" font-size="22.8">1</text>
<text x="1956.5" y="913.9" font-family="Liberation Sans, Arial, sans-serif" font-size="22.8">0.1</text>
<text x="2072.5" y="868.4" font-family="Liberation Sans, Arial, sans-serif" font-size="22.8">0.08</text>
<text x="2188.4" y="822.9" font-family="Liberation Sans, Arial, sans-serif" font-size="22.8">0.06</text>
<text x="2304.4" y="777.4" font-family="Liberation Sans, Arial, sans-serif" font-size="22.8">0.04</text>
<text x="2420.3" y="731.9" font-family="Liberation Sans, Arial, sans-serif" font-size="22.8">0.02</text>
<text x="1291.2" y="45.8" font-family="Liberation Sans, Arial, sans-serif" font-weight="bold" font-size="55">B</text>
<text x="1840.4" y="39.7" font-family="Liberation Serif, Times New Roman, serif" font-size="46" font-style="italic" textLength="21.2" lengthAdjust="spacingAndGlyphs">k</text><text x="1879.2" y="42" font-family="Liberation Serif, Times New Roman, serif" font-size="46" textLength="28" lengthAdjust="spacingAndGlyphs">=</text><text x="1924.5" y="39.7" font-family="Liberation Serif, Times New Roman, serif" font-size="46" textLength="101.3" lengthAdjust="spacingAndGlyphs">0.015</text>
<text x="1361.7" y="142.5" font-family="Liberation Serif, Times New Roman, serif" font-size="30.5" font-style="italic">L</text><text x="1378" y="149.3" font-family="Liberation Serif, Times New Roman, serif" font-size="25" font-style="italic" textLength="47.7" lengthAdjust="spacingAndGlyphs">max</text>
<text x="1519.3" y="859.8" font-family="Liberation Serif, Times New Roman, serif" font-size="31.5" font-style="italic" text-anchor="middle">β</text><path d="M1493.5 874.8H1545.1" stroke="#111" stroke-width="2.3"/><text x="1495.5" y="905.3" font-family="Liberation Serif, Times New Roman, serif" font-size="31.5" font-style="italic" textLength="47.6" lengthAdjust="spacingAndGlyphs">αC<tspan font-size="22" dy="6.4">0</tspan></text>
<text x="2299.8" y="864.4" font-family="Liberation Serif, Times New Roman, serif" font-size="31.5" font-style="italic" text-anchor="middle">τ</text><path d="M2278.8 879.4H2320.8" stroke="#111" stroke-width="2.3"/><text x="2279.3" y="909.9" font-family="Liberation Serif, Times New Roman, serif" font-size="31.5" font-style="italic" textLength="38" lengthAdjust="spacingAndGlyphs">V<tspan font-size="23" dy="5.9">at</tspan></text>
<path d="M2356.7 413.6L2399.2 651.9" stroke="#111" stroke-width="1.5" fill="none"/>
<path d="M2401.2 663.2L2391.9 646.6L2399.2 651.9L2404.1 644.4Z" fill="#111"/>
<rect x="2226.2" y="322.3" width="264.2" height="90.6" fill="#fff" stroke="#222" stroke-width="1.3"/>
<text x="2264.4" y="357.2" font-family="Liberation Serif, Times New Roman, serif" font-size="34" textLength="185.5" lengthAdjust="spacingAndGlyphs">(0.99; 0.018)</text>
<text x="2239.8" y="397.8" font-family="Liberation Serif, Times New Roman, serif" font-size="34" font-style="italic">L</text>
<text x="2255.4" y="403.8" font-family="Liberation Serif, Times New Roman, serif" font-size="31" font-style="italic" textLength="53.8" lengthAdjust="spacingAndGlyphs">max</text>
<text x="2322.7" y="401.4" font-family="Liberation Serif, Times New Roman, serif" font-size="34" textLength="23.5" lengthAdjust="spacingAndGlyphs">=</text>
<text x="2359.2" y="397.8" font-family="Liberation Serif, Times New Roman, serif" font-size="34" textLength="61" lengthAdjust="spacingAndGlyphs">94,4</text>
<text x="2429.4" y="397.8" font-family="Liberation Serif, Times New Roman, serif" font-size="34" font-style="italic" textLength="45.2" lengthAdjust="spacingAndGlyphs">μm</text>
<path d="M866.4 1646.6L866.4 1234.6M982.4 1601.1L982.4 1189.1M1098.3 1555.6L1098.3 1143.6M1214.3 1510.1L1214.3 1098.1M1272.3 1487.3L1272.3 1075.3M1376.5 1528.4L1376.5 1116.4M1480.7 1569.5L1480.7 1157.5M1584.8 1610.7L1584.8 1198.7M1689 1651.8L1689 1239.8M1793.2 1692.9L1793.2 1280.9M750.4 1692.1L1272.3 1487.3M1272.3 1487.3L1793.2 1692.9M750.4 1623.4L1272.3 1418.6M1272.3 1418.6L1793.2 1624.2M750.4 1554.8L1272.3 1350M1272.3 1350L1793.2 1555.6M750.4 1486.1L1272.3 1281.3M1272.3 1281.3L1793.2 1486.9M750.4 1417.4L1272.3 1212.6M1272.3 1212.6L1793.2 1418.2M750.4 1348.8L1272.3 1144M1272.3 1144L1793.2 1349.6M750.4 1280.1L1272.3 1075.3M1272.3 1075.3L1793.2 1280.9M854.6 1733.2L1376.5 1528.4M958.8 1774.3L1480.7 1569.5M1062.9 1815.5L1584.8 1610.7M1167.1 1856.6L1689 1651.8M866.4 1646.6L1387.3 1852.2M982.4 1601.1L1503.3 1806.7M1098.3 1555.6L1619.2 1761.2M1214.3 1510.1L1735.2 1715.7" fill="none" stroke="#000" stroke-opacity="0.95" stroke-width="1.55" stroke-dasharray="2.8 6.8"/>
<path d="M839.7 1627L892.9 1601L958.9 1569.3L980.4 1558.4L998.1 1548.7L1012.5 1540.4L1029.2 1529.9L1045.3 1519.1L1063.3 1506.3L1078.1 1495.3L1097 1480.5L1117 1464.1L1133.8 1449.8L1140.4 1447.5L1150.6 1446.6L1159.6 1446.2L1174.4 1446.1L1190.2 1446.8L1205.3 1448.2L1221.4 1450.4L1237 1453.2L1255.2 1457.2L1274.4 1462.1L1293 1467.3L1329.2 1478.7L1480.2 1528.1L1544 1549L1610.3 1571.2L1678.5 1594.6L1732.6 1616L1787.7 1594.3L1271.8 1395.2L761.1 1595.9Z" fill="#00c8c8" fill-opacity="0.7"/>
<g opacity="0.70">
<path fill="#000085" d="M761.1 1665.3L771.7 1672.3L782.5 1679L805.5 1692L830.9 1704.9L859.4 1718L895.2 1733.3L1141 1835.3L1271.3 1890.4L1481.5 1807.9L1484.5 1806.5L1508.4 1794.4L1528.3 1783.7L1547.5 1773L1565.9 1762.3L1583.5 1751.5L1602.6 1739.2L1620.7 1726.8L1635.7 1715.9L1649.9 1704.8L1663.4 1693.6L1676.1 1682.2L1688.1 1670.6L1700.9 1657L1711.3 1644.8L1721 1632.3L1731.2 1617.8L1732.4 1616.5L1734.8 1615.4L1735.9 1614L1765.2 1569.6L1771.9 1558.3L1776.9 1548.7L1781.6 1537.6L1784.8 1526.8L1786.9 1515.7L1787.6 1504.4L1759.9 1490.7L1729.2 1476.2L1592.2 1413L1562.1 1398.6L1533.6 1384.3L1496.5 1364.7L1464.9 1346.7L1433.8 1327.5L1405.8 1308.6L1391.1 1298.1L1375.7 1286.4L1363.1 1276.3L1351.4 1266.4L1340.6 1256.5L1330.8 1246.8L1322.9 1238.2L1314.7 1228.5L1307.4 1218.8L1301 1209.1L1295.4 1199.5L1290.1 1188.8L1285.7 1178.3L1282.4 1168.4L1279.5 1157.5L1277.4 1146.4L1274.6 1166.4L1271 1186.4L1266.6 1205.8L1261.1 1227.1L1254.3 1250.1L1246.1 1274.8L1236.6 1301L1228 1322.6L1221 1338.4L1214.7 1351.1L1208.1 1363.2L1199.6 1376.7L1190.7 1389.5L1181.2 1401.6L1171.1 1413.3L1158.7 1426.4L1143.6 1440.9L1127.5 1455.2L1106 1473.2L1082.9 1491.6L1063.3 1506.3L1045.3 1519.1L1029.2 1529.9L1012.5 1540.4L989.3 1553.6L962 1567.8L886 1604.3L797 1648Z"/>
<path fill="#00008f" d="M761.1 1665.3L781.1 1678.1L803.4 1690.9L826.9 1703L854.6 1715.9L893.3 1732.5L1144.9 1836.9L1150 1835.7L1158.7 1832.8L1191.3 1820.8L1255.5 1796.2L1359.2 1756.1L1387.5 1763.5L1401 1766.7L1420.1 1770.6L1446 1775.3L1455.3 1777.5L1486.1 1785L1512.7 1792.1L1542.1 1776.1L1568.4 1760.8L1595.5 1743.8L1618.5 1728.3L1639.8 1712.7L1659.6 1696.9L1677.9 1680.6L1693 1665.6L1703.9 1653.6L1712.7 1643.1L1722.3 1630.5L1731.2 1617.8L1732.4 1616.5L1734.8 1615.4L1735.9 1614L1761.4 1575.6L1769.4 1562.7L1774.2 1554L1777.8 1546.6L1780.8 1539.5L1783.2 1532.6L1785.1 1525.9L1786.5 1518.4L1787.3 1511.3L1787.6 1504.4L1759.9 1490.7L1729.2 1476.2L1592.2 1413L1562.1 1398.6L1533.6 1384.3L1496.5 1364.7L1464.9 1346.7L1433.8 1327.5L1405.8 1308.6L1391.1 1298.1L1375.7 1286.4L1363.1 1276.3L1351.4 1266.4L1340.6 1256.5L1330.8 1246.8L1322.9 1238.2L1314.7 1228.5L1307.4 1218.8L1301 1209.1L1295.4 1199.5L1290.1 1188.8L1285.7 1178.3L1282.4 1168.4L1279.5 1157.5L1277.4 1146.4L1274.6 1166.4L1271 1186.4L1266.6 1205.8L1261.1 1227.1L1254.3 1250.1L1246.1 1274.8L1236.6 1301L1228 1322.6L1221 1338.4L1214.7 1351.1L1208.1 1363.2L1199.6 1376.7L1190.7 1389.5L1181.2 1401.6L1171.1 1413.3L1158.7 1426.4L1143.6 1440.9L1127.5 1455.2L1106 1473.2L1082.9 1491.6L1063.3 1506.3L1045.3 1519.1L1029.2 1529.9L1012.5 1540.4L989.3 1553.6L962 1567.8L886 1604.3L797 1648Z"/>
<path fill="#00009a" d="M761.1 1665.3L780.4 1677.7L801.4 1689.8L824.3 1701.7L849.8 1713.7L887.6 1730.1L975.9 1766.7L991.6 1769.7L1001.2 1770.3L1008.9 1770.2L1015.8 1769.7L1027.1 1768.5L1039.3 1766.5L1049.8 1764.5L1073.9 1758.8L1104.8 1750.4L1141.3 1739.2L1175.1 1728L1240.4 1705.6L1266.5 1714.6L1289.8 1722.2L1309.5 1728.1L1327.9 1733L1351.6 1738.5L1379.8 1744.2L1407.9 1749.1L1475 1760.3L1507.8 1770L1536.6 1779.2L1560.7 1765.4L1585.9 1750L1609.5 1734.5L1631.5 1719L1649.9 1704.8L1667.1 1690.4L1683.1 1675.6L1697.8 1660.4L1706.9 1650.1L1715.5 1639.5L1723.6 1628.7L1731.2 1617.8L1732.4 1616.5L1734.8 1615.4L1735.9 1614L1762.2 1574.3L1770.7 1560.5L1774.8 1552.9L1778.3 1545.6L1781.2 1538.5L1783.5 1531.7L1785.3 1524.9L1786.5 1518.4L1787.3 1511.3L1787.6 1504.4L1759.9 1490.7L1729.2 1476.2L1592.2 1413L1562.1 1398.6L1533.6 1384.3L1496.5 1364.7L1464.9 1346.7L1433.8 1327.5L1405.8 1308.6L1391.1 1298.1L1375.7 1286.4L1363.1 1276.3L1351.4 1266.4L1340.6 1256.5L1330.8 1246.8L1322.9 1238.2L1314.7 1228.5L1307.4 1218.8L1301 1209.1L1295.4 1199.5L1290.1 1188.8L1285.7 1178.3L1282.4 1168.4L1279.5 1157.5L1277.4 1146.4L1274.6 1166.4L1271 1186.4L1266.6 1205.8L1261.1 1227.1L1254.3 1250.1L1246.1 1274.8L1236.6 1301L1228 1322.6L1221 1338.4L1214.7 1351.1L1208.1 1363.2L1199.6 1376.7L1190.7 1389.5L1181.2 1401.6L1171.1 1413.3L1158.7 1426.4L1143.6 1440.9L1127.5 1455.2L1106 1473.2L1082.9 1491.6L1063.3 1506.3L1045.3 1519.1L1029.2 1529.9L1012.5 1540.4L989.3 1553.6L962 1567.8L886 1604.3L797 1648Z"/>
<path fill="#0000a5" d="M761.1 1665.3L774.3 1673.9L788.6 1682.6L804.5 1691.5L820.5 1699.8L844.4 1711.2L853.1 1711.5L907.6 1711L950.9 1709.8L978.6 1707.9L1005.7 1704.8L1021.4 1702.4L1036.2 1699.8L1068.1 1693L1097.1 1685.8L1157.5 1669.4L1208.7 1687.4L1235.4 1696.1L1244.6 1699L1261.5 1703.8L1282.8 1709.3L1310.6 1715.6L1348.9 1723L1381.5 1728.6L1469.6 1742.7L1498.1 1747.8L1531.6 1758.8L1556.5 1767.8L1581 1753.1L1602.6 1739.2L1622.9 1725.2L1641.9 1711.2L1659.6 1696.9L1674.4 1683.9L1689.8 1668.9L1702.4 1655.3L1709.9 1646.6L1716.9 1637.7L1723.6 1628.7L1731.2 1617.8L1732.4 1616.5L1734.8 1615.4L1735.9 1614L1762.2 1574.3L1771.3 1559.4L1775.3 1551.9L1778.7 1544.6L1781.2 1538.5L1783.5 1531.7L1785.3 1524.9L1786.5 1518.4L1787.3 1511.3L1787.6 1504.4L1759.9 1490.7L1729.2 1476.2L1592.2 1413L1562.1 1398.6L1533.6 1384.3L1496.5 1364.7L1464.9 1346.7L1433.8 1327.5L1405.8 1308.6L1391.1 1298.1L1375.7 1286.4L1363.1 1276.3L1351.4 1266.4L1340.6 1256.5L1330.8 1246.8L1322.9 1238.2L1314.7 1228.5L1307.4 1218.8L1301 1209.1L1295.4 1199.5L1290.1 1188.8L1285.7 1178.3L1282.4 1168.4L1279.5 1157.5L1277.4 1146.4L1274.6 1166.4L1271 1186.4L1266.6 1205.8L1261.1 1227.1L1254.3 1250.1L1246.1 1274.8L1236.6 1301L1228 1322.6L1221 1338.4L1214.7 1351.1L1208.1 1363.2L1199.6 1376.7L1190.7 1389.5L1181.2 1401.6L1171.1 1413.3L1158.7 1426.4L1143.6 1440.9L1127.5 1455.2L1106 1473.2L1082.9 1491.6L1063.3 1506.3L1045.3 1519.1L1029.2 1529.9L1012.5 1540.4L989.3 1553.6L962 1567.8L886 1604.3L797 1648Z"/>
<path fill="#0000af" d="M761.1 1665.3L771.7 1672.3L783.2 1679.4L795.6 1686.6L807.9 1693.3L838.1 1689.4L883.7 1682.7L921.2 1676.7L956.5 1670.4L980.3 1665.8L1007.4 1660.1L1093 1640.4L1149.6 1660.3L1186.9 1672.7L1210.8 1679.7L1245.8 1688.8L1285.6 1697.6L1327.1 1705.3L1367.7 1712.1L1467.2 1727.8L1512.5 1735.6L1517.3 1736.7L1537.5 1743.8L1557.7 1751.2L1573.8 1757.5L1595.5 1743.8L1616.2 1729.9L1635.7 1715.9L1651.9 1703.2L1667.1 1690.4L1681.4 1677.3L1694.6 1663.9L1706.9 1650.1L1719.6 1634.1L1731.2 1617.8L1732.4 1616.5L1734.8 1615.4L1735.9 1614L1762.2 1574.3L1771.9 1558.3L1775.9 1550.8L1778.7 1544.6L1781.6 1537.6L1783.8 1530.7L1785.5 1524L1786.7 1517.5L1787.3 1511.3L1787.6 1504.4L1759.9 1490.7L1729.2 1476.2L1592.2 1413L1562.1 1398.6L1533.6 1384.3L1496.5 1364.7L1464.9 1346.7L1433.8 1327.5L1405.8 1308.6L1391.1 1298.1L1375.7 1286.4L1363.1 1276.3L1351.4 1266.4L1340.6 1256.5L1330.8 1246.8L1322.9 1238.2L1314.7 1228.5L1307.4 1218.8L1301 1209.1L1295.4 1199.5L1290.1 1188.8L1285.7 1178.3L1282.4 1168.4L1279.5 1157.5L1277.4 1146.4L1274.6 1166.4L1271 1186.4L1266.6 1205.8L1261.1 1227.1L1254.3 1250.1L1246.1 1274.8L1236.6 1301L1228 1322.6L1221 1338.4L1214.7 1351.1L1208.1 1363.2L1199.6 1376.7L1190.7 1389.5L1181.2 1401.6L1171.1 1413.3L1158.7 1426.4L1143.6 1440.9L1127.5 1455.2L1106 1473.2L1082.9 1491.6L1063.3 1506.3L1045.3 1519.1L1029.2 1529.9L1012.5 1540.4L989.3 1553.6L962 1567.8L886 1604.3L797 1648Z"/>
<path fill="#0000ba" d="M761.1 1665.3L773.2 1673.3L786.2 1681.2L866.6 1666.4L896.5 1660.5L925 1654.4L973.4 1643.2L1032.9 1627.8L1055.9 1622.2L1073 1627.6L1126.4 1645.2L1153.8 1653.7L1187 1663L1217.6 1670.6L1238.4 1675.4L1262.7 1680.5L1309.8 1689.3L1357.5 1697.3L1469.5 1715L1503.7 1720.8L1529.2 1725.5L1533.9 1726.6L1549.7 1732.4L1569.4 1740L1589 1748L1609.5 1734.5L1627.2 1722.1L1643.9 1709.6L1659.6 1696.9L1674.4 1683.9L1688.1 1670.6L1700.9 1657L1711.3 1644.8L1721 1632.3L1731.2 1617.8L1732.4 1616.5L1734.8 1615.4L1735.9 1614L1763 1573.1L1772.5 1557.2L1776.4 1549.8L1779.2 1543.6L1781.6 1537.6L1783.8 1530.7L1785.5 1524L1786.7 1517.5L1787.3 1511.3L1787.6 1504.4L1759.9 1490.7L1729.2 1476.2L1592.2 1413L1562.1 1398.6L1533.6 1384.3L1496.5 1364.7L1464.9 1346.7L1433.8 1327.5L1405.8 1308.6L1391.1 1298.1L1375.7 1286.4L1363.1 1276.3L1351.4 1266.4L1340.6 1256.5L1330.8 1246.8L1322.9 1238.2L1314.7 1228.5L1307.4 1218.8L1301 1209.1L1295.4 1199.5L1290.1 1188.8L1285.7 1178.3L1282.4 1168.4L1279.5 1157.5L1277.4 1146.4L1274.6 1166.4L1271 1186.4L1266.6 1205.8L1261.1 1227.1L1254.3 1250.1L1246.1 1274.8L1236.6 1301L1228 1322.6L1221 1338.4L1214.7 1351.1L1208.1 1363.2L1199.6 1376.7L1190.7 1389.5L1181.2 1401.6L1171.1 1413.3L1158.7 1426.4L1143.6 1440.9L1127.5 1455.2L1106 1473.2L1082.9 1491.6L1063.3 1506.3L1045.3 1519.1L1029.2 1529.9L1012.5 1540.4L989.3 1553.6L962 1567.8L886 1604.3L797 1648Z"/>
<path fill="#0000c5" d="M761.1 1665.3L770.2 1671.3L857.5 1653.3L909.2 1641.9L952.3 1631.3L1033.4 1609.8L1054.2 1615.6L1101.1 1628L1147.2 1641L1169.6 1647L1205.7 1655.9L1245.1 1664.6L1281.5 1671.8L1321.3 1678.9L1364.4 1686.1L1474.5 1703.6L1508.8 1709.5L1543.9 1716.2L1548.6 1717.3L1564.1 1723.2L1583.5 1731L1602.7 1739.1L1625 1723.7L1643.9 1709.6L1661.5 1695.2L1677.9 1680.6L1691.4 1667.2L1703.9 1653.6L1711.3 1644.8L1718.3 1635.9L1731.2 1617.8L1732.4 1616.5L1734.8 1615.4L1735.9 1614L1765.2 1569.6L1771.9 1558.3L1776.9 1548.7L1781.6 1537.6L1784.8 1526.8L1786.9 1515.7L1787.6 1504.4L1759.9 1490.7L1729.2 1476.2L1592.2 1413L1562.1 1398.6L1533.6 1384.3L1496.5 1364.7L1464.9 1346.7L1433.8 1327.5L1405.8 1308.6L1391.1 1298.1L1375.7 1286.4L1363.1 1276.3L1351.4 1266.4L1340.6 1256.5L1330.8 1246.8L1322.9 1238.2L1314.7 1228.5L1307.4 1218.8L1301 1209.1L1295.4 1199.5L1290.1 1188.8L1285.7 1178.3L1282.4 1168.4L1279.5 1157.5L1277.4 1146.4L1274.6 1166.4L1271 1186.4L1266.6 1205.8L1261.1 1227.1L1254.3 1250.1L1246.1 1274.8L1236.6 1301L1228 1322.6L1221 1338.4L1214.7 1351.1L1208.1 1363.2L1199.6 1376.7L1190.7 1389.5L1181.2 1401.6L1171.1 1413.3L1158.7 1426.4L1143.6 1440.9L1127.5 1455.2L1106 1473.2L1082.9 1491.6L1063.3 1506.3L1045.3 1519.1L1029.2 1529.9L1012.5 1540.4L989.3 1553.6L962 1567.8L886 1604.3L797 1648Z"/>
<path fill="#0000cf" d="M886 1604.3L774.2 1659L778.8 1657.5L847.7 1642.9L902.8 1630.2L940.7 1620.5L1017.2 1599.8L1031.8 1603.2L1043.8 1605.5L1077.5 1611.1L1096.9 1615.1L1118.8 1620.4L1166.1 1633.4L1196 1641.1L1232.7 1649.6L1270.2 1657.5L1303.9 1663.9L1340.2 1670.3L1497.8 1696.1L1532.4 1702.5L1557.2 1707.4L1561.7 1708.6L1577 1714.6L1596.2 1722.4L1615.2 1730.6L1633.6 1717.4L1649.9 1704.8L1667.1 1690.4L1681.4 1677.3L1694.6 1663.9L1705.4 1651.8L1718.3 1635.9L1731.2 1617.8L1732.4 1616.5L1734.8 1615.4L1735.9 1614L1765.2 1569.6L1771.9 1558.3L1776.9 1548.7L1781.6 1537.6L1784.8 1526.8L1786.9 1515.7L1787.6 1504.4L1759.9 1490.7L1729.2 1476.2L1592.2 1413L1562.1 1398.6L1533.6 1384.3L1496.5 1364.7L1464.9 1346.7L1433.8 1327.5L1405.8 1308.6L1391.1 1298.1L1375.7 1286.4L1363.1 1276.3L1351.4 1266.4L1340.6 1256.5L1330.8 1246.8L1322.9 1238.2L1314.7 1228.5L1307.4 1218.8L1301 1209.1L1295.4 1199.5L1290.1 1188.8L1285.7 1178.3L1282.4 1168.4L1279.5 1157.5L1277.4 1146.4L1274.6 1166.4L1271 1186.4L1266.6 1205.8L1261.1 1227.1L1254.3 1250.1L1246.1 1274.8L1236.6 1301L1228 1322.6L1221 1338.4L1214.7 1351.1L1208.1 1363.2L1199.6 1376.7L1190.7 1389.5L1181.2 1401.6L1171.1 1413.3L1160.5 1424.6L1145.6 1439.2L1129.6 1453.4L1108.2 1471.4L1085.3 1489.7L1068.3 1502.6L1047.9 1517.3L1029.2 1529.9L1012.5 1540.4L989.3 1553.6L962 1567.8Z"/>
<path fill="#0000da" d="M882.5 1606L811.7 1640.8L821 1637.3L835.2 1634.6L859.1 1629.2L907.6 1617.4L1004.3 1591.2L1015.2 1593.1L1024 1594.2L1063.1 1597.1L1076.1 1598.7L1089 1600.6L1099.8 1602.6L1112.6 1605.4L1131.9 1610.3L1178.1 1623.5L1207.5 1631.2L1243.6 1639.8L1280.7 1647.7L1314 1654.2L1350 1660.6L1465.5 1679.8L1505.7 1686.7L1539.9 1693.1L1569.1 1699.2L1573.6 1700.4L1588.7 1706.5L1607.6 1714.4L1626.4 1722.7L1641.9 1711.2L1657.7 1698.5L1672.6 1685.5L1684.8 1674L1696.2 1662.2L1705.4 1651.8L1718.3 1635.9L1731.2 1617.8L1732.4 1616.5L1734.8 1615.4L1735.9 1614L1765.2 1569.6L1771.9 1558.3L1776.9 1548.7L1781.6 1537.6L1784.8 1526.8L1786.9 1515.7L1787.6 1504.4L1759.9 1490.7L1729.2 1476.2L1592.2 1413L1562.1 1398.6L1533.6 1384.3L1496.5 1364.7L1464.9 1346.7L1433.8 1327.5L1405.8 1308.6L1391.1 1298.1L1375.7 1286.4L1363.1 1276.3L1351.4 1266.4L1340.6 1256.5L1330.8 1246.8L1322.9 1238.2L1314.7 1228.5L1307.4 1218.8L1301 1209.1L1295.4 1199.5L1290.1 1188.8L1285.7 1178.3L1282.4 1168.4L1279.5 1157.5L1277.4 1146.4L1274.8 1165L1271.3 1184.5L1267.1 1203.7L1261.7 1224.9L1255 1247.8L1247.9 1269.7L1238.6 1295.7L1230.2 1317.2L1223.4 1333.2L1217.2 1346.1L1209.4 1360.8L1202.5 1372.3L1195.2 1383.2L1186 1395.6L1176.2 1407.5L1165.9 1419L1153.2 1431.9L1137.7 1446.3L1119.1 1462.4L1097 1480.5L1078.1 1495.3L1058.2 1510L1040 1522.7L1020.9 1535.2L1006.8 1543.8L995.2 1550.4L968.2 1564.7L946.2 1575.5Z"/>
<path fill="#0000e4" d="M896.4 1599.3L847.2 1623.3L860.9 1618.2L877.7 1614.5L905.5 1607.6L993.8 1583.5L1002.1 1584.4L1008.9 1584.7L1035.5 1584.4L1052.6 1584.7L1065.4 1585.4L1080.2 1586.9L1092.8 1588.6L1103.2 1590.3L1126 1595.2L1144.8 1600.3L1187.3 1613L1215.8 1620.8L1250.9 1629.5L1287.1 1637.5L1319.6 1644L1354.8 1650.5L1467 1669.6L1507.8 1676.8L1546.3 1684.2L1579.8 1691.5L1584.3 1692.7L1599.2 1698.8L1618 1706.8L1636.7 1715.1L1651.9 1703.2L1665.3 1692L1677.9 1680.6L1689.8 1668.9L1700.9 1657L1711.3 1644.8L1721 1632.3L1731.2 1617.8L1732.4 1616.5L1734.8 1615.4L1735.9 1614L1765.2 1569.6L1771.9 1558.3L1776.9 1548.7L1781.6 1537.6L1784.8 1526.8L1786.9 1515.7L1787.6 1504.4L1759.9 1490.7L1729.2 1476.2L1592.2 1413L1562.1 1398.6L1533.6 1384.3L1496.5 1364.7L1464.9 1346.7L1433.8 1327.5L1405.8 1308.6L1391.1 1298.1L1375.7 1286.4L1363.1 1276.3L1351.4 1266.4L1340.6 1256.5L1330.8 1246.8L1322.9 1238.2L1314.7 1228.5L1307.4 1218.8L1301 1209.1L1295.4 1199.5L1290.1 1188.8L1285.7 1178.3L1282.4 1168.4L1279.5 1157.5L1277.4 1146.4L1274.8 1165L1271.7 1182.7L1267.6 1201.7L1262.3 1222.7L1256.5 1243.1L1249.5 1264.7L1240.6 1290.3L1232.4 1311.8L1225.7 1327.9L1218.5 1343.6L1212.1 1356L1205.3 1367.8L1198.2 1378.9L1189.1 1391.5L1181.2 1401.6L1171.1 1413.3L1158.7 1426.4L1145.6 1439.2L1129.6 1453.4L1110.5 1469.5L1087.7 1487.9L1070.8 1500.8L1050.5 1515.5L1029.2 1529.9L1015.3 1538.6L1003.9 1545.4L989.3 1553.6L974.3 1561.5L952.6 1572.4Z"/>
<path fill="#0000ef" d="M952.6 1572.4L883.6 1605.5L902.3 1598.4L920.5 1593.9L984.8 1576.4L996.6 1576.3L1029.5 1573.9L1047.8 1573.6L1060 1573.8L1072.1 1574.5L1094.2 1576.8L1116.3 1580.4L1138.5 1585.5L1156.8 1590.6L1198.4 1603.4L1223.6 1610.6L1257.7 1619.4L1292.9 1627.5L1324.7 1634.1L1359.2 1640.6L1477.4 1661.3L1514 1668L1551.9 1675.6L1589.4 1684L1593.9 1685.3L1608.8 1691.5L1646.1 1707.9L1659.6 1696.9L1670.8 1687.1L1683.1 1675.6L1693 1665.6L1703.9 1653.6L1712.7 1643.1L1722.3 1630.5L1731.2 1617.8L1732.4 1616.5L1734.8 1615.4L1735.9 1614L1765.2 1569.6L1771.9 1558.3L1776.9 1548.7L1781.6 1537.6L1784.8 1526.8L1786.9 1515.7L1787.6 1504.4L1759.9 1490.7L1729.2 1476.2L1592.2 1413L1562.1 1398.6L1533.6 1384.3L1496.5 1364.7L1464.9 1346.7L1433.8 1327.5L1405.8 1308.6L1391.1 1298.1L1375.7 1286.4L1363.1 1276.3L1351.4 1266.4L1340.6 1256.5L1330.8 1246.8L1322.9 1238.2L1314.7 1228.5L1307.4 1218.8L1301 1209.1L1295.4 1199.5L1290.1 1188.8L1285.7 1178.3L1282.4 1168.4L1279.5 1157.5L1277.4 1146.4L1274.8 1165L1271.7 1182.7L1267.6 1201.7L1262.9 1220.5L1257.2 1240.7L1250.4 1262.2L1242.5 1285.1L1234.5 1306.4L1228 1322.6L1221 1338.4L1214.7 1351.1L1208.1 1363.2L1201.1 1374.5L1193.7 1385.3L1186 1395.6L1176.2 1407.5L1165.9 1419L1153.2 1431.9L1139.7 1444.5L1123.4 1458.8L1101.5 1476.8L1080.5 1493.5L1060.8 1508.2L1040 1522.7L1026.4 1531.7L1012.5 1540.4L998.1 1548.7L983.4 1556.8Z"/>
<path fill="#0000fa" d="M971.3 1563.1L923.8 1586.2L947.6 1577.1L976.8 1569.8L1017.7 1564.7L1029.6 1563.8L1042.4 1563.3L1064.8 1563.4L1087.6 1564.9L1099.1 1566.1L1110.7 1567.8L1130.2 1571.4L1150 1576.1L1170 1581.9L1211.1 1594.9L1233.5 1601.4L1264 1609.6L1298.4 1617.7L1329.5 1624.3L1363.2 1631L1472.7 1650.8L1514.8 1658.7L1555.2 1667L1592.9 1675.7L1602.7 1678.3L1632.4 1691L1654.7 1701L1665.3 1692L1676.1 1682.2L1686.4 1672.3L1696.2 1662.2L1705.4 1651.8L1714.1 1641.3L1722.3 1630.5L1731.2 1617.8L1732.4 1616.5L1734.8 1615.4L1735.9 1614L1765.2 1569.6L1771.9 1558.3L1776.9 1548.7L1781.6 1537.6L1784.8 1526.8L1786.9 1515.7L1787.6 1504.4L1759.9 1490.7L1729.2 1476.2L1592.2 1413L1562.1 1398.6L1533.6 1384.3L1496.5 1364.7L1464.9 1346.7L1433.8 1327.5L1405.8 1308.6L1391.1 1298.1L1375.7 1286.4L1363.1 1276.3L1351.4 1266.4L1340.6 1256.5L1330.8 1246.8L1322.9 1238.2L1314.7 1228.5L1307.4 1218.8L1301 1209.1L1295.4 1199.5L1290.1 1188.8L1285.7 1178.3L1282.4 1168.4L1279.5 1157.5L1277.4 1146.4L1275.1 1163.6L1272 1181L1268.5 1197.8L1264 1216.2L1258.5 1236.1L1252.7 1254.9L1246.1 1274.8L1238.6 1295.7L1232.4 1311.8L1225.7 1327.9L1219.7 1341L1213.4 1353.6L1206.7 1365.5L1199.6 1376.7L1192.2 1387.4L1184.4 1397.6L1174.5 1409.4L1162.3 1422.7L1151.3 1433.7L1137.7 1446.3L1121.3 1460.6L1099.3 1478.7L1078.1 1495.3L1060.8 1508.2L1045.3 1519.1L1029.2 1529.9L1015.3 1538.6L1001 1547.1L986.4 1555.2Z"/>
<path fill="#0005ff" d="M980.4 1558.4L963.1 1567.2L982.5 1559.9L1015.1 1555.6L1029 1554.3L1042.1 1553.6L1063.9 1553.4L1085.1 1554.3L1107.1 1556.5L1127.8 1559.7L1147 1563.7L1164.5 1568.2L1182.4 1573.4L1220.9 1585.9L1242.9 1592.5L1272.9 1600.6L1303.5 1608.1L1333.9 1614.8L1366.8 1621.5L1476.5 1642.1L1519.7 1650.5L1559.7 1659.1L1597.9 1668.2L1610.8 1671.6L1640.4 1684.3L1662.6 1694.3L1674.4 1683.9L1686.4 1672.3L1697.8 1660.4L1708.4 1648.3L1719.6 1634.1L1731.2 1617.8L1732.4 1616.5L1734.8 1615.4L1735.9 1614L1759.8 1578.1L1767.4 1566.1L1773.1 1556.1L1777.8 1546.6L1781.2 1538.5L1784.1 1529.7L1786 1521.2L1787.2 1513L1787.6 1504.4L1759.9 1490.7L1729.2 1476.2L1592.2 1413L1562.1 1398.6L1533.6 1384.3L1496.5 1364.7L1464.9 1346.7L1433.8 1327.5L1405.8 1308.6L1391.1 1298.1L1375.7 1286.4L1363.1 1276.3L1351.4 1266.4L1340.6 1256.5L1330.8 1246.8L1322.9 1238.2L1314.7 1228.5L1307.4 1218.8L1301 1209.1L1295.4 1199.5L1290.1 1188.8L1285.7 1178.3L1282.4 1168.4L1279.5 1157.5L1277.4 1146.4L1275.3 1162.2L1272.7 1177.5L1269.4 1193.9L1265.6 1209.9L1261.1 1227.1L1255.7 1245.4L1249.5 1264.7L1243.4 1282.5L1236.6 1301L1230.2 1317.2L1224.6 1330.6L1218.5 1343.6L1212.1 1356L1205.3 1367.8L1198.2 1378.9L1190.7 1389.5L1181.2 1401.6L1171.1 1413.3L1160.5 1424.6L1149.4 1435.5L1137.7 1446.3L1123.4 1458.8L1103.8 1475L1085.3 1489.7L1070.8 1500.8L1053.1 1513.7L1037.3 1524.5L1023.7 1533.4L1009.6 1542.1L995.2 1550.4Z"/>
<path fill="#0010ff" d="M1006.8 1543.8L990.9 1552.8L1005.8 1547.2L1009.1 1547.1L1040.3 1544.6L1063.5 1544L1083.7 1544.5L1103.7 1546L1123.5 1548.5L1143.9 1552.1L1161 1555.9L1176.4 1560L1192.2 1564.7L1232.5 1577.8L1254.3 1584.4L1281.4 1591.9L1311.6 1599.4L1341.4 1606.2L1373.9 1613L1481 1633.8L1521.9 1642.1L1565.4 1651.8L1604.4 1661.4L1618.2 1665.2L1647.7 1677.9L1669.9 1687.9L1681.4 1677.3L1691.4 1667.2L1702.4 1655.3L1711.3 1644.8L1721 1632.3L1731.2 1617.8L1732.4 1616.5L1734.8 1615.4L1735.9 1614L1763 1573.1L1769.4 1562.7L1774.2 1554L1778.3 1545.6L1781.6 1537.6L1784.1 1529.7L1786 1521.2L1787.2 1513L1787.6 1504.4L1759.9 1490.7L1729.2 1476.2L1592.2 1413L1562.1 1398.6L1533.6 1384.3L1496.5 1364.7L1464.9 1346.7L1433.8 1327.5L1405.8 1308.6L1391.1 1298.1L1375.7 1286.4L1363.1 1276.3L1351.4 1266.4L1340.6 1256.5L1330.8 1246.8L1322.9 1238.2L1314.7 1228.5L1307.4 1218.8L1301 1209.1L1295.4 1199.5L1290.1 1188.8L1285.7 1178.3L1282.4 1168.4L1279.5 1157.5L1277.4 1146.4L1275.5 1160.9L1273 1175.8L1269.8 1192L1266.1 1207.8L1261.7 1224.9L1257.2 1240.7L1252 1257.4L1246.1 1274.8L1233.5 1309.1L1226.9 1325.3L1221 1338.4L1214.7 1351.1L1209.4 1360.8L1202.5 1372.3L1195.2 1383.2L1187.6 1393.6L1179.5 1403.6L1171.1 1413.3L1162.3 1422.7L1153.2 1431.9L1141.7 1442.7L1129.6 1453.4L1117 1464.1L1099.3 1478.7L1080.5 1493.5L1065.8 1504.5L1050.5 1515.5L1034.6 1526.3L1020.9 1535.2Z"/>
<path fill="#001bff" d="M1026.4 1531.7L1010.6 1541.5L1023.2 1536.8L1027 1536.9L1058.6 1535.3L1081.4 1535.4L1100.6 1536.3L1119.4 1538.1L1138.7 1540.8L1157.4 1544.4L1176.3 1548.8L1193.6 1553.7L1245.9 1570.6L1270.6 1578L1295.2 1584.8L1319.2 1590.9L1345.2 1596.9L1376.8 1603.8L1486.1 1626L1523.4 1633.9L1563.1 1642.9L1603 1652.9L1625 1659L1654.4 1671.7L1676.7 1681.7L1691.4 1667.2L1703.9 1653.6L1711.3 1644.8L1718.3 1635.9L1731.2 1617.8L1732.4 1616.5L1734.8 1615.4L1735.9 1614L1765.2 1569.6L1770.7 1560.5L1775.3 1551.9L1779.2 1543.6L1782.3 1535.6L1784.6 1527.8L1786.2 1520.3L1787.3 1512.1L1787.6 1504.4L1759.9 1490.7L1729.2 1476.2L1592.2 1413L1562.1 1398.6L1533.6 1384.3L1496.5 1364.7L1464.9 1346.7L1433.8 1327.5L1405.8 1308.6L1391.1 1298.1L1375.7 1286.4L1363.1 1276.3L1351.4 1266.4L1340.6 1256.5L1330.8 1246.8L1322.9 1238.2L1314.7 1228.5L1307.4 1218.8L1301 1209.1L1295.4 1199.5L1290.1 1188.8L1285.7 1178.3L1282.4 1168.4L1279.5 1157.5L1277.4 1146.4L1275.5 1160.9L1273 1175.8L1270.2 1190.1L1266.6 1205.8L1262.9 1220.5L1258.5 1236.1L1253.5 1252.5L1247.9 1269.7L1241.5 1287.7L1234.5 1306.4L1229.1 1319.9L1223.4 1333.2L1217.2 1346.1L1210.8 1358.4L1205.3 1367.8L1198.2 1378.9L1192.2 1387.4L1184.4 1397.6L1177.9 1405.5L1169.4 1415.2L1160.5 1424.6L1151.3 1433.7L1131.7 1451.7L1101.5 1476.8L1082.9 1491.6L1070.8 1500.8L1055.7 1511.8L1040 1522.7Z"/>
<path fill="#0025ff" d="M1040 1522.7L1026.1 1531.8L1037.7 1527.6L1041.2 1527.7L1072.1 1526.7L1093 1527L1112.4 1528.2L1132.6 1530.3L1152.1 1533.2L1170.4 1536.9L1185.4 1540.5L1200.7 1544.7L1216.3 1549.5L1252.1 1561.4L1271 1567.3L1297.3 1574.9L1323.4 1581.7L1352.1 1588.6L1383.1 1595.6L1483.6 1616.9L1526.8 1626.4L1570.5 1636.7L1609.5 1646.8L1631.2 1653L1657 1664.1L1683 1675.7L1694.6 1663.9L1705.4 1651.8L1718.3 1635.9L1731.2 1617.8L1732.4 1616.5L1734.8 1615.4L1735.9 1614L1760.6 1576.8L1767.4 1566.1L1772.5 1557.2L1776.4 1549.8L1779.6 1542.6L1782.6 1534.6L1784.8 1526.8L1786.4 1519.3L1787.3 1512.1L1787.6 1504.4L1759.9 1490.7L1729.2 1476.2L1592.2 1413L1562.1 1398.6L1533.6 1384.3L1496.5 1364.7L1464.9 1346.7L1433.8 1327.5L1405.8 1308.6L1391.1 1298.1L1375.7 1286.4L1363.1 1276.3L1351.4 1266.4L1340.6 1256.5L1330.8 1246.8L1322.9 1238.2L1314.7 1228.5L1307.4 1218.8L1301 1209.1L1295.4 1199.5L1290.1 1188.8L1285.7 1178.3L1282.4 1168.4L1279.5 1157.5L1277.4 1146.4L1275.7 1159.6L1273.3 1174.2L1270.6 1188.2L1267.1 1203.7L1263.5 1218.4L1259.2 1233.9L1249.5 1264.7L1236.6 1301L1230.2 1317.2L1224.6 1330.6L1218.5 1343.6L1213.4 1353.6L1208.1 1363.2L1201.1 1374.5L1195.2 1383.2L1189.1 1391.5L1182.8 1399.6L1174.5 1409.4L1158.7 1426.4L1149.4 1435.5L1139.7 1444.5L1127.5 1455.2L1112.6 1467.7L1080.5 1493.5L1053.1 1513.7Z"/>
<path fill="#0030ff" d="M1065.8 1504.5L1039.4 1523.1L1050.4 1519.1L1053.9 1519.2L1084.5 1518.6L1106.4 1519.1L1125.2 1520.4L1143.5 1522.4L1162.9 1525.4L1181 1529.1L1196 1532.8L1211.2 1537L1226.8 1541.9L1262.4 1553.8L1281.3 1559.7L1307.4 1567.3L1333.4 1574.3L1358.5 1580.5L1389 1587.6L1490 1609.9L1533.2 1619.8L1572.4 1629.4L1611.3 1639.7L1637.1 1647.2L1666.5 1659.9L1688.9 1669.9L1700.9 1657L1711.3 1644.8L1721 1632.3L1731.2 1617.8L1732.4 1616.5L1734.8 1615.4L1735.9 1614L1760.6 1576.8L1768.7 1563.8L1773.7 1555L1777.4 1547.7L1780.4 1540.5L1782.9 1533.6L1784.8 1526.8L1786.4 1519.3L1787.3 1512.1L1787.6 1504.4L1759.9 1490.7L1729.2 1476.2L1592.2 1413L1562.1 1398.6L1533.6 1384.3L1496.5 1364.7L1464.9 1346.7L1433.8 1327.5L1405.8 1308.6L1391.1 1298.1L1375.7 1286.4L1363.1 1276.3L1351.4 1266.4L1340.6 1256.5L1330.8 1246.8L1322.9 1238.2L1314.7 1228.5L1307.4 1218.8L1301 1209.1L1295.4 1199.5L1290.1 1188.8L1285.7 1178.3L1282.4 1168.4L1279.5 1157.5L1277.4 1146.4L1275.7 1159.6L1273.3 1174.2L1270.6 1188.2L1267.6 1201.7L1264 1216.2L1259.8 1231.6L1250.4 1262.2L1237.6 1298.3L1231.3 1314.5L1225.7 1327.9L1219.7 1341L1214.7 1351.1L1209.4 1360.8L1202.5 1372.3L1196.7 1381L1190.7 1389.5L1177.9 1405.5L1171.1 1413.3L1162.3 1422.7L1145.6 1439.2L1133.7 1449.9L1121.3 1460.6L1090 1486Z"/>
<path fill="#003aff" d="M1078.1 1495.3L1051.4 1514.9L1062 1511L1065.4 1511.2L1096.8 1510.7L1120.3 1511.5L1139.1 1513L1157.5 1515.2L1175 1518.2L1193.1 1522L1208 1525.7L1221.3 1529.5L1236.8 1534.4L1272.3 1546.3L1291.1 1552.3L1314.4 1559.2L1339.9 1566.2L1364.5 1572.5L1394.3 1579.8L1497.2 1603.5L1536.5 1612.8L1579.3 1623.7L1616.9 1633.9L1642.5 1641.5L1668.2 1652.6L1694.3 1664.2L1703.9 1653.6L1714.1 1641.3L1722.3 1630.5L1731.2 1617.8L1732.4 1616.5L1734.8 1615.4L1735.9 1614L1761.4 1575.6L1769.4 1562.7L1774.2 1554L1777.8 1546.6L1780.8 1539.5L1783.2 1532.6L1785.1 1525.9L1786.5 1518.4L1787.3 1511.3L1787.6 1504.4L1759.9 1490.7L1729.2 1476.2L1592.2 1413L1562.1 1398.6L1533.6 1384.3L1496.5 1364.7L1464.9 1346.7L1433.8 1327.5L1405.8 1308.6L1391.1 1298.1L1375.7 1286.4L1363.1 1276.3L1351.4 1266.4L1340.6 1256.5L1330.8 1246.8L1322.9 1238.2L1314.7 1228.5L1307.4 1218.8L1301 1209.1L1295.4 1199.5L1290.1 1188.8L1285.7 1178.3L1282.4 1168.4L1279.5 1157.5L1277.4 1146.4L1275.7 1159.6L1273.6 1172.6L1271 1186.4L1268.1 1199.7L1261.1 1227.1L1252 1257.4L1239.6 1293L1233.5 1309.1L1228 1322.6L1222.2 1335.8L1217.2 1346.1L1210.8 1358.4L1205.3 1367.8L1199.6 1376.7L1193.7 1385.3L1181.2 1401.6L1167.7 1417.1L1151.3 1433.7L1131.7 1451.7L1103.8 1475Z"/>
<path fill="#0045ff" d="M1085.3 1489.7L1062.3 1507L1072.7 1503.2L1076.2 1503.4L1107.4 1503L1129.2 1503.8L1147.7 1505.2L1165.9 1507.5L1184.9 1510.7L1203 1514.6L1215.9 1517.9L1230.9 1522.2L1300.5 1545.1L1323.6 1552.1L1348.9 1559.2L1399.3 1572.1L1505.2 1597.6L1541.6 1606.5L1580.1 1616.5L1622.2 1628.3L1647.5 1636L1699.5 1658.6L1708.4 1648.3L1715.5 1639.5L1723.6 1628.7L1731.2 1617.8L1732.4 1616.5L1734.8 1615.4L1735.9 1614L1762.2 1574.3L1770.7 1560.5L1774.8 1552.9L1778.3 1545.6L1781.2 1538.5L1783.5 1531.7L1785.3 1524.9L1786.5 1518.4L1787.3 1511.3L1787.6 1504.4L1759.9 1490.7L1729.2 1476.2L1592.2 1413L1562.1 1398.6L1533.6 1384.3L1496.5 1364.7L1464.9 1346.7L1433.8 1327.5L1405.8 1308.6L1391.1 1298.1L1375.7 1286.4L1363.1 1276.3L1351.4 1266.4L1340.6 1256.5L1330.8 1246.8L1322.9 1238.2L1314.7 1228.5L1307.4 1218.8L1301 1209.1L1295.4 1199.5L1290.1 1188.8L1285.7 1178.3L1282.4 1168.4L1279.5 1157.5L1277.4 1146.4L1273.8 1171L1268.5 1197.8L1261.7 1224.9L1252.7 1254.9L1247 1272.2L1240.6 1290.3L1234.5 1306.4L1229.1 1319.9L1223.4 1333.2L1218.5 1343.6L1212.1 1356L1206.7 1365.5L1196.7 1381L1184.4 1397.6L1171.1 1413.3L1155 1430.1L1137.7 1446.3L1114.8 1465.9Z"/>
<path fill="#0050ff" d="M1097 1480.5L1072.6 1499.5L1082.9 1495.7L1086 1495.8L1116.3 1495.5L1139.2 1496.3L1157.6 1497.8L1175.6 1500.1L1194.5 1503.4L1212.3 1507.4L1227 1511.2L1241.9 1515.6L1309.3 1538.1L1332.2 1545.2L1357.3 1552.3L1407.1 1565.5L1505 1589.9L1548.6 1601L1589.6 1612L1625.6 1622.4L1652.2 1630.6L1704.3 1653.2L1711.3 1644.8L1718.3 1635.9L1731.2 1617.8L1732.4 1616.5L1734.8 1615.4L1735.9 1614L1762.2 1574.3L1771.3 1559.4L1775.3 1551.9L1778.7 1544.6L1781.2 1538.5L1783.5 1531.7L1785.3 1524.9L1786.5 1518.4L1787.3 1511.3L1787.6 1504.8L1787.6 1504.4L1775.6 1498.4L1733 1477.9L1623.9 1427.8L1589.1 1411.6L1559.1 1397.1L1530.9 1382.9L1494 1363.3L1462.6 1345.3L1433.8 1327.5L1405.8 1308.6L1391.1 1298.1L1375.7 1286.4L1363.1 1276.3L1351.4 1266.4L1340.6 1256.5L1330.8 1246.8L1322.9 1238.2L1314.7 1228.5L1307.4 1218.8L1301 1209.1L1295.4 1199.5L1290.1 1188.8L1285.7 1178.3L1282.4 1168.4L1279.5 1157.5L1277.4 1146.4L1273.8 1171L1268.5 1197.8L1261.7 1224.9L1252.7 1254.9L1241.5 1287.7L1230.2 1317.2L1219.7 1341L1213.4 1353.6L1208.1 1363.2L1198.2 1378.9L1186 1395.6L1172.8 1411.4L1158.7 1426.4L1141.7 1442.7L1123.4 1458.8Z"/>
<path fill="#005aff" d="M1106 1473.2L1082.2 1492.1L1092.3 1488.4L1123.8 1488.1L1147.6 1488.9L1165.5 1490.4L1184.9 1493L1203.5 1496.4L1221.1 1500.4L1235.6 1504.3L1250.5 1508.8L1317.5 1531.4L1340.3 1538.4L1365.1 1545.7L1414.4 1559.1L1514.7 1584.9L1553.2 1595.1L1594.3 1606.5L1628.9 1616.7L1656.6 1625.3L1708.8 1647.9L1719.6 1634.1L1731.2 1617.8L1732.4 1616.5L1734.8 1615.4L1735.9 1614L1762.2 1574.3L1771.9 1558.3L1775.9 1550.8L1778.7 1544.6L1781.2 1538.5L1783.5 1531.7L1785.1 1525.9L1786.4 1519.3L1787.2 1513L1787.6 1506.3L1787.6 1504.4L1756 1488.8L1714.3 1469.2L1595.3 1414.5L1559.1 1397.1L1525.4 1380.1L1491.5 1361.9L1460.3 1343.9L1431.7 1326.1L1403.9 1307.3L1389.3 1296.8L1374.1 1285.2L1361.6 1275.1L1350 1265.1L1339.3 1255.3L1329.6 1245.5L1321.8 1237L1313.8 1227.3L1306.6 1217.6L1300.2 1207.9L1294.7 1198.3L1289.5 1187.6L1285.3 1177.2L1282.1 1167.3L1279.3 1156.6L1277.4 1146.4L1273.8 1171L1268.5 1197.8L1261.7 1224.9L1253.5 1252.5L1242.5 1285.1L1236.6 1301L1230.2 1317.2L1219.7 1341L1214.7 1351.1L1209.4 1360.8L1199.6 1376.7L1189.1 1391.5L1176.2 1407.5L1162.3 1422.7L1147.5 1437.4L1129.6 1453.4Z"/>
<path fill="#0065ff" d="M1117 1464.1L1091.3 1485L1101 1481.5L1130.8 1480.8L1144.3 1481.1L1156.6 1481.7L1174.5 1483.3L1191.9 1485.7L1210.2 1489.2L1228.4 1493.4L1241.8 1497L1256.6 1501.5L1325.2 1524.8L1347.8 1531.9L1372.4 1539.3L1421.2 1552.9L1555.2 1588.7L1597.5 1600.7L1633.3 1611.4L1660.7 1620.2L1713.1 1642.6L1722.3 1630.5L1731.2 1617.8L1732.4 1616.5L1734.8 1615.4L1735.9 1614L1763 1573.1L1772.5 1557.2L1778.7 1544.6L1781.2 1538.5L1783.5 1531.7L1785.1 1525.9L1786.4 1519.3L1787.2 1513L1787.6 1507.1L1787.6 1504.4L1763.8 1492.6L1718 1470.9L1627.2 1429.3L1592.2 1413L1556.2 1395.7L1522.7 1378.7L1489 1360.5L1458 1342.5L1429.6 1324.8L1403.9 1307.3L1389.3 1296.8L1374.1 1285.2L1361.6 1275.1L1350 1265.1L1339.3 1255.3L1329.6 1245.5L1321.8 1237L1313.8 1227.3L1306.6 1217.6L1300.2 1207.9L1294.7 1198.3L1289.5 1187.6L1285.3 1177.2L1282.1 1167.3L1279.3 1156.6L1277.4 1146.4L1273.8 1171L1269 1195.8L1262.9 1220.5L1255 1247.8L1244.3 1279.9L1232.4 1311.8L1222.2 1335.8L1217.2 1346.1L1212.1 1356L1202.5 1372.3L1192.2 1387.4L1179.5 1403.6L1165.9 1419L1151.3 1433.7L1135.7 1448.1Z"/>
<path fill="#0070ff" d="M1123.4 1458.8L1100 1478.1L1109.2 1474.8L1127.1 1474L1138.6 1473.8L1152 1474L1164 1474.6L1179.9 1476.1L1200 1479L1216.6 1482.2L1235.2 1486.6L1249.3 1490.6L1264 1495L1332.4 1518.4L1354.9 1525.6L1379.3 1533.1L1427.6 1546.9L1557.9 1582.7L1599.5 1594.7L1635.9 1605.9L1664.6 1615.1L1717.1 1637.5L1723.6 1628.7L1731.2 1617.8L1732.4 1616.5L1734.8 1615.4L1735.9 1614L1763 1573.1L1772.5 1557.2L1778.7 1544.6L1783.2 1532.6L1784.8 1526.8L1786.2 1520.3L1787 1514.8L1787.5 1508.7L1787.6 1504.4L1771.7 1496.4L1721.7 1472.7L1627.2 1429.3L1589.1 1411.6L1550.5 1392.9L1517.3 1375.9L1486.5 1359.1L1455.7 1341.2L1427.5 1323.4L1402 1306L1387.6 1295.5L1374.1 1285.2L1361.6 1275.1L1350 1265.1L1339.3 1255.3L1329.6 1245.5L1321.8 1237L1313.8 1227.3L1306.6 1217.6L1300.2 1207.9L1294.7 1198.3L1289.5 1187.6L1285.3 1177.2L1282.1 1167.3L1279.3 1156.6L1277.4 1146.4L1274.1 1169.4L1269.4 1193.9L1263.5 1218.4L1255.7 1245.4L1245.2 1277.3L1233.5 1309.1L1223.4 1333.2L1218.5 1343.6L1213.4 1353.6L1203.9 1370.1L1193.7 1385.3L1182.8 1399.6L1169.4 1415.2L1156.9 1428.2L1141.7 1442.7Z"/>
<path fill="#007aff" d="M1131.7 1451.7L1108.4 1471.2L1116.6 1468.2L1130.2 1467.4L1151.9 1466.9L1163 1467.2L1173.9 1467.9L1189.4 1469.4L1204.9 1471.8L1220.7 1474.9L1237.1 1479L1254.5 1483.8L1270.8 1488.8L1339.1 1512.3L1385.7 1527L1436.7 1541.9L1561.4 1577.1L1603.6 1589.6L1639.7 1600.8L1668.2 1610.2L1720.9 1632.5L1731.2 1617.8L1732.4 1616.5L1734.8 1615.4L1735.9 1614L1763 1573.1L1768.7 1563.8L1773.1 1556.1L1778.7 1544.6L1783.2 1532.6L1786 1521.2L1786.9 1515.7L1787.5 1509.6L1787.6 1504.4L1775.6 1498.4L1721.7 1472.7L1627.2 1429.3L1589.1 1411.6L1550.5 1392.9L1517.3 1375.9L1486.5 1359.1L1455.7 1341.2L1427.5 1323.4L1402 1306L1387.6 1295.5L1374.1 1285.2L1361.6 1275.1L1350 1265.1L1339.3 1255.3L1329.6 1245.5L1321.8 1237L1313.8 1227.3L1306.6 1217.6L1300.2 1207.9L1294.7 1198.3L1289.5 1187.6L1285.3 1177.2L1282.1 1167.3L1279.3 1156.6L1277.4 1146.4L1274.1 1169.4L1269.4 1193.9L1263.5 1218.4L1255.7 1245.4L1246.1 1274.8L1234.5 1306.4L1224.6 1330.6L1214.7 1351.1L1206.7 1365.5L1196.7 1381L1186 1395.6L1174.5 1409.4L1162.3 1422.7L1147.5 1437.4Z"/>
<path fill="#0085ff" d="M1133.7 1449.9L1116.6 1464.5L1124.5 1461.6L1139 1460.7L1158.5 1460.2L1177.5 1461L1196 1462.7L1212.6 1465.2L1230.2 1468.7L1248.5 1473.2L1260.6 1476.6L1272.9 1480.5L1304.1 1491.9L1333.7 1502.4L1357.4 1510.3L1386.1 1519.4L1435.9 1534.4L1565.7 1571.9L1607.5 1584.5L1647.4 1597.2L1671.7 1605.3L1724.4 1627.6L1731.2 1617.8L1732.4 1616.5L1734.8 1615.4L1735.9 1614L1763 1573.1L1768.7 1563.8L1773.1 1556.1L1778.7 1544.6L1783.2 1532.6L1786 1521.2L1787.4 1510.4L1787.6 1504.4L1783.6 1502.4L1756 1488.8L1725.5 1474.4L1623.9 1427.8L1586 1410.1L1547.6 1391.4L1512 1373.1L1481.6 1356.3L1453.4 1339.8L1425.5 1322.1L1400.1 1304.7L1385.8 1294.2L1372.5 1283.9L1360.1 1273.8L1348.6 1263.9L1338.1 1254.1L1328.5 1244.3L1320.8 1235.8L1312.8 1226.1L1305.7 1216.4L1299.5 1206.7L1294.1 1197.1L1289.5 1187.6L1285.3 1177.2L1282.1 1167.3L1279.3 1156.6L1277.4 1146.4L1274.1 1169.4L1269.4 1193.9L1263.5 1218.4L1256.5 1243.1L1247 1272.2L1235.6 1303.7L1225.7 1327.9L1216 1348.6L1208.1 1363.2L1198.2 1378.9L1187.6 1393.6L1176.2 1407.5L1164.1 1420.8L1149.4 1435.5Z"/>
<path fill="#008fff" d="M1141.7 1442.7L1124.5 1457.8L1131.8 1455.2L1152.7 1453.9L1170.7 1453.9L1188.8 1454.9L1206 1456.8L1224.3 1459.8L1242.2 1463.5L1262.8 1468.7L1284.5 1475.1L1307.4 1482.7L1391.7 1513.7L1438.1 1527.9L1576.4 1568.9L1619.8 1582.3L1662.3 1596.1L1674.9 1600.4L1727.9 1622.7L1731.2 1617.8L1732.4 1616.5L1734.8 1615.4L1735.9 1614L1763 1573.1L1768.7 1563.8L1773.1 1556.1L1778.7 1544.6L1782.9 1533.6L1785.7 1523.1L1787.3 1512.1L1787.6 1504.4L1759.9 1490.7L1729.2 1476.2L1623.9 1427.8L1583 1408.7L1544.8 1390L1509.4 1371.7L1479.1 1355L1451.2 1338.4L1425.5 1322.1L1400.1 1304.7L1385.8 1294.2L1372.5 1283.9L1360.1 1273.8L1348.6 1263.9L1338.1 1254.1L1328.5 1244.3L1320.8 1235.8L1312.8 1226.1L1305.7 1216.4L1299.5 1206.7L1294.1 1197.1L1289.5 1187.6L1285.3 1177.2L1282.1 1167.3L1279.3 1156.6L1277.4 1146.4L1274.1 1169.4L1269.8 1192L1264 1216.2L1257.2 1240.7L1247.9 1269.7L1237.6 1298.3L1228 1322.6L1218.5 1343.6L1210.8 1358.4L1202.5 1372.3L1192.2 1387.4L1181.2 1401.6L1169.4 1415.2L1156.9 1428.2Z"/>
<path fill="#009aff" d="M1149.4 1435.5L1132 1451.3L1138.7 1449L1150.4 1448L1160 1447.6L1179.9 1447.7L1201 1449.3L1218.4 1451.6L1237.1 1454.9L1257.1 1459.4L1278.4 1465L1299 1471.1L1319.1 1477.5L1428.4 1513.6L1575.9 1561.5L1639.7 1582.7L1677.9 1595.7L1708.2 1608.1L1731.2 1617.8L1732.4 1616.5L1734.8 1615.4L1735.9 1614L1763 1573.1L1768.7 1563.8L1773.1 1556.1L1778.7 1544.6L1782.6 1534.6L1785.5 1524L1787.2 1513L1787.6 1504.4L1759.9 1490.7L1729.2 1476.2L1592.2 1413L1559.1 1397.1L1528.1 1381.5L1491.5 1361.9L1458 1342.5L1427.5 1323.4L1413.5 1314L1398.3 1303.3L1384.1 1292.9L1370.9 1282.6L1358.6 1272.6L1347.2 1262.7L1336.8 1252.9L1328.5 1244.3L1320.8 1235.8L1312.8 1226.1L1305.7 1216.4L1299.5 1206.7L1294.1 1197.1L1289.5 1187.6L1285.3 1177.2L1282.1 1167.3L1279.3 1156.6L1277.4 1146.4L1274.4 1167.9L1270.2 1190.1L1265.1 1212L1258.5 1236.1L1249.5 1264.7L1239.6 1293L1230.2 1317.2L1221 1338.4L1213.4 1353.6L1205.3 1367.8L1196.7 1381L1186 1395.6L1174.5 1409.4L1162.3 1422.7Z"/>
<path fill="#00a5ff" d="M1153.2 1431.9L1139.2 1445L1145.5 1442.8L1156.3 1441.9L1167.5 1441.5L1186.2 1441.7L1205.1 1443.2L1224.3 1445.7L1243 1449.1L1264.6 1454L1288.1 1460.1L1319.5 1469.4L1373.2 1486.4L1433.7 1505.9L1500.7 1528.2L1557.3 1547.6L1619.3 1569.3L1737.4 1611.9L1763.7 1571.9L1770.1 1561.6L1774.8 1552.9L1779.6 1542.6L1783.2 1532.6L1785.7 1523.1L1787.1 1513.9L1787.6 1504.4L1759.9 1490.7L1729.2 1476.2L1592.2 1413L1559.1 1397.1L1528.1 1381.5L1491.5 1361.9L1458 1342.5L1427.5 1323.4L1413.5 1314L1398.3 1303.3L1384.1 1292.9L1370.9 1282.6L1358.6 1272.6L1347.2 1262.7L1336.8 1252.9L1328.5 1244.3L1320.8 1235.8L1312.8 1226.1L1305.7 1216.4L1299.5 1206.7L1294.1 1197.1L1289.5 1187.6L1285.3 1177.2L1282.1 1167.3L1279.3 1156.6L1277.4 1146.4L1274.4 1167.9L1270.2 1190.1L1265.1 1212L1258.5 1236.1L1250.4 1262.2L1240.6 1290.3L1231.3 1314.5L1222.2 1335.8L1214.7 1351.1L1206.7 1365.5L1198.2 1378.9L1189.1 1391.5L1177.9 1405.5L1165.9 1419Z"/>
<path fill="#00afff" d="M1160.5 1424.6L1146 1438.8L1151 1437L1155.2 1436.5L1167.3 1435.7L1180.7 1435.5L1198.2 1436.3L1216.8 1438.2L1235.8 1441.1L1256.4 1445.2L1278.8 1450.6L1303 1457.2L1342.2 1468.9L1401 1487.4L1445.4 1501.8L1496.1 1518.9L1537 1533.1L1584.7 1550.1L1683.3 1586.5L1740.5 1607.1L1764.5 1570.7L1770.1 1561.6L1774.8 1552.9L1779.2 1543.6L1782.9 1533.6L1785.3 1524.9L1786.9 1515.7L1787.6 1504.4L1759.9 1490.7L1729.2 1476.2L1592.2 1413L1559.1 1397.1L1528.1 1381.5L1491.5 1361.9L1458 1342.5L1442.4 1332.9L1425.5 1322.1L1411.5 1312.6L1396.5 1302L1382.4 1291.6L1369.3 1281.4L1357.1 1271.3L1345.9 1261.4L1335.6 1251.6L1327.3 1243.1L1319.7 1234.6L1311.9 1224.9L1304.9 1215.2L1298.8 1205.5L1293.5 1195.9L1289 1186.4L1284.9 1176.1L1281.7 1166.3L1279.3 1156.6L1277.4 1146.4L1274.6 1166.4L1270.6 1188.2L1265.6 1209.9L1259.8 1231.6L1252 1257.4L1243.4 1282.5L1233.5 1309.1L1224.6 1330.6L1217.2 1346.1L1209.4 1360.8L1202.5 1372.3L1193.7 1385.3L1184.4 1397.6L1172.8 1411.4Z"/>
<path fill="#00baff" d="M1165.9 1419L1152.3 1432.8L1156.8 1431.2L1161.5 1430.7L1172.3 1429.9L1184.2 1429.8L1202.3 1430.5L1221.9 1432.6L1242.3 1435.9L1261.9 1439.9L1284.4 1445.4L1311.8 1452.9L1356.1 1466.1L1406.8 1482.1L1450.5 1496.3L1499.3 1512.8L1544.2 1529.1L1682.4 1580.4L1743.6 1602.3L1765.2 1569.6L1770.7 1560.5L1775.3 1551.9L1779.6 1542.6L1782.9 1533.6L1785.3 1524.9L1786.8 1516.6L1787.4 1510.4L1787.6 1504.4L1759.9 1490.7L1729.2 1476.2L1627.2 1429.3L1589.1 1411.6L1556.2 1395.7L1525.4 1380.1L1489 1360.5L1455.7 1341.2L1440.2 1331.6L1423.4 1320.7L1409.6 1311.3L1394.7 1300.7L1380.7 1290.3L1367.7 1280.1L1355.7 1270.1L1345.9 1261.4L1335.6 1251.6L1327.3 1243.1L1319.7 1234.6L1311.9 1224.9L1304.9 1215.2L1298.8 1205.5L1293.5 1195.9L1289 1186.4L1284.9 1176.1L1281.7 1166.3L1279.3 1156.6L1277.4 1146.4L1274.6 1166.4L1270.6 1188.2L1265.6 1209.9L1259.8 1231.6L1252.7 1254.9L1244.3 1279.9L1234.5 1306.4L1225.7 1327.9L1218.5 1343.6L1210.8 1358.4L1203.9 1370.1L1195.2 1383.2L1186 1395.6L1176.2 1407.5Z"/>
<path fill="#00c5ff" d="M1171.1 1413.3L1158.3 1426.9L1162.5 1425.4L1169.7 1424.7L1179.2 1424.2L1188.5 1424.2L1207.3 1425.1L1226.9 1427.2L1247.5 1430.7L1270.7 1435.6L1296.3 1442.1L1324.3 1450L1356.4 1459.6L1401.3 1473.6L1443.3 1487.2L1461.6 1493.5L1534.5 1519.8L1685.4 1575.6L1746.7 1597.6L1765.2 1569.6L1770.7 1560.5L1775.3 1551.9L1779.2 1543.6L1782.6 1534.6L1785.1 1525.9L1786.7 1517.5L1787.3 1511.3L1787.6 1504.4L1759.9 1490.7L1729.2 1476.2L1627.2 1429.3L1589.1 1411.6L1556.2 1395.7L1525.4 1380.1L1489 1360.5L1455.7 1341.2L1440.2 1331.6L1423.4 1320.7L1409.6 1311.3L1394.7 1300.7L1380.7 1290.3L1367.7 1280.1L1355.7 1270.1L1345.9 1261.4L1335.6 1251.6L1327.3 1243.1L1319.7 1234.6L1311.9 1224.9L1304.9 1215.2L1298.8 1205.5L1293.5 1195.9L1289 1186.4L1284.9 1176.1L1281.7 1166.3L1279.3 1156.6L1277.4 1146.4L1274.6 1166.4L1271 1186.4L1266.6 1205.8L1261.1 1227.1L1254.3 1250.1L1246.1 1274.8L1236.6 1301L1228 1322.6L1221 1338.4L1214.7 1351.1L1208.1 1363.2L1199.6 1376.7L1190.7 1389.5L1181.2 1401.6Z"/>
<path fill="#00cfff" d="M1174.5 1409.4L1163.8 1421.1L1167.9 1419.8L1175.5 1419.1L1185.1 1418.7L1194.4 1418.7L1213.1 1419.8L1232.4 1422.1L1252.5 1425.7L1276.3 1430.9L1300.9 1437.3L1331.9 1446.1L1366.7 1456.5L1403.7 1468L1457.6 1486.4L1531.1 1512.8L1688.5 1570.9L1749.9 1592.8L1766 1568.4L1771.3 1559.4L1775.9 1550.8L1779.6 1542.6L1782.6 1534.6L1784.8 1526.8L1786.5 1518.4L1787.3 1511.3L1787.6 1504.4L1759.9 1490.7L1729.2 1476.2L1627.2 1429.3L1589.1 1411.6L1556.2 1395.7L1525.4 1380.1L1489 1360.5L1455.7 1341.2L1440.2 1331.6L1423.4 1320.7L1409.6 1311.3L1394.7 1300.7L1380.7 1290.3L1367.7 1280.1L1355.7 1270.1L1345.9 1261.4L1335.6 1251.6L1327.3 1243.1L1319.7 1234.6L1311.9 1224.9L1304.9 1215.2L1298.8 1205.5L1293.5 1195.9L1289 1186.4L1284.9 1176.1L1281.7 1166.3L1279.3 1156.6L1277.4 1146.4L1274.8 1165L1271.3 1184.5L1267.1 1203.7L1261.7 1224.9L1255 1247.8L1247.9 1269.7L1238.6 1295.7L1230.2 1317.2L1223.4 1333.2L1217.2 1346.1L1209.4 1360.8L1202.5 1372.3L1193.7 1385.3L1184.4 1397.6Z"/>
<path fill="#00daff" d="M1179.5 1403.6L1169.1 1415.6L1172.7 1414.4L1181.8 1413.6L1190.8 1413.3L1200.6 1413.4L1219.2 1414.8L1239.1 1417.4L1259.3 1421.2L1283.2 1426.7L1308.1 1433.3L1342.8 1443.3L1373.1 1452.4L1391.2 1458.2L1428.4 1470.7L1468.8 1484.7L1537.1 1509.3L1687.6 1564.7L1753.2 1588L1767.4 1566.1L1772.5 1557.2L1776.4 1549.8L1779.6 1542.6L1782.6 1534.6L1784.8 1526.8L1786.4 1519.3L1787.3 1512.1L1787.6 1504.4L1759.9 1490.7L1729.2 1476.2L1627.2 1429.3L1589.1 1411.6L1556.2 1395.7L1525.4 1380.1L1489 1360.5L1471.9 1350.8L1453.4 1339.8L1438 1330.2L1421.4 1319.4L1407.7 1310L1392.9 1299.4L1379 1289L1366.2 1278.8L1354.2 1268.9L1344.6 1260.2L1334.4 1250.4L1326.2 1241.9L1318.7 1233.4L1311 1223.6L1304.9 1215.2L1298.8 1205.5L1293.5 1195.9L1289 1186.4L1284.9 1176.1L1281.7 1166.3L1279.3 1156.6L1277.4 1146.4L1274.8 1165L1271.3 1184.5L1267.1 1203.7L1261.7 1224.9L1255.7 1245.4L1248.7 1267.2L1239.6 1293L1231.3 1314.5L1224.6 1330.6L1218.5 1343.6L1212.1 1356L1205.3 1367.8L1198.2 1378.9L1189.1 1391.5Z"/>
<path fill="#00e4ff" d="M1184.4 1397.6L1174 1410.1L1177.3 1409.1L1186 1408.3L1195.9 1408.1L1205.8 1408.3L1223.7 1409.7L1242.9 1412.4L1263.4 1416.4L1286.7 1421.9L1312.9 1428.9L1348.4 1439.1L1375.4 1447.6L1408.4 1458.4L1477.1 1482.1L1543 1505.8L1686.8 1558.6L1756.4 1583.1L1768.7 1563.8L1773.1 1556.1L1776.9 1548.7L1780 1541.6L1782.6 1534.6L1784.6 1527.8L1786 1521.2L1787.2 1513L1787.6 1504.4L1759.9 1490.7L1729.2 1476.2L1627.2 1429.3L1589.1 1411.6L1556.2 1395.7L1525.4 1380.1L1489 1360.5L1471.9 1350.8L1453.4 1339.8L1438 1330.2L1421.4 1319.4L1405.8 1308.6L1391.1 1298.1L1377.4 1287.7L1364.6 1277.6L1352.8 1267.6L1343.2 1259L1334.4 1250.4L1326.2 1241.9L1318.7 1233.4L1311 1223.6L1304.9 1215.2L1298.8 1205.5L1293.5 1195.9L1289 1186.4L1284.9 1176.1L1281.7 1166.3L1279.3 1156.6L1277.4 1146.4L1274.8 1165L1271.7 1182.7L1267.6 1201.7L1262.3 1222.7L1256.5 1243.1L1249.5 1264.7L1241.5 1287.7L1233.5 1309.1L1226.9 1325.3L1221 1338.4L1214.7 1351.1L1208.1 1363.2L1201.1 1374.5L1192.2 1387.4Z"/>
<path fill="#00efff" d="M1189.1 1391.5L1178.6 1404.7L1181.5 1403.8L1191.6 1403.1L1201.2 1402.9L1211 1403.3L1226.3 1404.6L1243.2 1407L1263.1 1410.8L1283.2 1415.5L1310.8 1422.7L1337.3 1430.3L1369.1 1440.2L1401.3 1450.6L1474.2 1475.5L1542.7 1500L1689.9 1553.8L1759.6 1578.4L1770.1 1561.6L1777.4 1547.7L1780 1541.6L1782.6 1534.6L1784.3 1528.8L1785.9 1522.1L1787.2 1513L1787.6 1504.4L1759.9 1490.7L1729.2 1476.2L1627.2 1429.3L1589.1 1411.6L1556.2 1395.7L1525.4 1380.1L1489 1360.5L1471.9 1350.8L1453.4 1339.8L1438 1330.2L1421.4 1319.4L1405.8 1308.6L1391.1 1298.1L1377.4 1287.7L1364.6 1277.6L1352.8 1267.6L1343.2 1259L1334.4 1250.4L1326.2 1241.9L1318.7 1233.4L1311 1223.6L1304.9 1215.2L1298.8 1205.5L1293.5 1195.9L1289 1186.4L1284.9 1176.1L1281.7 1166.3L1279.3 1156.6L1277.4 1146.4L1275.1 1163.6L1272 1181L1268.1 1199.7L1263.5 1218.4L1257.8 1238.4L1252 1257.4L1244.3 1279.9L1236.6 1301L1230.2 1317.2L1223.4 1333.2L1217.2 1346.1L1210.8 1358.4L1203.9 1370.1L1196.7 1381Z"/>
<path fill="#00faff" d="M1192.2 1387.4L1182.9 1399.5L1185.6 1398.7L1193.6 1398.1L1202.1 1397.9L1210.9 1398.1L1228.6 1399.6L1249.5 1402.8L1269.1 1406.8L1291.1 1412L1313.7 1418L1342.2 1426.5L1371.7 1435.6L1406.3 1446.9L1479.7 1471.9L1548.6 1496.5L1692.9 1549.1L1762.7 1573.6L1771.3 1559.4L1777.8 1546.6L1782.6 1534.6L1785.7 1523.1L1787.1 1513.9L1787.6 1504.4L1759.9 1490.7L1729.2 1476.2L1627.2 1429.3L1589.1 1411.6L1553.4 1394.3L1522.7 1378.7L1486.5 1359.1L1469.6 1349.4L1451.2 1338.4L1435.9 1328.8L1419.4 1318L1403.9 1307.3L1389.3 1296.8L1375.7 1286.4L1363.1 1276.3L1351.4 1266.4L1341.9 1257.8L1333.2 1249.2L1325.1 1240.7L1317.7 1232.1L1310.1 1222.4L1304.1 1213.9L1298.1 1204.3L1292.9 1194.7L1288.5 1185.3L1284.9 1176.1L1281.7 1166.3L1279.3 1156.6L1277.4 1146.4L1275.1 1163.6L1272 1181L1268.5 1197.8L1264 1216.2L1258.5 1236.1L1252.7 1254.9L1246.1 1274.8L1238.6 1295.7L1232.4 1311.8L1225.7 1327.9L1219.7 1341L1213.4 1353.6L1206.7 1365.5L1199.6 1376.7Z"/>
<path fill="#05fffa" d="M1195.2 1383.2L1187 1394.4L1189.5 1393.7L1198.6 1393L1207.4 1392.9L1216.2 1393.3L1232.9 1394.9L1249.9 1397.6L1270.5 1401.8L1293.9 1407.4L1314.4 1413L1342.7 1421.3L1374.1 1431.1L1408.8 1442.4L1482.3 1467.3L1551.4 1491.9L1695.8 1544.4L1765.7 1568.9L1772.5 1557.2L1778.3 1545.6L1782.6 1534.6L1785.5 1524L1787.1 1513.9L1787.6 1504.4L1759.9 1490.7L1729.2 1476.2L1627.2 1429.3L1589.1 1411.6L1553.4 1394.3L1522.7 1378.7L1486.5 1359.1L1469.6 1349.4L1451.2 1338.4L1435.9 1328.8L1419.4 1318L1403.9 1307.3L1389.3 1296.8L1375.7 1286.4L1363.1 1276.3L1351.4 1266.4L1341.9 1257.8L1333.2 1249.2L1325.1 1240.7L1317.7 1232.1L1310.1 1222.4L1304.1 1213.9L1298.1 1204.3L1292.9 1194.7L1288.5 1185.3L1284.9 1176.1L1281.7 1166.3L1279.3 1156.6L1277.4 1146.4L1275.3 1162.2L1272.4 1179.2L1269 1195.8L1264.6 1214.1L1259.8 1231.6L1254.3 1250.1L1247.9 1269.7L1240.6 1290.3L1234.5 1306.4L1228 1322.6L1222.2 1335.8L1216 1348.6L1209.4 1360.8L1202.5 1372.3Z"/>
<path fill="#10ffef" d="M1199.6 1376.7L1190.8 1389.3L1193.2 1388.7L1202.1 1388.1L1209.9 1388L1218.5 1388.4L1235.9 1390.2L1257.4 1393.8L1277.7 1398.2L1298.1 1403.3L1322.3 1410.1L1351.2 1418.7L1416.1 1439.4L1489.6 1464.4L1557.2 1488.4L1702.6 1541.2L1768.5 1564.2L1774.2 1554L1778.7 1544.6L1782.3 1535.6L1785.1 1525.9L1787 1514.8L1787.6 1504.4L1759.9 1490.7L1729.2 1476.2L1627.2 1429.3L1589.1 1411.6L1553.4 1394.3L1522.7 1378.7L1501.6 1367.5L1484 1357.7L1467.2 1348L1449 1337L1433.8 1327.5L1417.4 1316.7L1402 1306L1387.6 1295.5L1363.1 1276.3L1351.4 1266.4L1341.9 1257.8L1333.2 1249.2L1325.1 1240.7L1317.7 1232.1L1310.1 1222.4L1304.1 1213.9L1298.1 1204.3L1292.9 1194.7L1288.5 1185.3L1284.9 1176.1L1281.7 1166.3L1279.3 1156.6L1277.4 1146.4L1275.3 1162.2L1272.7 1177.5L1269.4 1193.9L1265.6 1209.9L1261.1 1227.1L1256.5 1243.1L1250.4 1262.2L1244.3 1279.9L1237.6 1298.3L1231.3 1314.5L1224.6 1330.6L1218.5 1343.6L1212.1 1356L1206.7 1365.5Z"/>
<path fill="#1bffe4" d="M1202.5 1372.3L1194.4 1384.4L1196 1383.9L1198.8 1383.6L1207.6 1383.2L1216.4 1383.4L1226.3 1384.1L1241.5 1385.9L1259.2 1389.1L1278.7 1393.3L1299.9 1398.7L1322.8 1405.1L1353.5 1414.2L1385.6 1424.3L1421 1435.8L1493.1 1460.2L1559.9 1483.9L1705.3 1536.5L1771.2 1559.6L1775.9 1550.8L1779.6 1542.6L1782.6 1534.6L1784.8 1526.8L1786.9 1515.7L1787.6 1504.4L1759.9 1490.7L1729.2 1476.2L1627.2 1429.3L1589.1 1411.6L1553.4 1394.3L1520 1377.3L1499.1 1366.1L1481.6 1356.3L1464.9 1346.7L1446.7 1335.7L1431.7 1326.1L1415.4 1315.3L1400.1 1304.7L1385.8 1294.2L1372.5 1283.9L1361.6 1275.1L1350 1265.1L1340.6 1256.5L1332 1248L1324 1239.4L1316.7 1230.9L1309.2 1221.2L1303.3 1212.7L1297.4 1203.1L1292.9 1194.7L1288.5 1185.3L1284.9 1176.1L1281.7 1166.3L1279.3 1156.6L1277.4 1146.4L1275.5 1160.9L1273 1175.8L1269.8 1192L1266.1 1207.8L1261.7 1224.9L1257.2 1240.7L1252 1257.4L1246.1 1274.8L1233.5 1309.1L1226.9 1325.3L1221 1338.4L1214.7 1351.1L1209.4 1360.8Z"/>
<path fill="#25ffda" d="M1205.3 1367.8L1197.8 1379.5L1201.6 1378.8L1209.7 1378.5L1216.9 1378.6L1225.3 1379.1L1241.4 1381L1260.5 1384.3L1279.6 1388.5L1301.7 1394.1L1326.9 1401.2L1357.8 1410.4L1425.9 1432.1L1498.5 1456.7L1565.6 1480.5L1711.8 1533.4L1773.6 1555.1L1776.9 1548.7L1780 1541.6L1782.6 1534.6L1784.6 1527.8L1785.9 1522.1L1786.9 1515.7L1787.6 1504.4L1759.9 1490.7L1729.2 1476.2L1627.2 1429.3L1589.1 1411.6L1553.4 1394.3L1520 1377.3L1499.1 1366.1L1481.6 1356.3L1464.9 1346.7L1446.7 1335.7L1431.7 1326.1L1415.4 1315.3L1400.1 1304.7L1385.8 1294.2L1372.5 1283.9L1361.6 1275.1L1350 1265.1L1340.6 1256.5L1332 1248L1324 1239.4L1316.7 1230.9L1309.2 1221.2L1303.3 1212.7L1297.4 1203.1L1292.9 1194.7L1288.5 1185.3L1284.9 1176.1L1281.7 1166.3L1279.3 1156.6L1277.4 1146.4L1275.5 1160.9L1273 1175.8L1270.2 1190.1L1266.6 1205.8L1262.9 1220.5L1258.5 1236.1L1253.5 1252.5L1247.9 1269.7L1241.5 1287.7L1234.5 1306.4L1229.1 1319.9L1223.4 1333.2L1217.2 1346.1L1210.8 1358.4Z"/>
<path fill="#30ffcf" d="M1208.1 1363.2L1201 1374.7L1205.3 1374.1L1212.8 1373.8L1227.8 1374.5L1243.9 1376.4L1262.9 1379.8L1283.4 1384.4L1305 1390L1332.3 1397.7L1364.2 1407.3L1430.8 1428.4L1503.8 1453.2L1569.5 1476.5L1714.2 1528.9L1775.9 1550.7L1780.8 1539.5L1784.3 1528.8L1785.7 1523.1L1786.8 1516.6L1787.4 1510.4L1787.6 1504.4L1759.9 1490.7L1729.2 1476.2L1627.2 1429.3L1589.1 1411.6L1553.4 1394.3L1520 1377.3L1499.1 1366.1L1481.6 1356.3L1464.9 1346.7L1446.7 1335.7L1429.6 1324.8L1413.5 1314L1398.3 1303.3L1384.1 1292.9L1370.9 1282.6L1360.1 1273.8L1350 1265.1L1340.6 1256.5L1332 1248L1324 1239.4L1316.7 1230.9L1309.2 1221.2L1303.3 1212.7L1297.4 1203.1L1292.9 1194.7L1288.5 1185.3L1284.9 1176.1L1281.7 1166.3L1279.3 1156.6L1277.4 1146.4L1275.7 1159.6L1273.3 1174.2L1270.6 1188.2L1267.1 1203.7L1263.5 1218.4L1259.2 1233.9L1249.5 1264.7L1236.6 1301L1230.2 1317.2L1224.6 1330.6L1218.5 1343.6L1213.4 1353.6Z"/>
<path fill="#3affc5" d="M1210.8 1358.4L1204 1370L1208.2 1369.4L1216 1369.2L1224 1369.5L1233.2 1370.2L1252.6 1373L1274.3 1377.4L1294.5 1382.2L1318.9 1388.8L1348.3 1397.4L1381.4 1407.5L1445.8 1428.2L1514.9 1451.8L1580.1 1475L1720.4 1525.9L1778 1546.3L1781.6 1537.6L1784.1 1529.7L1785.5 1524L1786.7 1517.5L1787.3 1511.3L1787.6 1504.4L1759.9 1490.7L1729.2 1476.2L1627.2 1429.3L1589.1 1411.6L1553.4 1394.3L1520 1377.3L1499.1 1366.1L1481.6 1356.3L1464.9 1346.7L1446.7 1335.7L1429.6 1324.8L1413.5 1314L1398.3 1303.3L1384.1 1292.9L1370.9 1282.6L1360.1 1273.8L1350 1265.1L1340.6 1256.5L1332 1248L1324 1239.4L1316.7 1230.9L1309.2 1221.2L1303.3 1212.7L1297.4 1203.1L1292.9 1194.7L1288.5 1185.3L1284.9 1176.1L1281.7 1166.3L1279.3 1156.6L1277.4 1146.4L1275.7 1159.6L1273.6 1172.6L1271 1186.4L1268.1 1199.7L1261.1 1227.1L1252 1257.4L1239.6 1293L1233.5 1309.1L1228 1322.6L1222.2 1335.8L1217.2 1346.1Z"/>
<path fill="#45ffba" d="M1213.4 1353.6L1206.8 1365.3L1211.7 1364.8L1219.2 1364.6L1227.1 1365L1236.3 1365.8L1255.2 1368.6L1277.8 1373.3L1299.7 1378.7L1324.5 1385.4L1355.4 1394.5L1388 1404.4L1453.3 1425.5L1523.1 1449.5L1579.1 1469.4L1714.6 1518.7L1779.8 1542.1L1783.8 1530.7L1785.5 1524L1786.7 1517.5L1787.3 1511.3L1787.6 1504.4L1759.9 1490.7L1729.2 1476.2L1627.2 1429.3L1589.1 1411.6L1553.4 1394.3L1520 1377.3L1499.1 1366.1L1481.6 1356.3L1462.6 1345.3L1444.5 1334.3L1427.5 1323.4L1411.5 1312.6L1396.5 1302L1382.4 1291.6L1369.3 1281.4L1358.6 1272.6L1348.6 1263.9L1339.3 1255.3L1330.8 1246.8L1322.9 1238.2L1315.7 1229.7L1308.3 1220L1302.5 1211.5L1296.7 1201.9L1292.3 1193.5L1288 1184.1L1284.5 1175L1281.5 1165.2L1279.1 1155.8L1277.4 1146.4L1273.8 1171L1268.5 1197.8L1261.7 1224.9L1252.7 1254.9L1241.5 1287.7L1230.2 1317.2L1219.7 1341Z"/>
<path fill="#50ffaf" d="M1216 1348.6L1209.5 1360.7L1213.8 1360.3L1220.9 1360.1L1236.1 1361.1L1253.7 1363.6L1274.6 1367.7L1292.7 1372L1314.5 1377.7L1366.6 1392.8L1401.4 1403.6L1440 1416L1476.8 1428.3L1516.4 1442L1584.5 1466.2L1781.4 1537.9L1783.5 1531.7L1785.3 1524.9L1786.5 1518.4L1787.3 1511.3L1787.6 1504.4L1759.9 1490.7L1729.2 1476.2L1627.2 1429.3L1589.1 1411.6L1553.4 1394.3L1520 1377.3L1499.1 1366.1L1481.6 1356.3L1462.6 1345.3L1444.5 1334.3L1427.5 1323.4L1411.5 1312.6L1396.5 1302L1382.4 1291.6L1369.3 1281.4L1358.6 1272.6L1348.6 1263.9L1339.3 1255.3L1330.8 1246.8L1322.9 1238.2L1315.7 1229.7L1308.3 1220L1302.5 1211.5L1296.7 1201.9L1292.3 1193.5L1288 1184.1L1284.5 1175L1281.5 1165.2L1279.1 1155.8L1277.4 1146.4L1273.8 1171L1269 1195.8L1262.3 1222.7L1254.3 1250.1L1243.4 1282.5L1231.3 1314.5L1221 1338.4Z"/>
<path fill="#5affa5" d="M1217.2 1346.1L1212 1356.2L1217 1355.7L1223.9 1355.7L1238.3 1356.7L1255 1359.1L1274 1362.8L1296.2 1368L1321.7 1374.8L1352.7 1383.7L1385.6 1393.6L1447.2 1413.3L1515.5 1436.6L1591.4 1463.7L1782.8 1533.8L1783.2 1532.6L1785.1 1525.9L1786.5 1518.4L1787.3 1511.3L1787.6 1504.4L1759.9 1490.7L1729.2 1476.2L1623.9 1427.8L1586 1410.1L1550.5 1392.9L1517.3 1375.9L1496.5 1364.7L1479.1 1355L1460.3 1343.9L1442.4 1332.9L1425.5 1322.1L1409.6 1311.3L1394.7 1300.7L1380.7 1290.3L1367.7 1280.1L1357.1 1271.3L1347.2 1262.7L1338.1 1254.1L1329.6 1245.5L1321.8 1237L1314.7 1228.5L1308.3 1220L1302.5 1211.5L1296.7 1201.9L1292.3 1193.5L1288 1184.1L1284.5 1175L1281.5 1165.2L1279.1 1155.8L1277.4 1146.4L1273.8 1171L1269 1195.8L1262.9 1220.5L1255 1247.8L1244.3 1279.9L1232.4 1311.8L1222.2 1335.8Z"/>
<path fill="#65ff9a" d="M1224.6 1330.6L1214.4 1351.7L1219.7 1351.3L1226.8 1351.3L1234.8 1351.8L1244 1352.8L1261.5 1355.6L1281.2 1359.6L1305.4 1365.5L1332.4 1372.9L1366.6 1382.9L1401 1393.4L1467.4 1415.1L1539.2 1440L1610.2 1465.7L1784.1 1529.8L1785.5 1524L1786.7 1517.5L1787.3 1511.3L1787.6 1504.4L1759.9 1490.7L1729.2 1476.2L1627.2 1429.3L1589.1 1411.6L1553.4 1394.3L1520 1377.3L1499.1 1366.1L1481.6 1356.3L1464.9 1346.7L1446.7 1335.7L1429.6 1324.8L1413.5 1314L1398.3 1303.3L1384.1 1292.9L1370.9 1282.6L1360.1 1273.8L1350 1265.1L1340.6 1256.5L1332 1248L1324 1239.4L1316.7 1230.9L1309.2 1221.2L1303.3 1212.7L1297.4 1203.1L1292.9 1194.7L1288.5 1185.3L1284.9 1176.1L1281.7 1166.3L1279.3 1156.6L1277.4 1146.4L1274.1 1169.4L1269.4 1193.9L1263.5 1218.4L1255.7 1245.4L1246.1 1274.8L1234.5 1306.4Z"/>
<path fill="#70ff8f" d="M1226.9 1325.3L1216.7 1347.3L1222.8 1346.9L1230.8 1347L1239.9 1347.7L1249.8 1349L1266.9 1351.9L1287.2 1356.3L1310.9 1362.1L1337.9 1369.6L1371.8 1379.5L1407.5 1390.6L1472.5 1411.9L1546.2 1437.6L1623.1 1465.7L1785.1 1525.8L1787 1514.8L1787.6 1504.4L1759.9 1490.7L1729.2 1476.2L1627.2 1429.3L1589.1 1411.6L1553.4 1394.3L1522.7 1378.7L1501.6 1367.5L1484 1357.7L1467.2 1348L1449 1337L1433.8 1327.5L1417.4 1316.7L1402 1306L1387.6 1295.5L1363.1 1276.3L1351.4 1266.4L1341.9 1257.8L1333.2 1249.2L1325.1 1240.7L1317.7 1232.1L1310.1 1222.4L1304.1 1213.9L1298.1 1204.3L1292.9 1194.7L1288.5 1185.3L1284.9 1176.1L1281.7 1166.3L1279.3 1156.6L1277.4 1146.4L1274.1 1169.4L1269.8 1192L1264 1216.2L1257.2 1240.7L1247.9 1269.7L1236.6 1301Z"/>
<path fill="#7aff85" d="M1229.1 1319.9L1218.8 1342.9L1224.6 1342.5L1232.2 1342.7L1240.3 1343.2L1249.6 1344.4L1270 1347.8L1294.7 1353.3L1318.2 1359.3L1346.2 1367.1L1380.9 1377.4L1415.1 1388.1L1447.9 1398.8L1480.7 1409.8L1552.3 1435.1L1630.6 1463.8L1785.9 1522L1787.2 1513L1787.6 1504.4L1759.9 1490.7L1729.2 1476.2L1627.2 1429.3L1589.1 1411.6L1556.2 1395.7L1525.4 1380.1L1489 1360.5L1471.9 1350.8L1453.4 1339.8L1438 1330.2L1421.4 1319.4L1405.8 1308.6L1391.1 1298.1L1377.4 1287.7L1364.6 1277.6L1352.8 1267.6L1343.2 1259L1334.4 1250.4L1326.2 1241.9L1318.7 1233.4L1311 1223.6L1304.9 1215.2L1298.8 1205.5L1293.5 1195.9L1289 1186.4L1284.9 1176.1L1281.7 1166.3L1279.3 1156.6L1277.4 1146.4L1274.4 1167.9L1270.2 1190.1L1264.6 1214.1L1257.8 1238.4L1248.7 1267.2L1238.6 1295.7Z"/>
<path fill="#85ff7a" d="M1221 1338.4L1227.8 1338.2L1234.2 1338.3L1249 1339.7L1267.2 1342.7L1289.7 1347.4L1313.9 1353.4L1341.7 1361L1374.5 1370.6L1411.2 1382L1444.2 1392.7L1478.1 1404.2L1552.1 1430.3L1636.1 1461.4L1786.6 1518.2L1787.3 1511.3L1787.6 1504.4L1759.9 1490.7L1729.2 1476.2L1627.2 1429.3L1589.1 1411.6L1556.2 1395.7L1525.4 1380.1L1489 1360.5L1455.7 1341.2L1440.2 1331.6L1423.4 1320.7L1409.6 1311.3L1394.7 1300.7L1380.7 1290.3L1367.7 1280.1L1355.7 1270.1L1345.9 1261.4L1335.6 1251.6L1327.3 1243.1L1319.7 1234.6L1311.9 1224.9L1304.9 1215.2L1298.8 1205.5L1293.5 1195.9L1289 1186.4L1284.9 1176.1L1281.7 1166.3L1279.3 1156.6L1277.4 1146.4L1274.4 1167.9L1270.2 1190.1L1265.1 1212L1258.5 1236.1L1249.5 1264.7L1239.6 1293L1230.2 1317.2Z"/>
<path fill="#8fff70" d="M1232.4 1311.8L1222.9 1334.2L1229.7 1333.9L1237.4 1334.1L1246.5 1334.9L1256.5 1336.3L1274.9 1339.5L1296.4 1344.3L1319.7 1350.1L1349 1358.3L1382.4 1368.2L1417.6 1379.3L1448.8 1389.5L1482.3 1400.9L1556.5 1427.4L1646 1460.7L1787 1514.4L1787.6 1504.4L1759.9 1490.7L1729.2 1476.2L1592.2 1413L1559.1 1397.1L1528.1 1381.5L1491.5 1361.9L1458 1342.5L1442.4 1332.9L1425.5 1322.1L1411.5 1312.6L1396.5 1302L1382.4 1291.6L1369.3 1281.4L1357.1 1271.3L1345.9 1261.4L1335.6 1251.6L1327.3 1243.1L1319.7 1234.6L1311.9 1224.9L1304.9 1215.2L1298.8 1205.5L1293.5 1195.9L1289 1186.4L1284.9 1176.1L1281.7 1166.3L1279.3 1156.6L1277.4 1146.4L1274.6 1166.4L1270.6 1188.2L1265.6 1209.9L1259.2 1233.9L1251.2 1259.8L1241.5 1287.7Z"/>
<path fill="#9aff65" d="M1234.5 1306.4L1224.8 1329.9L1231.1 1329.6L1238.6 1329.8L1246.7 1330.5L1256.3 1331.7L1278 1335.5L1304.6 1341.6L1329.7 1348.1L1360.2 1356.8L1392.8 1366.7L1426.2 1377.4L1458.5 1388.1L1491.8 1399.6L1564.4 1425.8L1657.1 1460.7L1787.4 1510.8L1787.6 1504.4L1783.6 1502.4L1756 1488.8L1725.5 1474.4L1623.9 1427.8L1586 1410.1L1547.6 1391.4L1512 1373.1L1481.6 1356.3L1453.4 1339.8L1425.5 1322.1L1400.1 1304.7L1385.8 1294.2L1372.5 1283.9L1360.1 1273.8L1348.6 1263.9L1338.1 1254.1L1328.5 1244.3L1320.8 1235.8L1312.8 1226.1L1305.7 1216.4L1299.5 1206.7L1294.1 1197.1L1289.5 1187.6L1285.3 1177.2L1282.1 1167.3L1279.3 1156.6L1277.4 1146.4L1274.6 1166.4L1270.6 1188.2L1265.6 1209.9L1259.8 1231.6L1252.7 1254.9L1244.3 1279.9Z"/>
<path fill="#a5ff5a" d="M1235.6 1303.7L1226.7 1325.6L1233.5 1325.4L1241.7 1325.7L1256.6 1327.3L1276.1 1330.6L1297.8 1335.3L1321.7 1341.2L1348.8 1348.8L1383.7 1359.2L1418.5 1370.2L1451.8 1381.2L1483.6 1392.2L1518.3 1404.5L1558.8 1419.4L1655.5 1455.9L1787.6 1507.2L1787.6 1504.4L1763.8 1492.6L1718 1470.9L1627.2 1429.3L1592.2 1413L1556.2 1395.7L1522.7 1378.7L1489 1360.5L1458 1342.5L1429.6 1324.8L1403.9 1307.3L1389.3 1296.8L1374.1 1285.2L1361.6 1275.1L1350 1265.1L1339.3 1255.3L1329.6 1245.5L1321.8 1237L1313.8 1227.3L1306.6 1217.6L1300.2 1207.9L1294.7 1198.3L1289.5 1187.6L1285.3 1177.2L1282.1 1167.3L1279.3 1156.6L1277.4 1146.4L1274.6 1166.4L1271 1186.4L1266.1 1207.8L1260.5 1229.4L1253.5 1252.5L1245.2 1277.3Z"/>
<path fill="#afff50" d="M1237.6 1298.3L1228.5 1321.4L1235.7 1321.1L1244.2 1321.5L1254.4 1322.5L1265.8 1324.2L1285.1 1327.8L1305.2 1332.4L1329.4 1338.7L1357.6 1346.7L1389.4 1356.3L1424 1367.4L1455.6 1378L1487.8 1389.2L1559.8 1415.5L1651.8 1450.6L1780.2 1500.7L1756 1488.8L1725.5 1474.4L1592.2 1413L1559.1 1397.1L1530.9 1382.9L1494 1363.3L1462.6 1345.3L1431.7 1326.1L1403.9 1307.3L1389.3 1296.8L1374.1 1285.2L1361.6 1275.1L1350 1265.1L1339.3 1255.3L1329.6 1245.5L1321.8 1237L1313.8 1227.3L1306.6 1217.6L1300.2 1207.9L1294.7 1198.3L1289.5 1187.6L1285.3 1177.2L1282.1 1167.3L1279.3 1156.6L1277.4 1146.4L1274.6 1166.4L1271 1186.4L1266.6 1205.8L1261.1 1227.1L1254.3 1250.1L1247 1272.2Z"/>
<path fill="#baff45" d="M1239.6 1293L1230.3 1317.2L1236.5 1316.9L1243.8 1317.1L1252.7 1317.9L1262.5 1319.2L1284.3 1323.1L1309.8 1328.9L1333.1 1335.1L1359.4 1342.6L1389.6 1351.8L1419.5 1361.4L1449.5 1371.5L1479.1 1381.8L1545.8 1406.1L1625.8 1436.6L1740.4 1481.4L1595.3 1414.5L1556.2 1395.7L1522.7 1378.7L1489 1360.5L1455.7 1341.2L1425.5 1322.1L1411.5 1312.6L1396.5 1302L1382.4 1291.6L1369.3 1281.4L1357.1 1271.3L1345.9 1261.4L1335.6 1251.6L1327.3 1243.1L1319.7 1234.6L1311.9 1224.9L1304.9 1215.2L1298.8 1205.5L1293.5 1195.9L1289 1186.4L1284.9 1176.1L1281.7 1166.3L1279.3 1156.6L1277.4 1146.4L1274.8 1165L1271.3 1184.5L1267.1 1203.7L1261.7 1224.9L1255.7 1245.4L1248.7 1267.2Z"/>
<path fill="#c5ff3a" d="M1240.6 1290.3L1232 1312.9L1238.2 1312.7L1245.5 1312.9L1254.4 1313.7L1264.2 1315L1280.1 1317.7L1298.4 1321.6L1318.8 1326.6L1341.4 1332.8L1368.4 1340.7L1396.5 1349.4L1425 1358.7L1455.2 1369L1516.4 1391L1588.6 1418.3L1688.9 1457.5L1620.6 1426.3L1576.9 1405.8L1539.2 1387.2L1504.2 1368.9L1471.9 1350.8L1440.2 1331.6L1411.5 1312.6L1398.3 1303.3L1384.1 1292.9L1370.9 1282.6L1360.1 1273.8L1350 1265.1L1340.6 1256.5L1332 1248L1324 1239.4L1316.7 1230.9L1309.2 1221.2L1303.3 1212.7L1297.4 1203.1L1292.9 1194.7L1288.5 1185.3L1284.9 1176.1L1281.7 1166.3L1279.3 1156.6L1277.4 1146.4L1274.8 1165L1271.7 1182.7L1267.6 1201.7L1262.3 1222.7L1256.5 1243.1L1249.5 1264.7Z"/>
<path fill="#cfff30" d="M1242.5 1285.1L1233.6 1308.8L1238.9 1308.5L1245.3 1308.6L1261.2 1310.1L1279.4 1313.1L1300.4 1317.5L1317.4 1321.7L1337.8 1327.2L1360.5 1333.8L1385.5 1341.5L1439 1359.1L1493.7 1378.5L1555.8 1401.8L1631.7 1431.4L1583 1408.7L1544.8 1390L1509.4 1371.7L1476.7 1353.6L1446.7 1335.7L1419.4 1318L1392.9 1299.4L1367.7 1280.1L1357.1 1271.3L1347.2 1262.7L1338.1 1254.1L1330.8 1246.8L1324 1239.4L1316.7 1230.9L1311 1223.6L1304.9 1215.2L1299.5 1206.7L1294.7 1198.3L1290.6 1190L1287.1 1181.8L1283.7 1172.7L1281.2 1164.2L1279.1 1155.8L1277.4 1146.4L1274.8 1165L1271.7 1182.7L1267.6 1201.7L1262.9 1220.5L1257.2 1240.7L1250.4 1262.2Z"/>
<path fill="#daff25" d="M1243.4 1282.5L1235.3 1304.6L1246.2 1304.4L1261 1305.7L1273.4 1307.6L1288 1310.3L1303.6 1313.8L1321.2 1318.2L1340.3 1323.4L1361.9 1329.7L1411.4 1345.4L1462.4 1363L1517.1 1383.1L1582.8 1408.6L1544.8 1390L1512 1373.1L1481.6 1356.3L1453.4 1339.8L1427.5 1323.4L1402 1306L1377.4 1287.7L1355.7 1270.1L1339.3 1255.3L1325.1 1240.7L1318.7 1233.4L1312.8 1226.1L1307.4 1218.8L1301.8 1210.3L1297.4 1203.1L1292.9 1194.7L1289.5 1187.6L1286.2 1179.5L1283.4 1171.6L1280.9 1163.2L1278.9 1154.9L1277.4 1146.4L1274.8 1165L1271.7 1182.7L1267.6 1201.7L1262.9 1220.5L1257.2 1240.7L1251.2 1259.8Z"/>
<path fill="#e4ff1b" d="M1245.2 1277.3L1236.8 1300.4L1247.2 1300.3L1260.1 1301.3L1275 1303.4L1292 1306.7L1321.2 1313.7L1354.9 1323.2L1399 1337L1444.2 1352.4L1493.4 1370.2L1545.2 1390.2L1514.7 1374.5L1484 1357.7L1458 1342.5L1431.7 1326.1L1407.7 1310L1384.1 1292.9L1363.1 1276.3L1345.9 1261.4L1330.8 1246.8L1318.7 1233.4L1308.3 1220L1303.3 1212.7L1298.8 1205.5L1294.7 1198.3L1291.2 1191.1L1285.3 1177.2L1282.7 1169.5L1280.6 1162.2L1278.8 1154.1L1277.4 1146.4L1275.1 1163.6L1272 1181L1268.1 1199.7L1263.5 1218.4L1257.8 1238.4L1252 1257.4Z"/>
<path fill="#efff10" d="M1246.1 1274.8L1238.4 1296.3L1248.2 1296.1L1260 1296.9L1270.6 1298.3L1281.9 1300.2L1294.7 1302.8L1309 1306.1L1340.4 1314.5L1380 1326.5L1424.7 1341.3L1471.1 1358L1515.7 1375L1489 1360.5L1462.6 1345.3L1438 1330.2L1415.4 1315.3L1392.9 1299.4L1372.5 1283.9L1354.2 1268.9L1339.3 1255.3L1327.3 1243.1L1315.7 1229.7L1305.7 1216.4L1297.4 1203.1L1293.5 1195.9L1290.1 1188.8L1284.5 1175L1280.4 1161.2L1277.4 1146.4L1275.1 1163.6L1272 1181L1268.5 1197.8L1264 1216.2L1258.5 1236.1L1252.7 1254.9Z"/>
<path fill="#faff05" d="M1247.9 1269.7L1239.9 1292.1L1248.6 1291.9L1259.9 1292.6L1272.3 1294.2L1286.7 1296.7L1310.4 1302L1337.8 1309.3L1373.5 1320.1L1413.2 1333.2L1454.3 1347.8L1491.5 1361.9L1467.2 1348L1444.5 1334.3L1423.4 1320.7L1402 1306L1382.4 1291.6L1363.1 1276.3L1347.2 1262.7L1334.4 1250.4L1322.9 1238.2L1312.8 1226.1L1304.1 1213.9L1296 1200.7L1289.5 1187.6L1284.1 1173.8L1280.2 1160.3L1277.4 1146.4L1275.3 1162.2L1272.4 1179.2L1269 1195.8L1264.6 1214.1L1259.8 1231.6L1254.3 1250.1Z"/>
<path fill="#fffa00" d="M1248.7 1267.2L1241.4 1288L1249.1 1287.7L1258.4 1288.2L1267.2 1289.2L1277.5 1290.7L1300 1295.2L1327.1 1302L1359.6 1311.5L1397 1323.5L1436.4 1337.3L1471.2 1350.4L1449 1337L1427.5 1323.4L1407.7 1310L1389.3 1296.8L1370.9 1282.6L1355.7 1270.1L1341.9 1257.8L1329.6 1245.5L1318.7 1233.4L1309.2 1221.2L1301 1209.1L1294.1 1197.1L1288.5 1185.3L1283.7 1172.7L1279.9 1159.3L1277.4 1146.4L1275.3 1162.2L1272.4 1179.2L1269 1195.8L1265.1 1212L1260.5 1229.4L1255 1247.8Z"/>
<path fill="#ffef00" d="M1249.5 1264.7L1242.9 1283.9L1250.6 1283.6L1259.9 1284.1L1270.4 1285.3L1282.5 1287.2L1303.3 1291.5L1326.6 1297.5L1355.2 1305.8L1388.1 1316.4L1423.1 1328.5L1453.6 1339.9L1433.8 1327.5L1415.4 1315.3L1396.5 1302L1379 1289L1363.1 1276.3L1348.6 1263.9L1335.6 1251.6L1325.1 1240.7L1315.7 1229.7L1306.6 1217.6L1299.5 1206.7L1292.9 1194.7L1287.5 1182.9L1283 1170.5L1279.7 1158.4L1277.4 1146.4L1275.3 1162.2L1272.7 1177.5L1269.4 1193.9L1265.6 1209.9L1261.1 1227.1L1255.7 1245.4Z"/>
<path fill="#ffe400" d="M1251.2 1259.8L1244.4 1279.8L1251 1279.5L1259.3 1279.8L1268.4 1280.7L1278.4 1282.2L1301.1 1286.7L1326 1293L1351.6 1300.4L1380.6 1309.7L1410.9 1320.2L1438 1330.2L1419.4 1318L1402 1306L1385.8 1294.2L1369.3 1281.4L1355.7 1270.1L1343.2 1259L1332 1248L1321.8 1237L1312.8 1226.1L1304.9 1215.2L1298.1 1204.3L1292.3 1193.5L1287.1 1181.8L1283 1170.5L1279.7 1158.4L1277.4 1146.4L1275.5 1160.9L1273 1175.8L1269.8 1192L1266.1 1207.8L1261.7 1224.9L1257.2 1240.7Z"/>
<path fill="#ffda00" d="M1252 1257.4L1245.8 1275.6L1252.5 1275.4L1260 1275.7L1269 1276.5L1278.8 1277.9L1296.8 1281.4L1316.8 1286.2L1341.4 1293.1L1368.4 1301.6L1399.3 1312L1424.1 1321.2L1407.7 1310L1391.1 1298.1L1375.7 1286.4L1361.6 1275.1L1348.6 1263.9L1338.1 1254.1L1328.5 1244.3L1318.7 1233.4L1311 1223.6L1303.3 1212.7L1296.7 1201.9L1291.2 1191.1L1286.6 1180.6L1282.7 1169.5L1279.7 1158.4L1277.4 1146.4L1275.5 1160.9L1273 1175.8L1269.8 1192L1266.1 1207.8L1261.7 1224.9L1257.2 1240.7Z"/>
<path fill="#ffcf00" d="M1253.5 1252.5L1247.2 1271.5L1252.9 1271.3L1260.1 1271.5L1267.9 1272.2L1276.4 1273.3L1294.7 1276.6L1316.9 1281.9L1338.1 1287.9L1362.5 1295.5L1389.4 1304.6L1411.5 1312.6L1396.5 1302L1380.7 1290.3L1366.2 1278.8L1354.2 1268.9L1343.2 1259L1333.2 1249.2L1324 1239.4L1315.7 1229.7L1308.3 1220L1301 1209.1L1295.4 1199.5L1290.1 1188.8L1285.7 1178.3L1282.4 1168.4L1279.5 1157.5L1277.4 1146.4L1275.5 1160.9L1273 1175.8L1270.2 1190.1L1266.6 1205.8L1262.9 1220.5L1258.5 1236.1Z"/>
<path fill="#ffc500" d="M1254.3 1250.1L1248.6 1267.5L1254.7 1267.2L1261.5 1267.4L1275 1268.8L1290.8 1271.6L1308.7 1275.6L1329 1281L1351.9 1288L1377.8 1296.5L1400 1304.6L1385.8 1294.2L1372.5 1283.9L1360.1 1273.8L1348.6 1263.9L1338.1 1254.1L1328.5 1244.3L1320.8 1235.8L1312.8 1226.1L1305.7 1216.4L1299.5 1206.7L1294.1 1197.1L1289.5 1187.6L1285.3 1177.2L1282.1 1167.3L1279.3 1156.6L1277.4 1146.4L1275.7 1159.6L1273.3 1174.2L1270.6 1188.2L1267.1 1203.7L1263.5 1218.4L1259.2 1233.9Z"/>
<path fill="#ffba00" d="M1259.8 1231.6L1250 1263.4L1256.1 1263.1L1262.8 1263.4L1270.6 1264.1L1279.3 1265.2L1293.6 1267.9L1308.6 1271.3L1326.8 1276.2L1347 1282.3L1370 1289.9L1389.4 1296.8L1375.7 1286.4L1363.1 1276.3L1351.4 1266.4L1341.9 1257.8L1333.2 1249.2L1325.1 1240.7L1317.7 1232.1L1310.1 1222.4L1304.1 1213.9L1298.1 1204.3L1292.9 1194.7L1288.5 1185.3L1284.9 1176.1L1281.7 1166.3L1279.3 1156.6L1277.4 1146.4L1275.7 1159.6L1273.3 1174.2L1270.6 1188.2L1267.6 1201.7L1264 1216.2Z"/>
<path fill="#ffaf00" d="M1261.1 1227.1L1251.3 1259.3L1256.6 1259.1L1262.2 1259.2L1275.8 1260.5L1291.7 1263.3L1308.9 1267.2L1325 1271.5L1342.3 1276.7L1362.5 1283.3L1379.6 1289.4L1357.1 1271.3L1347.2 1262.7L1338.1 1254.1L1329.6 1245.5L1321.8 1237L1314.7 1228.5L1308.3 1220L1302.5 1211.5L1296.7 1201.9L1292.3 1193.5L1288 1184.1L1284.5 1175L1281.5 1165.2L1279.1 1155.8L1277.4 1146.4L1275.7 1159.6L1273.6 1172.6L1271 1186.4L1268.1 1199.7Z"/>
<path fill="#ffa500" d="M1261.7 1224.9L1252.6 1255.3L1257.9 1255L1264.1 1255.2L1274.1 1256.1L1286.8 1258.1L1300.5 1261L1316.8 1265.1L1333.8 1270L1353.3 1276.2L1370.4 1282.3L1360.1 1273.8L1350 1265.1L1340.6 1256.5L1333.2 1249.2L1326.2 1241.9L1318.7 1233.4L1311.9 1224.9L1305.7 1216.4L1300.2 1207.9L1295.4 1199.5L1291.2 1191.1L1287.5 1182.9L1284.1 1173.8L1281.5 1165.2L1279.1 1155.8L1277.4 1146.4L1273.8 1171L1268.5 1197.8Z"/>
<path fill="#ff9a00" d="M1262.3 1222.7L1253.9 1251.2L1263.1 1251.1L1274.3 1252L1287 1254L1301.2 1257L1315.2 1260.5L1330.7 1265L1347.5 1270.3L1361.9 1275.4L1344.6 1260.2L1335.6 1251.6L1328.5 1244.3L1321.8 1237L1314.7 1228.5L1309.2 1221.2L1303.3 1212.7L1298.8 1205.5L1294.1 1197.1L1290.1 1188.8L1286.6 1180.6L1283.7 1172.7L1281.2 1164.2L1279.1 1155.8L1277.4 1146.4L1273.8 1171L1269 1195.8Z"/>
<path fill="#ff8f00" d="M1263.5 1218.4L1255.2 1247.2L1264.1 1247L1274.7 1247.9L1287.2 1249.8L1301.1 1252.8L1313.5 1255.9L1326.2 1259.6L1341.1 1264.3L1354.1 1268.7L1338.1 1254.1L1324 1239.4L1317.7 1232.1L1311.9 1224.9L1306.6 1217.6L1301 1209.1L1296.7 1201.9L1292.3 1193.5L1289 1186.4L1285.7 1178.3L1283 1170.5L1280.6 1162.2L1278.8 1154.1L1277.4 1146.4L1274.1 1169.4L1269.4 1193.9Z"/>
<path fill="#ff8500" d="M1256.5 1243.1L1264.4 1243L1272.9 1243.6L1282.9 1245L1293.9 1247L1305.7 1249.8L1319.5 1253.5L1334.8 1258.2L1346.9 1262.3L1332 1248L1319.7 1234.6L1309.2 1221.2L1304.1 1213.9L1299.5 1206.7L1295.4 1199.5L1291.7 1192.3L1288.5 1185.3L1285.3 1177.2L1282.7 1169.5L1280.6 1162.2L1278.8 1154.1L1277.4 1146.4L1274.1 1169.4L1269.4 1193.9L1263.5 1218.4Z"/>
<path fill="#ff7a00" d="M1264.6 1214.1L1257.6 1239.1L1266.1 1239L1276.1 1239.9L1284.8 1241.2L1293.8 1242.9L1305 1245.5L1316.4 1248.6L1329.2 1252.5L1340.3 1256.2L1327.3 1243.1L1315.7 1229.7L1305.7 1216.4L1297.4 1203.1L1293.5 1195.9L1290.1 1188.8L1284.5 1175L1280.4 1161.2L1277.4 1146.4L1274.4 1167.9L1270.2 1190.1Z"/>
<path fill="#ff7000" d="M1265.6 1209.9L1258.8 1235.1L1265.7 1235L1274.4 1235.6L1284.1 1236.9L1294.7 1239L1313.6 1243.8L1334.2 1250.3L1322.9 1238.2L1312.8 1226.1L1304.1 1213.9L1296 1200.7L1289.5 1187.6L1284.1 1173.8L1280.2 1160.3L1277.4 1146.4L1274.6 1166.4L1270.6 1188.2Z"/>
<path fill="#ff6500" d="M1266.1 1207.8L1260 1231.1L1266.8 1231L1275.4 1231.6L1285.1 1233L1295.3 1235.1L1312 1239.3L1328.7 1244.5L1318.7 1233.4L1309.2 1221.2L1301 1209.1L1294.1 1197.1L1288.5 1185.3L1283.7 1172.7L1279.9 1159.3L1277.4 1146.4L1274.6 1166.4L1271 1186.4Z"/>
<path fill="#ff5a00" d="M1261.1 1227.1L1266.6 1227L1272.7 1227.3L1279.9 1228.1L1287.6 1229.4L1305.2 1233.5L1323.6 1239L1314.7 1228.5L1306.6 1217.6L1299.5 1206.7L1292.9 1194.7L1287.5 1182.9L1283 1170.5L1279.7 1158.4L1277.4 1146.4L1274.6 1166.4L1271 1186.4L1266.6 1205.8Z"/>
<path fill="#ff5000" d="M1267.6 1201.7L1262.2 1223.2L1268.5 1223.1L1275.5 1223.6L1287.6 1225.4L1302.9 1228.9L1318.9 1233.6L1311 1223.6L1303.3 1212.7L1296.7 1201.9L1291.2 1191.1L1286.6 1180.6L1282.7 1169.5L1279.7 1158.4L1277.4 1146.4L1274.8 1165L1271.7 1182.7Z"/>
<path fill="#ff4500" d="M1268.1 1199.7L1263.2 1219.2L1268.6 1219.1L1274.6 1219.5L1288.4 1221.5L1301.4 1224.5L1314.6 1228.4L1307.4 1218.8L1301 1209.1L1295.4 1199.5L1290.1 1188.8L1285.7 1178.3L1282.4 1168.4L1279.5 1157.5L1277.4 1146.4L1275.1 1163.6L1272 1181Z"/>
<path fill="#ff3a00" d="M1269 1195.8L1264.3 1215.3L1269.2 1215.2L1275.1 1215.5L1288.4 1217.5L1299.4 1220.1L1310.7 1223.3L1304.1 1213.9L1298.8 1205.5L1293.5 1195.9L1289 1186.4L1284.9 1176.1L1281.7 1166.3L1279.3 1156.6L1277.4 1146.4L1275.3 1162.2L1272.4 1179.2Z"/>
<path fill="#ff3000" d="M1269.4 1193.9L1265.3 1211.3L1273.7 1211.4L1283.3 1212.6L1294.8 1215L1307.1 1218.3L1301 1209.1L1296 1200.7L1291.7 1192.3L1287.5 1182.9L1284.1 1173.8L1281.5 1165.2L1279.1 1155.8L1277.4 1146.4L1275.3 1162.2L1272.7 1177.5Z"/>
<path fill="#ff2500" d="M1270.2 1190.1L1266.2 1207.4L1273.7 1207.5L1282.8 1208.6L1293.1 1210.6L1303.8 1213.5L1298.8 1205.5L1294.1 1197.1L1290.1 1188.8L1286.6 1180.6L1283.7 1172.7L1281.2 1164.2L1279.1 1155.8L1277.4 1146.4L1275.5 1160.9L1273 1175.8Z"/>
<path fill="#ff1b00" d="M1270.6 1188.2L1267.2 1203.5L1274 1203.6L1282.2 1204.5L1291.3 1206.3L1300.8 1208.7L1296 1200.7L1292.3 1193.5L1289 1186.4L1285.7 1178.3L1283 1170.5L1280.6 1162.2L1278.8 1154.1L1277.4 1146.4L1275.7 1159.6L1273.3 1174.2Z"/>
<path fill="#ff1000" d="M1273.8 1171L1268.1 1199.6L1274 1199.7L1281.1 1200.4L1289.4 1201.9L1298 1204.1L1294.1 1197.1L1290.6 1190L1284.9 1176.1L1282.4 1168.4L1280.4 1161.2L1277.4 1146.4Z"/>
<path fill="#ff0500" d="M1274.1 1169.4L1269 1195.7L1274.4 1195.8L1280.7 1196.4L1288.1 1197.8L1295.4 1199.5L1289 1186.4L1284.1 1173.8L1280.2 1160.3L1277.4 1146.4Z"/>
<path fill="#fa0000" d="M1274.4 1167.9L1269.8 1191.8L1274.7 1191.9L1280.3 1192.5L1286.7 1193.6L1293.1 1195.1L1287.5 1182.9L1283.4 1171.6L1279.9 1159.3L1277.4 1146.4Z"/>
<path fill="#ef0000" d="M1274.6 1166.4L1270.6 1188L1274.8 1188L1279.9 1188.5L1290.9 1190.7L1286.6 1180.6L1282.7 1169.5L1279.7 1158.4L1277.4 1146.4Z"/>
<path fill="#e40000" d="M1274.8 1165L1271.4 1184.1L1279.6 1184.6L1289 1186.4L1284.9 1176.1L1281.7 1166.3L1279.3 1156.6L1277.4 1146.4Z"/>
<path fill="#da0000" d="M1275.3 1162.2L1272.2 1180.3L1279.3 1180.7L1287.2 1182.1L1283.7 1172.7L1281.2 1164.2L1279.1 1155.8L1277.4 1146.4Z"/>
<path fill="#cf0000" d="M1275.5 1160.9L1272.9 1176.5L1278.9 1176.8L1285.6 1177.9L1283 1170.5L1280.6 1162.2L1278.8 1154.1L1277.4 1146.4Z"/>
<path fill="#c50000" d="M1273.6 1172.6L1279.2 1173L1284.1 1173.8L1280.2 1160.3L1277.4 1146.4L1275.7 1159.6Z"/>
<path fill="#ba0000" d="M1277.4 1146.4L1274.2 1168.9L1278.3 1169.1L1282.8 1169.8L1279.7 1158.4Z"/>
<path fill="#af0000" d="M1274.8 1165L1281.6 1165.7L1279.1 1155.8L1277.4 1146.4Z"/>
<path fill="#a50000" d="M1277.4 1146.4L1275.4 1161.3L1280.5 1161.8L1278.8 1154.1Z"/>
<path fill="#9a0000" d="M1277.4 1146.4L1275.9 1157.6L1279.6 1157.9Z"/>
<path fill="#8f0000" d="M1277.4 1146.4L1276.5 1153.8L1278.7 1154Z"/>
<path fill="#850000" d="M1277.4 1146.4L1276.9 1150.1L1278 1150.2Z"/>
</g>
<path d="M1271.3 1797.9L1732.6 1616L1678.5 1594.6L1610.3 1571.2L1496.1 1533.3L1330.6 1479.1L1296.8 1468.5L1276.9 1462.7L1258.7 1458L1241.8 1454.2L1226 1451.2L1209.6 1448.7L1194.5 1447.1L1180.3 1446.2L1165.6 1446L1152.8 1446.5L1140.6 1447.5L1133.8 1449.8L1119.1 1462.4L1103.8 1475L1087.7 1487.9L1073.2 1499L1058.2 1510L1042.6 1520.9L1026.4 1531.7L1012.5 1540.4L1001 1547.1L989.3 1553.6L965.1 1566.2L946.2 1575.5L889.5 1602.6L839.7 1627Z" fill="#00c8c8" fill-opacity="0.7"/>
<path d="M1133.8 1449.8L1140.4 1447.5L1157.9 1446.2L1167.7 1446L1177.9 1446.2L1197 1447.3L1215.4 1449.5L1235.4 1452.9L1256.9 1457.6L1278.1 1463L1300.7 1469.6L1330.6 1479.1L1512 1538.5L1593.3 1565.5L1646.1 1583.4L1678.5 1594.6L1733.1 1616.2" fill="none" stroke="#fff" stroke-width="2.6"/>
<text transform="matrix(0.931 -0.366 0.577 0.228 834.3 1601.8)" font-family="Liberation Sans, Arial, sans-serif" font-weight="bold" font-size="42" fill="#fff" stroke="#fff" stroke-width="1.2" stroke-linejoin="round" textLength="241" lengthAdjust="spacingAndGlyphs">Geometrical</text>
<text transform="matrix(0.931 -0.366 0.577 0.228 878.7 1607.8)" font-family="Liberation Sans, Arial, sans-serif" font-weight="bold" font-size="42" fill="#fff" stroke="#fff" stroke-width="1.2" stroke-linejoin="round" textLength="212" lengthAdjust="spacingAndGlyphs">restriction</text>
<path d="M1225 1329.6L1227.2 1335.9L1230.1 1342.3L1233.7 1348.4L1238.2 1355L1243.6 1361.9L1248.8 1367.7L1255.9 1374.9L1262.6 1381L1271.4 1388.5L1279.4 1394.7L1288.1 1401.1L1297.5 1407.5L1307.4 1414L1320.3 1422L1346.2 1437L1372.5 1451.2L1404.4 1467.6L1436.1 1483L1470.4 1499L1526.6 1524.2L1670.7 1586.4L1704.9 1601.5L1735.2 1615.2" transform="translate(-0.6,1.4)" fill="none" stroke="#1a1ab0" stroke-width="1.6"/>
<path d="M1225 1329.6L1227.2 1335.9L1230.1 1342.3L1233.7 1348.4L1238.2 1355L1243.6 1361.9L1248.8 1367.7L1255.9 1374.9L1262.6 1381L1271.4 1388.5L1279.4 1394.7L1288.1 1401.1L1297.5 1407.5L1307.4 1414L1320.3 1422L1346.2 1437L1372.5 1451.2L1404.4 1467.6L1436.1 1483L1470.4 1499L1526.6 1524.2L1670.7 1586.4L1704.9 1601.5L1735.2 1615.2" fill="none" stroke="#ff0000" stroke-width="2.6" stroke-linecap="butt"/>
<path d="M1271.3 1890.4L1482.4 1807.5L1505.9 1795.7L1524.7 1785.7L1542.9 1775.7L1563.9 1763.5L1583.9 1751.2L1603 1738.9L1621.1 1726.5L1635.5 1716L1652 1703.2L1664.9 1692.3L1677.3 1681.2L1688.9 1669.8L1699.9 1658.1L1710.3 1646L1720 1633.6L1730.8 1618.3L1732.5 1616.5L1734.2 1615.7L1735.9 1614.2L1764.6 1570.5L1771.6 1558.8L1776.7 1549.2L1779.5 1542.9L1781.9 1536.7L1785.1 1525.9L1786.3 1519.7L1787 1515.1L1787.4 1510.4L1787.6 1504.4" fill="none" stroke="#ff0000" stroke-width="3.3" stroke-linejoin="round"/>
<path d="M750.4 1280.1L750.4 1692.1L1271.3 1897.7L1793.2 1692.9" fill="none" stroke="#111" stroke-width="1.4" stroke-linejoin="miter"/>
<path d="M750.4 1692.1L737.8 1687.1M750.4 1623.4L737.8 1618.5M750.4 1554.8L737.8 1549.8M750.4 1486.1L737.8 1481.1M750.4 1417.4L737.8 1412.5M750.4 1348.8L737.8 1343.8M750.4 1280.1L737.8 1275.1M854.6 1733.2L842 1738.2M958.8 1774.3L946.2 1779.3M1062.9 1815.5L1050.4 1820.4M1167.1 1856.6L1154.6 1861.5M1271.3 1897.7L1258.7 1902.6M1271.3 1897.7L1283.9 1902.7M1387.3 1852.2L1399.8 1857.1M1503.3 1806.7L1515.8 1811.6M1619.2 1761.2L1631.8 1766.1M1735.2 1715.7L1747.8 1720.6M750.4 1692.1L737.8 1697" fill="none" stroke="#111" stroke-width="1.4"/>
<text x="727.5" y="1692.4" text-anchor="end" font-family="Liberation Sans, Arial, sans-serif" font-size="22.8">0</text>
<text x="727.5" y="1623.7" text-anchor="end" font-family="Liberation Sans, Arial, sans-serif" font-size="22.8">200</text>
<text x="727.5" y="1555.1" text-anchor="end" font-family="Liberation Sans, Arial, sans-serif" font-size="22.8">400</text>
<text x="727.5" y="1486.4" text-anchor="end" font-family="Liberation Sans, Arial, sans-serif" font-size="22.8">600</text>
<text x="727.5" y="1417.7" text-anchor="end" font-family="Liberation Sans, Arial, sans-serif" font-size="22.8">800</text>
<text x="727.5" y="1349.1" text-anchor="end" font-family="Liberation Sans, Arial, sans-serif" font-size="22.8">1000</text>
<text x="727.5" y="1280.4" text-anchor="end" font-family="Liberation Sans, Arial, sans-serif" font-size="22.8">1200</text>
<text x="728.8" y="1721" text-anchor="end" font-family="Liberation Sans, Arial, sans-serif" font-size="22.8">0</text>
<text x="833" y="1762.1" text-anchor="end" font-family="Liberation Sans, Arial, sans-serif" font-size="22.8">0.2</text>
<text x="937.2" y="1803.2" text-anchor="end" font-family="Liberation Sans, Arial, sans-serif" font-size="22.8">0.4</text>
<text x="1041.3" y="1844.4" text-anchor="end" font-family="Liberation Sans, Arial, sans-serif" font-size="22.8">0.6</text>
<text x="1145.5" y="1885.5" text-anchor="end" font-family="Liberation Sans, Arial, sans-serif" font-size="22.8">0.8</text>
<text x="1249.7" y="1926.6" text-anchor="end" font-family="Liberation Sans, Arial, sans-serif" font-size="22.8">1</text>
<text x="1290.6" y="1926.8" font-family="Liberation Sans, Arial, sans-serif" font-size="22.8">0.1</text>
<text x="1406.6" y="1881.3" font-family="Liberation Sans, Arial, sans-serif" font-size="22.8">0.08</text>
<text x="1522.6" y="1835.8" font-family="Liberation Sans, Arial, sans-serif" font-size="22.8">0.06</text>
<text x="1638.5" y="1790.3" font-family="Liberation Sans, Arial, sans-serif" font-size="22.8">0.04</text>
<text x="1754.5" y="1744.8" font-family="Liberation Sans, Arial, sans-serif" font-size="22.8">0.02</text>
<text x="686" y="1092.6" font-family="Liberation Sans, Arial, sans-serif" font-weight="bold" font-size="55">C</text>
<text x="1195.9" y="1053.8" font-family="Liberation Serif, Times New Roman, serif" font-size="46" font-style="italic" textLength="21.2" lengthAdjust="spacingAndGlyphs">k</text><text x="1234.7" y="1056.1" font-family="Liberation Serif, Times New Roman, serif" font-size="46" textLength="28" lengthAdjust="spacingAndGlyphs">=</text><text x="1280" y="1053.8" font-family="Liberation Serif, Times New Roman, serif" font-size="46" textLength="77.8" lengthAdjust="spacingAndGlyphs">0.05</text>
<text x="697" y="1157" font-family="Liberation Serif, Times New Roman, serif" font-size="30.5" font-style="italic">L</text><text x="713.3" y="1163.8" font-family="Liberation Serif, Times New Roman, serif" font-size="25" font-style="italic" textLength="47.7" lengthAdjust="spacingAndGlyphs">max</text>
<text x="853.3" y="1863.9" font-family="Liberation Serif, Times New Roman, serif" font-size="31.5" font-style="italic" text-anchor="middle">β</text><path d="M827.5 1878.9H879.1" stroke="#111" stroke-width="2.3"/><text x="829.5" y="1909.4" font-family="Liberation Serif, Times New Roman, serif" font-size="31.5" font-style="italic" textLength="47.6" lengthAdjust="spacingAndGlyphs">αC<tspan font-size="22" dy="6.4">0</tspan></text>
<text x="1633.9" y="1877" font-family="Liberation Serif, Times New Roman, serif" font-size="31.5" font-style="italic" text-anchor="middle">τ</text><path d="M1612.9 1892H1654.9" stroke="#111" stroke-width="2.3"/><text x="1613.4" y="1922.5" font-family="Liberation Serif, Times New Roman, serif" font-size="31.5" font-style="italic" textLength="38" lengthAdjust="spacingAndGlyphs">V<tspan font-size="23" dy="5.9">at</tspan></text>
<path d="M1689.4 1365.2L1732.7 1601" stroke="#111" stroke-width="1.5" fill="none"/>
<path d="M1734.8 1612.3L1725.4 1595.7L1732.7 1601L1737.6 1593.5Z" fill="#111"/>
<rect x="1558.4" y="1274.2" width="263.9" height="90.1" fill="#fff" stroke="#222" stroke-width="1.3"/>
<text x="1596.6" y="1309.1" font-family="Liberation Serif, Times New Roman, serif" font-size="34" textLength="185.5" lengthAdjust="spacingAndGlyphs">(0.99; 0.018)</text>
<text x="1574.5" y="1349.7" font-family="Liberation Serif, Times New Roman, serif" font-size="34" font-style="italic">L</text>
<text x="1590.1" y="1355.7" font-family="Liberation Serif, Times New Roman, serif" font-size="31" font-style="italic" textLength="53.8" lengthAdjust="spacingAndGlyphs">max</text>
<text x="1657.4" y="1353.3" font-family="Liberation Serif, Times New Roman, serif" font-size="34" textLength="23.5" lengthAdjust="spacingAndGlyphs">=</text>
<text x="1693.9" y="1349.7" font-family="Liberation Serif, Times New Roman, serif" font-size="34" textLength="53" lengthAdjust="spacingAndGlyphs">286</text>
<text x="1760.1" y="1349.7" font-family="Liberation Serif, Times New Roman, serif" font-size="34" font-style="italic" textLength="45.2" lengthAdjust="spacingAndGlyphs">μm</text>
</svg>
</body></html>
